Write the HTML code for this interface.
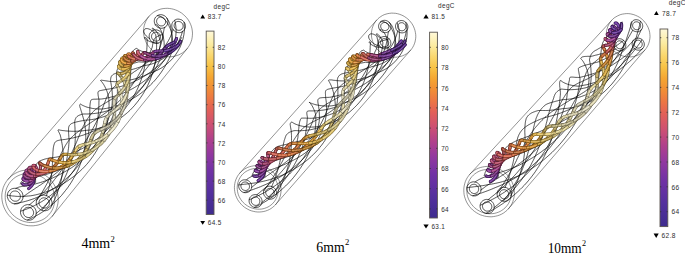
<!DOCTYPE html>
<html><head><meta charset="utf-8"><style>
html,body{margin:0;padding:0;background:#fff;}
body{width:685px;height:253px;overflow:hidden;position:relative;}
svg{position:absolute;left:0;top:0;}
svg path{fill:none;stroke-linecap:round;stroke-linejoin:round;}
svg path.f{fill:#000;stroke:none;}
.tk{font-family:"Liberation Sans",sans-serif;fill:#2e2e2e;letter-spacing:0.35px;}
.lab{font-family:"Liberation Serif",serif;font-size:15px;fill:#000;}
</style></head><body>
<svg width="685" height="253" viewBox="0 0 685 253">
<path d="M52.1 216.4l135.1-167.8M7.9 179.5l140.9-162.9M52.1 216.4l1.4-1.9 1.3-2.1 1.1-2.1 .9-2.2 .6-2.3 .5-2.4 .3-2.4 0-2.5-.2-2.4-.4-2.4-.6-2.4-.8-2.4-1-2.2-1.2-2.2-1.4-2.1-1.5-2-1.7-1.8-1.9-1.7-2-1.5-2.1-1.4-2.2-1.2-2.3-.9-2.4-.8-2.4-.6-2.4-.4-2.5-.1-2.4 0-2.5 .3-2.4 .4-2.3 .7-2.2 .9-2.2 1.1-2 1.2-1.9 1.5-1.8 1.6-1.6 1.8-1.5 1.9-1.2 2-1.1 2.1-.9 2.2-.6 2.4-.5 2.3-.3 2.4 0 2.5 .2 2.4 .4 2.4 .6 2.4 .8 2.4 1 2.2 1.2 2.2 1.3 2.1 1.6 2 1.7 1.8 1.9 1.7 2 1.5 2.1 1.4 2.2 1.2 2.3 .9 2.3 .8 2.5 .6 2.4 .4 2.5 .1 2.4 0 2.5-.3 2.3-.4 2.4-.7 2.2-.9 2.2-1.1 2-1.2 1.9-1.5 1.8-1.6zM49.4 214.1l1.3-1.6 1.1-1.8 1-1.9 .7-2 .6-2 .4-2.1 .3-2.1 0-2.1-.1-2.2-.4-2.1-.5-2.1-.7-2.1-.9-2-1.1-1.9-1.2-1.8-1.3-1.8-1.5-1.6-1.7-1.5-1.7-1.3-1.9-1.2-1.9-1-2.1-.9-2-.7-2.2-.5-2.1-.3-2.2-.2-2.2 .1-2.1 .2-2.1 .4-2 .6-2 .8-1.9 .9-1.8 1.1-1.7 1.3-1.5 1.4-1.5 1.6-1.2 1.6-1.1 1.8-1 1.9-.8 2-.6 2-.4 2.1-.2 2.1 0 2.1 .1 2.2 .4 2.1 .5 2.1 .7 2.1 .9 2 1 1.9 1.3 1.8 1.3 1.8 1.5 1.6 1.7 1.5 1.7 1.3 1.9 1.2 1.9 1.1 2 .8 2.1 .7 2.2 .5 2.1 .4 2.2 .1 2.1 0 2.2-.3 2.1-.4 2-.6 2-.8 1.9-.9 1.8-1.1 1.7-1.3 1.5-1.4zM187.2 48.6l1.2-1.7 1.1-1.7 1-1.9 .7-1.9 .6-2 .4-2.1 .2-2.1 .1-2.1-.2-2.1-.3-2.1-.5-2.1-.7-2-.9-2-1-1.9-1.2-1.8-1.4-1.7-1.5-1.6-1.6-1.4-1.7-1.4-1.8-1.1-2-1.1-2-.8-2-.7-2.1-.5-2.1-.3-2.2-.2-2.1 .1-2.1 .2-2.1 .4-2 .6-1.9 .8-1.9 .9-1.8 1.1-1.6 1.3-1.6 1.3-1.4 1.6-1.2 1.6-1.1 1.8-.9 1.8-.8 2-.6 2-.4 2-.2 2.1-.1 2.1 .2 2.1 .3 2.1 .6 2.1 .7 2 .8 2 1.1 1.9 1.2 1.8 1.3 1.7 1.5 1.6 1.6 1.5 1.7 1.3 1.9 1.2 1.9 1 2 .9 2 .6 2.1 .6 2.2 .3 2.1 .1 2.1 0 2.1-.3 2.1-.4 2-.6 2-.7 1.8-1 1.8-1 1.7-1.3 1.5-1.4z" stroke="#3a3a3a" stroke-width="0.55"/><path id="w1" d="M20.3 184l.2-.7 .3-.6 .3-.6 .4-.5 .5-.5 .5-.4 .7-.4 .6-.3 .8-.3 .9-.3 .9-.3 1-.2 1.1-.2 1.2-.2 1.3-.3 1.3-.3 1.5-.3 1.4-.3 1.6-.4 1.6-.4 1.7-.4 1.7-.4 1.9-.5 1.8-.5 1.9-.6 2-.7 2-.6 2.1-.8 2.1-.8 2.1-.8 2.3-.9 2.4-.9 2.4-1 2.4-1.2 2.4-1.2 2.4-1.3 2.4-1.4 2.4-1.6 2.4-1.6 2.3-1.7 2.3-1.8 2.3-1.9 2.2-1.9 2.2-2.1 2.1-2.1 1.9-2.1 2-2.2 1.8-2.3 1.8-2.3 1.7-2.4 1.7-2.4 1.5-2.4 1.5-2.4 1.4-2.5 1.3-2.5 1.3-2.5 1.1-2.6 1.1-2.5 1-2.5 .9-2.6 .7-2.7 .6-2.7 .5-2.6 .4-2.6 .3-2.6 .2-2.4 .1-2.3 0-2.3 0-2.2-.1-2-.1-2-.2-1.8-.2-1.7-.2-1.6-.1-1.4-.1-1.4 0-1.2 0-1.2 .1-1.1 0-1 .2-.9 .1-.8 .2-.8 .3-.7 .3-.6 .4-.5 .5-.5 .5-.5 .6-.4 .7-.4 .8-.3 .9-.4 1-.3 1-.3 1.2-.3 1.2-.3 1.2-.3 1.4-.3 1.5-.3 1.5-.4 1.6-.3 1.7-.4 1.7-.5 1.8-.5 2.4 .2 2.8 .1 3-.2 3.2-.4 3.2-.8 3.3-1 3.3-1.4 3.3-1.6 3.2-2 3-2.3 2.9-2.5 2.7-2.8 2.5-3 2.1-3.2 1.9-3.3M35.6 182.5l0-1.8 0-1.7 0-1.6 0-1.5-.1-1.5 0-1.4 0-1.2 0-1.2 0-1.1 .1-1.1 .1-.9 .1-.9 .2-.8 .2-.7 .2-.7 .4-.7 .5-.6 .5-.5 .5-.6 .6-.4 .7-.5 .8-.4 .8-.3 .9-.4 1-.3 1-.4 1.1-.3 1.2-.3 1.2-.3 1.4-.3 1.4-.2 1.6-.2 1.6-.2 1.7-.2 1.8-.3 1.9-.4 2-.4 2-.4 2.1-.6 2.2-.6 2.2-.6 2.2-.8 2.3-.9 2.4-.9 2.3-1 2.3-1.2 2.3-1.2 2.3-1.3 2.3-1.3 2.3-1.5 2.3-1.6 2.3-1.6 2.2-1.7 2.2-1.8 2.2-1.8 2.1-2 2.1-2 2-2 2-2.2 2-2.3 2-2.5 1.9-2.5 1.8-2.6 1.7-2.7 1.5-2.7 1.4-2.7 1.3-2.7 1.2-2.8 1-2.8 .9-2.7 .8-2.8 .7-2.7 .6-2.6 .4-2.6 .5-2.4 .4-2.4 .3-2.2 .2-2.2 .3-2.2 .1-2 .1-2 .1-1.9 0-1.8 .1-1.7 0-1.7 0-1.5 0-1.5-.1-1.4 0-1.3 .1-1.2 .1-1.1 .1-1 .2-1 .2-.9 .2-.8 .3-.8 .4-.7 .4-.6 .4-.6 .5-.5 .6-.5 .7-.5 .8-.4 .8-.3 .8 .5 1 .8 1.4 .7 1.6 .7 2 .6 2.2 .6 2.5 .3 2.7 .1 2.9 0 3.1-.4 3.2-.6 3.3-1 3.3-1.2 3.2-1.6 3.2-1.9M7.5 195.2l1.2 .2 1.2 .2 1.4 .2 1.4 .2 1.6 .1 1.7 .2 1.8 .1 1.9 0 2 0 2.1 0 2.2-.2 2.2-.2 2.4-.2 2.4-.4 2.5-.5 2.4-.6 2.5-.6 2.5-.8 2.6-.9 2.6-.9 2.6-1.1 2.6-1.1 2.7-1.3 2.6-1.3 2.6-1.5 2.6-1.5 2.6-1.6 2.6-1.8 2.5-1.8 2.6-1.9 2.6-2.1 2.6-2.3 2.5-2.3 2.4-2.4 2.4-2.6 2.2-2.6 2.1-2.7 2-2.8 1.9-2.8 1.8-2.9 1.6-3 1.6-3 1.4-3 1.2-3 1.2-3 1-3 .9-2.9 .8-2.9 .7-2.8 .6-2.9 .4-2.8 .4-2.7 .3-2.7 .2-2.7 .1-2.5 .1-2.5-.1-2.4-.1-2.3-.1-2.3-.4-2.2-.6-2.1-.6-2.1-.7-1.8-.8-1.7-.7-1.5-.7-1.3-.7-1.2-.7-1-.6-.9-.5-.6-.5-.6-.3-.4-.3-.2-.2-.1 .1-.2 .3-.1 .3-.1 .5 0 .6 .1 .7 .1 .8 .1 1 .2 1 .1 1.2 .2 1.3 .2 1.5 .2 1.5 .1 1.7 .1 1.8 .1 1.8 0 2-.1 2-.2 2.2-.2 2.2-.3 2.3-.3 2.3-.5 2.4-.5 2.5-.6 2.5-.8 2.6-.8 2.6-.9 2.6-1 2.6-1.2 2.6-1.2 3.9-1.4 4.1-1.8 3.9-2.2 3.7-2.6 3.5-3 3.3-3.3 2.9-3.6 2.5-3.9 2.2-4 1.7-4.2 1.3-4.2 .9-4.3 .5-4.2 0-4-.3-4M14.5 203.7l1.7-.3 1.8-.3 1.8-.4 1.9-.4 2-.5 2-.5 2.1-.6 2.1-.7 2.2-.7 2.2-.8 2.2-.9 2.3-1 2.3-1 2.3-1.1 2.4-1.2 2.2-1.3 2.3-1.4 2.2-1.4 2.3-1.5 2.2-1.6 2.2-1.6 2.2-1.8 2.2-1.8 2.1-1.8 2.1-1.9 2-2 2-2 1.9-2.1 1.9-2.2 1.9-2.2 1.8-2.4 1.8-2.4 1.7-2.5 1.6-2.5 1.6-2.6 1.4-2.5 1.3-2.6 1.2-2.7 1.2-2.6 1-2.6 1-2.6 .8-2.6 .8-2.6 .6-2.5 .6-2.5 .6-2.4 .4-2.3 .4-2.3 .4-2.2 .3-2.2 .2-2.1 .2-2.1 .2-2 .1-1.9 .1-1.8 .1-1.8 0-1.6 0-1.6 .1-1.5-.1-1.4-.3-1.4-.2-1.2-.2-1-.1-1-.1-.8-.1-.8 .1-.6 .1-.5 .2-.4 .3-.4 .4-.2 .5-.2 .7-.2 .7-.1 .9-.2 1-.2 1.1-.2 1.2-.2 1.3-.3 1.4-.2 1.5-.2 1.5-.3 1.6-.3 1.8-.3 1.8-.4 1.8-.5 2-.4 2-.6 2-.6 2.1-.7 2.1-.8 2.2-.8 2.2-.9 2.2-1 2.2-1.1 2.3-1.2 2.2-1.2 2.3-1.3 2.2-1.4 2.3-1.5 2.2-1.5 2.2-1.7 2.2-1.7 2.2-1.8 2.7-2.2 2.9-2.6 2.6-2.8 2.4-3.1 2.2-3.2 1.8-3.4 1.5-3.5 1.3-3.5 .9-3.5 .6-3.5 .3-3.3 0-3.3-.3-3-.4-2.9-.6-2.6M22.8 197l1.2-.9 1.2-.8 1.2-.9 1.3-.9 1.2-.9 1.4-.9 1.3-.9 1.4-.9 1.5-1 1.4-1 1.5-.9 1.5-1.1 1.6-1 1.5-1 1.6-1.1 1.6-1.2 1.5-1.1 1.6-1.2 1.7-1.3 1.6-1.2 1.6-1.3 1.6-1.3 1.6-1.3 1.7-1.4 1.6-1.4 1.6-1.5 1.6-1.4 1.6-1.5 1.6-1.6 1.6-1.5 1.7-1.6 1.6-1.7 1.6-1.7 1.5-1.7 1.6-1.8 1.5-1.7 1.4-1.9 1.5-1.8 1.4-1.8 1.3-1.9 1.3-1.9 1.3-1.9 1.2-1.9 1.2-1.9 1.2-1.9 1.1-1.9 1.1-1.9 1-1.8 1-1.9 1-1.9 1-1.8 .9-1.8 .9-1.8 .8-1.8 .8-1.8 .8-1.7 .8-1.7 .8-1.7 .7-1.7 .7-1.6 .6-1.7 .6-1.5 .5-1.6 .6-1.5 .6-1.4 .5-1.4 .6-1.3 .6-1.3 .6-1.2 .6-1.1 .6-1.2 .7-1 .7-1 .8-1 .8-1 .8-1 .9-1 1-.9 1-1 1-.9 1-.9 1.1-.9 1.2-.9 1.1-.9 1.2-.8 1.3-.9 1.3-.9 1.3-1 1.3-.9 1.4-.9 1.4-1 1.5-1 1.4-1 1.5-1.1 1.6-1 1.5-1.1 1.6-1.1 1.5-1.2 1.6-1.1 1.6-1.3 1.6-1.2 1.7-1.3 1.6-1.3 1.6-1.3 2.1-1.4 2-1.5 2.1-1.7 2-1.8 1.9-1.9 1.8-2 1.7-2 1.6-2.2 1.5-2.3 1.3-2.2 1.2-2.3 1.1-2.3 .9-2.3 .8-2.3 .7-2.2M15.8 188.5l.6-.4 .7-.3 .7-.3 .9-.3 .9-.3 1-.2 1.1-.2 1.1-.2 1.3-.2 1.3-.3 1.4-.2 1.5-.2 1.6-.3 1.7-.3 1.7-.4 1.7-.4 1.9-.5 1.8-.5 2-.6 2-.6 2-.7 2-.8 2.2-.8 2.1-.8 2.2-1 2.1-1 2.3-1 2.2-1.2 2.2-1.2 2.3-1.3 2.4-1.3 2.5-1.5 2.4-1.5 2.3-1.6 2.4-1.8 2.3-1.8 2.2-1.9 2.2-2 2.2-2.1 2.1-2.1 2-2.3 2-2.3 1.9-2.3 1.7-2.4 1.7-2.5 1.6-2.4 1.5-2.4 1.5-2.5 1.3-2.5 1.3-2.5 1.2-2.6 1.1-2.5 1-2.5 .9-2.5 .9-2.5 .8-2.5 .7-2.4 .6-2.4 .6-2.4 .4-2.5 .2-2.4 .1-2.4 .1-2.3 0-2.2-.1-2.1-.1-2-.2-1.9-.2-1.8-.2-1.6-.3-1.5-.2-1.4-.2-1.2-.2-1.2-.1-1 0-.9 .1-.9 .1-.8 .3-.8 .2-.6 .4-.6 .4-.5 .5-.5 .5-.4 .7-.4 .7-.3 .8-.3 .9-.3 1-.2 1.1-.3 1.2-.3 1.2-.2 1.3-.3 1.5-.3 1.5-.4 1.5-.3 1.7-.4 1.7-.4 1.8-.5 1.8-.5 1.9-.5 2-.7 2-.6 2.1-.8 2.1-.8 3.2-.5 3.2-.7 3.3-1 3.3-1.4 3.3-1.6 3.2-1.9 3.1-2.3 2.9-2.5 2.8-2.8 2.4-2.9 2.3-3.2 1.9-3.3 1.6-3.5 1.4-3.4 1-3.5M21.4 201.3l.8-1.3 .6-1.4 .3-1.5-.1-1.5-.3-1.5-.6-1.5-.9-1.3-1.1-1.1-1.3-.9-1.4-.6-1.6-.4-1.5 0-1.5 .2-1.5 .6-1.2 .8-1.1 1-.8 1.3-.6 1.4-.3 1.5 0 1.5 .4 1.5 .6 1.5 .9 1.3 1.1 1.1 1.3 .9 1.4 .6 1.5 .4 1.6 0 1.5-.2 1.4-.6 1.3-.8zM19.3 199.5l.5-.8 .4-.9 .2-1-.1-1-.2-1-.4-1-.6-.8-.7-.8-.8-.6-1-.4-1-.2-1 0-1 .1-.9 .4-.9 .5-.7 .7-.5 .8-.4 .9-.2 1 0 1 .2 1 .4 1 .6 .8 .8 .8 .8 .5 1 .5 1 .2 1 0 1-.1 .9-.4 .8-.5zM184 30.4l.7-1.1 .5-1.2 .3-1.3-.1-1.3-.2-1.4-.6-1.2-.7-1.1-1-1-1.1-.8-1.3-.5-1.3-.3-1.4-.1-1.3 .2-1.2 .5-1.1 .7-.9 .9-.8 1.1-.5 1.2-.2 1.3 0 1.3 .3 1.3 .5 1.3 .8 1.1 1 1 1.1 .8 1.2 .5 1.4 .3 1.3 .1 1.3-.2 1.3-.5 1.1-.7zM182.2 28.8l.4-.7 .4-.8 .1-.8 0-.9-.2-.9-.3-.8-.5-.7-.7-.7-.7-.5-.8-.3-.9-.2-.9-.1-.9 .2-.8 .3-.7 .5-.6 .5-.5 .8-.3 .8-.2 .8 .1 .9 .1 .8 .4 .9 .5 .7 .6 .6 .8 .6 .8 .3 .9 .2 .8 0 .9-.1 .8-.3 .7-.5zM27.6 219.9l2.7-1.2 2.8-1.3 2.8-1.5 2.7-1.5 2.8-1.7 2.6-1.8 2.7-1.9 2.6-2 2.5-2.1 2.5-2.2 2.5-2.3 2.3-2.4 2.3-2.4 2.1-2.6 2.1-2.6 2-2.6 1.8-2.6 1.8-2.7 1.6-2.8 1.6-2.7 1.5-2.8 1.4-2.9 1.3-2.8 1.1-2.8 1.1-2.9 1-2.8 .9-2.9 .8-2.8 .7-2.8 .6-2.8 .4-2.9 .3-2.9 .2-2.8 .1-2.7-.1-2.7-.1-2.5-.2-2.5-.2-2.3-.3-2.3-.4-2.1-.4-2-.5-1.9-.5-1.7-.5-1.7-.5-1.5-.3-1.4-.4-1.2-.4-1.2-.3-1.1-.3-.9-.3-.8-.2-.8-.1-.6-.1-.6 0-.4 .1-.4 .1-.3 .3-.2 .3-.2 .3 .1 .4 .3 .6 .4 .7 .4 .9 .4 1.1 .5 1.2 .5 1.4 .5 1.6 .4 1.8 .4 1.8 .4 2.1 .3 2.2 .2 2.3 .1 2.5 0 2.4-.2 2.5-.4 2.5-.5 2.5-.6 2.7-.7 2.6-.8 2.7-.9 2.8-1 2.7-1.2 2.8-1.3 2.7-1.4 2.7-1.5 2.7-1.7 2.7-1.7 2.6-1.9 2.5-2 2.5-2.1 2.4-2.1 2.3-2.3 2.3-2.3 2.2-2.4 2.1-2.5 2-2.6 1.9-2.6 1.8-2.7 1.7-2.7 1.6-2.8 1.5-2.8 1.4-2.8 1.3-2.8 1.1-4.1 .7-4.3 .3-4.2-.1-4.1-.5-3.8-.8-3.6-1.1-3.3-1.4-3-1.5-2.6-1.7-2.2-1.7-1.8-1.7-1.3-1.7-1-1.5-.5-1.4-.2M35.9 213.7l2.2-1.8 2.3-1.9 2.1-1.9 2.2-2.1 2-2.1 2-2.2 2-2.2 1.9-2.3 1.8-2.3 1.7-2.4 1.7-2.4 1.5-2.5 1.5-2.5 1.4-2.5 1.4-2.5 1.2-2.5 1.2-2.5 1.1-2.5 1-2.4 1-2.5 .9-2.5 .8-2.4 .7-2.4 .7-2.4 .6-2.3 .6-2.3 .5-2.3 .4-2.2 .4-2.2 .3-2.1 .1-2.2 .1-2.1 .1-2 0-2-.1-1.8 0-1.8-.1-1.6-.1-1.6 0-1.5-.1-1.3-.1-1.3 0-1.2-.1-1.1 0-1 .1-.9 .2-.9 .2-.8 .3-.7 .3-.6 .3-.6 .5-.6 .5-.5 .6-.4 .6-.4 .8-.4 .8-.3 .9-.3 .9-.3 1.1-.3 1.1-.1 1.2 0 1.4 0 1.5 0 1.6-.1 1.8-.1 1.8-.2 2-.2 2-.3 2.2-.3 2.2-.5 2.3-.5 2.4-.7 2.4-.7 2.5-.9 2.4-1.1 2.3-1.1 2.4-1.2 2.3-1.4 2.3-1.4 2.4-1.5 2.3-1.6 2.3-1.6 2.2-1.8 2.2-1.9 2.2-1.9 2.1-2 2.1-2.1 2-2.1 1.9-2.2 1.9-2.3 1.7-2.3 1.7-2.3 1.6-2.4 1.6-2.4 1.4-2.4 1.4-2.5 1.3-2.4 1.2-2.5 1.2-2.5 1-2.5 1-2.4 .9-2.5 .8-2.4 .8-2.4 .1-3-.1-3.2-.4-3-.5-2.8-.8-2.5-.8-2.2-1-2-.9-1.6-1-1.3-.9-1-.9-.7-.6-.4-.5-.2-.3 .1-.1 .3M29.2 204.9l1.7-1.3 1.7-1.4 1.6-1.4 1.7-1.4 1.7-1.5 1.6-1.5 1.6-1.6 1.7-1.6 1.6-1.6 1.6-1.6 1.5-1.7 1.5-1.7 1.6-1.7 1.4-1.8 1.5-1.8 1.4-1.8 1.4-1.8 1.3-1.8 1.4-1.8 1.3-1.8 1.2-1.8 1.2-1.9 1.2-1.8 1.2-1.9 1.1-1.8 1.2-1.9 1-1.8 1.1-1.9 1-1.8 1-1.9 .9-1.8 .9-1.9 .8-1.8 .8-1.9 .8-1.8 .8-1.7 .7-1.7 .7-1.7 .7-1.7 .7-1.6 .6-1.6 .7-1.6 .6-1.5 .6-1.4 .7-1.5 .6-1.3 .7-1.4 .7-1.3 .7-1.3 .7-1.2 .7-1.3 .7-1.1 .7-1.2 .8-1.1 .8-1.1 .8-1.1 .8-1 .9-1 .9-1 .9-.9 .9-.9 1-.8 1-.8 1.1-.8 1.1-.8 1.2-.8 1.3-.8 1.2-.8 1.4-.9 1.4-.8 1.4-.8 1.5-.9 1.5-.9 1.6-1 1.6-1 1.6-1.1 1.5-1.1 1.7-1.1 1.6-1.2 1.6-1.2 1.7-1.2 1.6-1.3 1.7-1.3 1.7-1.4 1.6-1.4 1.7-1.4 1.6-1.5 1.7-1.5 1.6-1.5 1.6-1.6 1.6-1.6 1.5-1.6 1.6-1.7 1.5-1.7 1.5-1.7 1.4-1.7 1.4-1.8 1.4-1.8 1.4-1.8 1.3-1.8 1.3-1.8 1.3-1.9 1.2-1.8 1.2-1.9 1.2-2.2 1-2.3 .9-2.3 .7-2.2 .7-2.2 .5-2.1 .4-2 .4-1.9 .3-1.8 .3-1.6 .2-1.5 .3-1.4 .2-1.3 .3-1.1 .4-1M20.9 211.1l2.2-.7 2.2-.8 2.3-.9 2.3-1 2.3-1 2.3-1.1 2.4-1.3 2.3-1.3 2.4-1.3 2.3-1.5 2.3-1.5 2.3-1.7 2.3-1.7 2.2-1.8 2.2-1.8 2.1-1.9 2.1-2 2-2 2-2.1 1.9-2.2 1.9-2.1 1.7-2.3 1.8-2.3 1.7-2.3 1.6-2.3 1.5-2.4 1.5-2.4 1.4-2.4 1.3-2.5 1.3-2.5 1.2-2.6 1-2.6 1-2.7 .9-2.6 .8-2.6 .7-2.5 .6-2.6 .6-2.5 .4-2.4 .4-2.4 .3-2.3 .2-2.2 .2-2.2 .1-2.1 .1-2 .1-1.9 .1-1.9 0-1.7 .1-1.7 0-1.6 0-1.5 0-1.4 0-1.4 .1-1.2 0-1.2 .1-1.1 .1-1 .1-1 .2-.9 .1-.7 .1-.6 .2-.4 .2-.4 .4-.3 .4-.2 .6-.2 .7-.1 .8-.1 1 0 1 0 1.2-.1 1.3 0 1.5 0 1.5-.1 1.6-.2 1.7-.3 1.8-.3 1.8-.4 1.9-.5 2-.5 2-.5 2.1-.7 2.2-.7 2.2-.8 2.2-.9 2.3-.9 2.3-1.1 2.3-1.1 2.3-1.2 2.3-1.3 2.3-1.4 2.2-1.4 2.3-1.6 2.2-1.6 2.2-1.7 2.2-1.8 2.1-1.9 2.1-1.9 2-2 2-2.1 2-2.1 1.8-2.2 1.8-2.2 1.8-2.3 2.1-3.3 1.8-3.4 1.6-3.5 1.1-3.5 .9-3.5 .6-3.5 .3-3.4 0-3.2-.3-3.1-.5-2.8-.6-2.6-.8-2.3-.9-2.1-1-1.7-.9-1.4M34.6 217.6l.8-1.2 .6-1.4 .3-1.5-.1-1.6-.3-1.5-.6-1.4-.9-1.3-1.1-1.1-1.3-.9-1.4-.7-1.6-.3-1.5-.1-1.5 .3-1.4 .5-1.3 .8-1.1 1.1-.8 1.2-.6 1.4-.3 1.5 0 1.5 .4 1.6 .6 1.4 .9 1.3 1.1 1.1 1.3 .9 1.4 .6 1.6 .4 1.5 0 1.5-.2 1.4-.5 1.3-.9zM32.5 215.8l.5-.8 .4-.9 .2-1 0-1-.3-1-.4-.9-.5-.9-.8-.7-.8-.6-1-.4-1-.3-1 0-1 .2-.9 .3-.9 .5-.7 .7-.5 .9-.4 .9-.2 1 0 1 .3 1 .4 .9 .5 .9 .8 .7 .8 .6 1 .4 1 .2 1 .1 1-.2 .9-.4 .9-.5zM166.5 26l.7-1.1 .5-1.2 .2-1.3 0-1.4-.3-1.3-.5-1.2-.8-1.2-.9-.9-1.2-.8-1.2-.5-1.3-.4-1.4 0-1.3 .2-1.2 .5-1.1 .7-1 .9-.7 1.1-.5 1.2-.2 1.3 0 1.3 .3 1.3 .5 1.3 .8 1.1 .9 1 1.2 .8 1.2 .5 1.3 .3 1.4 .1 1.3-.3 1.2-.4 1.1-.7zM164.6 24.4l.5-.7 .3-.8 .2-.8 0-.9-.2-.9-.4-.8-.5-.7-.6-.7-.7-.5-.9-.3-.8-.2-.9-.1-.9 .2-.8 .3-.7 .4-.6 .6-.5 .7-.3 .8-.2 .9 0 .9 .2 .8 .4 .8 .5 .8 .6 .6 .7 .5 .9 .4 .8 .2 .9 0 .9-.1 .8-.3 .7-.5zM51.5 205.6l1.6-3 1.4-2.9 1.3-3 1.2-2.9 1.1-3 1-3 .9-3 .8-2.9 .6-2.9 .5-2.9 .5-2.8 .3-2.8 .3-2.7 .1-2.7 .1-2.6 .1-2.4 0-2.4-.1-2.3-.1-2.2-.1-2.1-.2-2.1-.3-1.9-.2-1.9-.3-1.7-.3-1.7-.3-1.6-.3-1.4-.3-1.4-.3-1.3-.3-1.2-.5-1-.4-.9-.4-.8-.3-.6-.3-.6-.2-.4-.1-.3 0-.3 .2-.1 .2-.1 .3 0 .4 .1 .6 .1 .7 .2 .8 .1 .9 .2 1.1 .1 1.2 .1 1.2 .2 1.4 .1 1.5 .1 1.7 .1 1.7 .1 1.8 0 1.9 0 2-.1 2.1-.1 2.2-.2 2.3-.3 2.5-.3 2.7-.2 2.8-.4 2.9-.6 3-.6 2.9-.9 3.1-1 3-1.2 3.1-1.3 3-1.6 3-1.7 2.9-1.8 2.9-2 2.8-2.2 2.8-2.3 2.5-2.3 2.3-2.4 2.3-2.5 2.1-2.6 2.1-2.7 1.9-2.7 1.9-2.8 1.7-2.8 1.6-2.9 1.5-2.9 1.3-2.9 1.3-3 1.1-2.9 1-3 .9-2.9 .8-2.9 .6-2.8 .6-2.8 .5-2.7 .3-2.7 .3-2.6 .2-2.6 .1-2.5 .1-2.4 0-2.3-.1-2.3-.2-2.1-.2-2.1-.2-1.9-.2-1.9-1.6-2-1.8-1.6-1.7-1.3-1.7-.7-1.5-.4-1.3 0-1.1 .3-.7 .7-.4 .9-.1 1.2 .4 1.3 .8 1.5 1.2 1.4 1.6 1.5 2 1.3M46.3 196l.9-2.6 .8-2.5 .8-2.6 .6-2.4 .6-2.5 .5-2.4 .4-2.3 .4-2.3 .3-2.3 .3-2.2 .2-2.1 .1-2.1 .1-1.9 .1-2 .1-1.8 .1-1.7 .1-1.7 0-1.6 .1-1.5 .1-1.4 0-1.4 .1-1.3 .1-1.2 .1-1.2 .1-1.1 .2-1 .2-1 .2-.9 .3-.8 .2-.7 .3-.6 .3-.5 .4-.5 .4-.4 .6-.3 .6-.3 .7-.3 .8-.2 .9-.2 1-.2 1.1-.1 1.2-.2 1.3-.2 1.4-.1 1.5-.3 1.5-.3 1.6-.3 1.7-.3 1.8-.4 1.8-.5 1.9-.4 2-.6 2-.6 2.1-.6 2.1-.8 2.1-.8 2.2-.8 2.3-1 2.2-1 2.4-1 2.5-1.2 2.6-1.2 2.5-1.4 2.6-1.5 2.5-1.7 2.5-1.7 2.4-1.9 2.4-2 2.3-2.1 2.3-2.2 2.1-2.3 2.1-2.4 1.9-2.5 1.9-2.5 1.7-2.5 1.6-2.5 1.5-2.5 1.4-2.5 1.3-2.6 1.2-2.5 1.1-2.6 1-2.6 1-2.5 .8-2.5 .8-2.5 .7-2.5 .6-2.4 .5-2.4 .4-2.4 .4-2.2 .4-2.2 .3-2.2 .3-2 .2-2 .1-2 .2-1.8 .1-1.8 .1-1.7 .1-1.6 0-1.6 .1-1.5 .1-1.4 0-1.3 .1-1.2-.7-.8-.9-.6-.6-.3-.4 0-.3 .2 .1 .3 .3 .6 .6 .6 .9 .7 1.3 .7 1.5 .7 1.9 .7 2.2 .5 2.4 .4 2.6 .2M36.8 200.3l1.3-1.8 1.3-1.9 1.2-1.9 1.2-1.9 1.1-1.9 1.1-1.9 1.1-1.9 1-1.9 1-1.8 1-1.9 .9-1.9 .9-1.8 .9-1.8 .8-1.8 .8-1.8 .8-1.7 .8-1.7 .8-1.7 .8-1.6 .7-1.6 .7-1.6 .7-1.6 .8-1.5 .7-1.6 .7-1.4 .6-1.5 .7-1.4 .7-1.4 .7-1.3 .7-1.4 .7-1.2 .6-1.3 .7-1.2 .7-1.1 .7-1.1 .7-1.1 .8-1.1 .8-1 .8-1 .8-1 .9-.9 1-.9 .9-.9 1-.9 1.1-.9 1.1-.9 1.1-.9 1.2-.9 1.2-.9 1.2-.9 1.3-.9 1.3-1 1.3-.9 1.4-.9 1.4-1 1.4-1 1.5-1 1.5-1 1.5-1 1.6-1 1.6-1.1 1.7-1 1.7-1.1 1.8-1.2 1.7-1.2 1.8-1.3 1.7-1.3 1.8-1.4 1.7-1.4 1.8-1.5 1.7-1.6 1.7-1.5 1.7-1.7 1.7-1.7 1.5-1.7 1.6-1.7 1.5-1.7 1.5-1.8 1.4-1.8 1.4-1.8 1.4-1.8 1.3-1.9 1.3-1.8 1.3-1.9 1.2-1.9 1.2-1.9 1.2-1.8 1.1-1.9 1-1.9 1.1-1.9 1-1.8 1-1.9 .9-1.8 .9-1.8 .9-1.8 .8-1.7 .9-1.8 .8-1.7 .8-1.7 .7-1.6 .8-1.7 .7-1.6 .7-1.5 .7-1.6 .3-1.6 .2-1.4 .3-1.4 .2-1.2 .3-1 .4-1 .5-.8 .5-.7 .7-.7 .8-.6 .9-.5 1-.5 1.2-.5 1.3-.4 1.4-.6M42 209.9l2-2.2 1.8-2.3 1.9-2.3 1.7-2.4 1.7-2.5 1.5-2.4 1.6-2.5 1.4-2.5 1.3-2.6 1.3-2.5 1.1-2.6 1.1-2.6 1-2.5 .9-2.6 .9-2.5 .7-2.4 .7-2.4 .7-2.4 .6-2.3 .5-2.3 .5-2.3 .4-2.2 .3-2.2 .4-2.1 .2-2 .3-2 .2-2 .1-1.8 .2-1.8 .1-1.8-.1-1.7-.1-1.6-.1-1.5-.1-1.5-.1-1.3 0-1.2-.1-1.1 0-1.1 0-.9 .1-.9 .1-.8 .2-.7 .2-.6 .3-.5 .4-.5 .5-.5 .6-.5 .6-.4 .7-.3 .8-.3 .9-.4 1-.2 1-.3 1.1-.3 1.2-.2 1.3-.3 1.4-.3 1.5-.3 1.5-.3 1.7-.2 1.8-.1 2-.2 2-.3 2.1-.3 2.2-.4 2.3-.6 2.4-.6 2.4-.7 2.5-.9 2.5-.9 2.5-1.1 2.5-1.2 2.6-1.4 2.5-1.4 2.4-1.6 2.3-1.6 2.3-1.7 2.2-1.8 2.2-1.9 2.2-2 2.1-2.1 2-2.1 2-2.2 1.9-2.2 1.8-2.4 1.7-2.3 1.7-2.4 1.6-2.5 1.5-2.4 1.4-2.5 1.3-2.5 1.3-2.5 1.1-2.4 1.1-2.5 1-2.5 .9-2.5 .8-2.4 .8-2.4 .6-2.4 .7-2.4 .5-2.3 .5-2.3 .4-2.2 .4-2.2-.5-2.8-.8-2.5-.8-2.2-1-2-1-1.6-.9-1.3-1-1-.8-.7-.7-.4-.5-.2-.3 .1 0 .3 .2 .5 .5 .5 .8 .7M50.4 208.1l.8-1.2 .6-1.4 .2-1.5 0-1.6-.3-1.5-.6-1.4-.9-1.3-1.1-1.1-1.3-.9-1.5-.7-1.5-.3-1.5-.1-1.5 .3-1.5 .5-1.2 .8-1.1 1.1-.9 1.2-.5 1.4-.3 1.5 0 1.6 .4 1.5 .6 1.4 .9 1.3 1.1 1.1 1.3 .9 1.4 .7 1.5 .3 1.6 .1 1.5-.3 1.4-.5 1.3-.8zM48.2 206.3l.6-.8 .4-.9 .2-1-.1-1-.2-1-.4-.9-.6-.9-.7-.7-.9-.6-.9-.4-1-.2-1-.1-1 .2-.9 .3-.9 .6-.7 .7-.5 .8-.4 .9-.2 1 0 1 .2 1 .4 .9 .6 .9 .8 .7 .8 .6 1 .4 1 .2 1 .1 1-.2 .9-.3 .8-.6zM161.4 41.1l.7-1.1 .5-1.2 .3-1.3-.1-1.3-.3-1.3-.5-1.3-.8-1.1-.9-1-1.1-.7-1.3-.6-1.3-.3-1.4 0-1.3 .2-1.2 .4-1.1 .8-.9 .9-.8 1-.5 1.3-.2 1.2 0 1.4 .3 1.3 .5 1.2 .8 1.2 1 .9 1.1 .8 1.2 .6 1.4 .3 1.3 0 1.3-.2 1.3-.5 1.1-.7zM159.6 39.6l.4-.7 .4-.8 .1-.9 0-.8-.2-.9-.3-.8-.5-.8-.7-.6-.7-.5-.8-.4-.9-.2-.9 0-.9 .1-.8 .3-.7 .5-.6 .6-.5 .7-.3 .8-.2 .9 .1 .8 .1 .9 .4 .8 .5 .8 .6 .6 .8 .5 .8 .4 .9 .2 .8 0 .9-.1 .8-.4 .7-.4z" stroke="#000" stroke-width="0.55"/><path d="M33.3 182.7l-.2-1.6-.3-1.6-.6-1.4-.7-1.3-.8-1.2-.9-.9-.9-.7-.9-.6" stroke="#2e143e" stroke-width="3.2"/><path d="M33.3 182.7l-.2-1.6-.3-1.6-.6-1.4-.7-1.3-.8-1.2-.9-.9-.9-.7-.9-.6" stroke="#582576" stroke-width="2.4"/><path d="M33.3 182.7l-.2-1.6-.3-1.6-.6-1.4-.7-1.3-.8-1.2-.9-.9-.9-.7-.9-.6" stroke="#b68fcd" stroke-width="0.6"/><path d="M27.2 178l-.9-.5-.9-.2-.8 0-.6 .1-.5 .3-.3 .4-.1 .5 .1 .5" stroke="#2e143e" stroke-width="3.2"/><path d="M27.2 178l-.9-.5-.9-.2-.8 0-.6 .1-.5 .3-.3 .4-.1 .5 .1 .5" stroke="#6e2e93" stroke-width="2.4"/><path d="M27.2 178l-.9-.5-.9-.2-.8 0-.6 .1-.5 .3-.3 .4-.1 .5 .1 .5" stroke="#b68fcd" stroke-width="0.6"/><path d="M28.7 188.5l1.1-.8 1-1 .9-1.1 .8-1.3 .6-1.4 .4-1.5 .3-1.5 .1-1.6" stroke="#2e143e" stroke-width="3.2"/><path d="M28.7 188.5l1.1-.8 1-1 .9-1.1 .8-1.3 .6-1.4 .4-1.5 .3-1.5 .1-1.6" stroke="#692c8d" stroke-width="2.4"/><path d="M28.7 188.5l1.1-.8 1-1 .9-1.1 .8-1.3 .6-1.4 .4-1.5 .3-1.5 .1-1.6" stroke="#b68fcd" stroke-width="0.6"/><path d="M22.6 183.8l.3 .4 .5 .3 .7 .3 .8 .1 1 0 1-.1 1.1-.3 1.1-.5" stroke="#2e143e" stroke-width="3.2"/><path d="M22.6 183.8l.3 .4 .5 .3 .7 .3 .8 .1 1 0 1-.1 1.1-.3 1.1-.5" stroke="#5f2880" stroke-width="2.4"/><path d="M22.6 183.8l.3 .4 .5 .3 .7 .3 .8 .1 1 0 1-.1 1.1-.3 1.1-.5" stroke="#b68fcd" stroke-width="0.6"/><path d="M33.9 178.3l-.1-1.5-.3-1.4-.5-1.3-.6-1.2-.7-1-.8-.8-.8-.7-.9-.4" stroke="#37153d" stroke-width="3.2"/><path d="M33.9 178.3l-.1-1.5-.3-1.4-.5-1.3-.6-1.2-.7-1-.8-.8-.8-.7-.9-.4" stroke="#7c308a" stroke-width="2.4"/><path d="M33.9 178.3l-.1-1.5-.3-1.4-.5-1.3-.6-1.2-.7-1-.8-.8-.8-.7-.9-.4" stroke="#c291cb" stroke-width="0.6"/><path d="M28 173.4l-.9-.3-.9-.1-.7 .1-.6 .3-.4 .4-.3 .5 0 .6 .1 .7" stroke="#37153d" stroke-width="3.2"/><path d="M28 173.4l-.9-.3-.9-.1-.7 .1-.6 .3-.4 .4-.3 .5 0 .6 .1 .7" stroke="#682873" stroke-width="2.4"/><path d="M28 173.4l-.9-.3-.9-.1-.7 .1-.6 .3-.4 .4-.3 .5 0 .6 .1 .7" stroke="#c291cb" stroke-width="0.6"/><path d="M29.1 184l1.2-.6 1-.9 1-1 .9-1.1 .7-1.3 .5-1.3 .4-1.4 .2-1.4" stroke="#37153d" stroke-width="3.2"/><path d="M29.1 184l1.2-.6 1-.9 1-1 .9-1.1 .7-1.3 .5-1.3 .4-1.4 .2-1.4" stroke="#702b7d" stroke-width="2.4"/><path d="M29.1 184l1.2-.6 1-.9 1-1 .9-1.1 .7-1.3 .5-1.3 .4-1.4 .2-1.4" stroke="#c291cb" stroke-width="0.6"/><path d="M23.2 179.1l.3 .5 .6 .5 .7 .4 .8 .4 1 .1 1.1 .1 1.2-.2 1.2-.3" stroke="#37153d" stroke-width="3.2"/><path d="M23.2 179.1l.3 .5 .6 .5 .7 .4 .8 .4 1 .1 1.1 .1 1.2-.2 1.2-.3" stroke="#823290" stroke-width="2.4"/><path d="M23.2 179.1l.3 .5 .6 .5 .7 .4 .8 .4 1 .1 1.1 .1 1.2-.2 1.2-.3" stroke="#c291cb" stroke-width="0.6"/><path d="M35 175l0-1.3-.2-1.3-.3-1.3-.5-1-.6-1-.7-.7-.7-.6-.7-.3" stroke="#3f1737" stroke-width="3.2"/><path d="M35 175l0-1.3-.2-1.3-.3-1.3-.5-1-.6-1-.7-.7-.7-.6-.7-.3" stroke="#823072" stroke-width="2.4"/><path d="M35 175l0-1.3-.2-1.3-.3-1.3-.5-1-.6-1-.7-.7-.7-.6-.7-.3" stroke="#cf95c3" stroke-width="0.6"/><path d="M29.2 170l-.8-.2-.8 0-.6 .2-.5 .3-.4 .5-.1 .7 0 .7 .3 .7" stroke="#3f1737" stroke-width="3.2"/><path d="M29.2 170l-.8-.2-.8 0-.6 .2-.5 .3-.4 .5-.1 .7 0 .7 .3 .7" stroke="#90357e" stroke-width="2.4"/><path d="M29.2 170l-.8-.2-.8 0-.6 .2-.5 .3-.4 .5-.1 .7 0 .7 .3 .7" stroke="#cf95c3" stroke-width="0.6"/><path d="M30.1 180.6l1.2-.5 1.2-.7 1.1-.9 .9-1 .9-1.1 .6-1.2 .6-1.3 .3-1.2" stroke="#3f1737" stroke-width="3.2"/><path d="M30.1 180.6l1.2-.5 1.2-.7 1.1-.9 .9-1 .9-1.1 .6-1.2 .6-1.3 .3-1.2" stroke="#963783" stroke-width="2.4"/><path d="M30.1 180.6l1.2-.5 1.2-.7 1.1-.9 .9-1 .9-1.1 .6-1.2 .6-1.3 .3-1.2" stroke="#cf95c3" stroke-width="0.6"/><path d="M24.3 175.6l.4 .6 .6 .6 .8 .6 .9 .4 1.1 .3 1.2 .2 1.3 0 1.3-.2" stroke="#3f1737" stroke-width="3.2"/><path d="M24.3 175.6l.4 .6 .6 .6 .8 .6 .9 .4 1.1 .3 1.2 .2 1.3 0 1.3-.2" stroke="#782c69" stroke-width="2.4"/><path d="M24.3 175.6l.4 .6 .6 .6 .8 .6 .9 .4 1.1 .3 1.2 .2 1.3 0 1.3-.2" stroke="#cf95c3" stroke-width="0.6"/><path d="M36.9 172.7l.1-1.3 0-1.2-.2-1.2-.3-1-.5-.8-.5-.7-.5-.6-.5-.3" stroke="#471b31" stroke-width="3.2"/><path d="M36.9 172.7l.1-1.3 0-1.2-.2-1.2-.3-1-.5-.8-.5-.7-.5-.6-.5-.3" stroke="#a93f75" stroke-width="2.4"/><path d="M36.9 172.7l.1-1.3 0-1.2-.2-1.2-.3-1-.5-.8-.5-.7-.5-.6-.5-.3" stroke="#da99ba" stroke-width="0.6"/><path d="M31.9 178.1l1.3-.4 1.3-.6 1.2-.7 1.1-.9 1-1 .8-1.1 .7-1.2 .5-1.2" stroke="#471b31" stroke-width="3.2"/><path d="M31.9 178.1l1.3-.4 1.3-.6 1.2-.7 1.1-.9 1-1 .8-1.1 .7-1.2 .5-1.2" stroke="#87335e" stroke-width="2.4"/><path d="M31.9 178.1l1.3-.4 1.3-.6 1.2-.7 1.1-.9 1-1 .8-1.1 .7-1.2 .5-1.2" stroke="#da99ba" stroke-width="0.6"/><path d="M31.3 167.5l-.7-.1-.7 0-.5 .3-.4 .4-.2 .6-.1 .6 .2 .7 .3 .7" stroke="#471b31" stroke-width="3.2"/><path d="M31.3 167.5l-.7-.1-.7 0-.5 .3-.4 .4-.2 .6-.1 .6 .2 .7 .3 .7" stroke="#923765" stroke-width="2.4"/><path d="M31.3 167.5l-.7-.1-.7 0-.5 .3-.4 .4-.2 .6-.1 .6 .2 .7 .3 .7" stroke="#da99ba" stroke-width="0.6"/><path d="M26.3 172.9l.4 .7 .7 .8 .9 .6 1 .5 1.2 .5 1.3 .2 1.4 0 1.4-.1" stroke="#471b31" stroke-width="3.2"/><path d="M26.3 172.9l.4 .7 .7 .8 .9 .6 1 .5 1.2 .5 1.3 .2 1.4 0 1.4-.1" stroke="#a13d70" stroke-width="2.4"/><path d="M26.3 172.9l.4 .7 .7 .8 .9 .6 1 .5 1.2 .5 1.3 .2 1.4 0 1.4-.1" stroke="#da99ba" stroke-width="0.6"/><path d="M39.8 171l.4-1.1 .2-1.1 .1-1.1 0-.9 0-.9-.1-.7-.2-.7-.1-.5" stroke="#4e1e2c" stroke-width="3.2"/><path d="M39.8 171l.4-1.1 .2-1.1 .1-1.1 0-.9 0-.9-.1-.7-.2-.7-.1-.5" stroke="#943a53" stroke-width="2.4"/><path d="M39.8 171l.4-1.1 .2-1.1 .1-1.1 0-.9 0-.9-.1-.7-.2-.7-.1-.5" stroke="#e49fb2" stroke-width="0.6"/><path d="M34.6 176.1l1.3-.3 1.4-.4 1.2-.6 1.2-.6 1.2-.8 1-.8 1-.9 .8-.9" stroke="#4e1e2c" stroke-width="3.2"/><path d="M34.6 176.1l1.3-.3 1.4-.4 1.2-.6 1.2-.6 1.2-.8 1-.8 1-.9 .8-.9" stroke="#b14563" stroke-width="2.4"/><path d="M34.6 176.1l1.3-.3 1.4-.4 1.2-.6 1.2-.6 1.2-.8 1-.8 1-.9 .8-.9" stroke="#e49fb2" stroke-width="0.6"/><path d="M34.5 165.6l-.5-.2-.4 0-.3 .1-.2 .2-.1 .4 0 .4 .2 .4 .2 .5" stroke="#4e1e2c" stroke-width="3.2"/><path d="M34.5 165.6l-.5-.2-.4 0-.3 .1-.2 .2-.1 .4 0 .4 .2 .4 .2 .5" stroke="#b94867" stroke-width="2.4"/><path d="M34.5 165.6l-.5-.2-.4 0-.3 .1-.2 .2-.1 .4 0 .4 .2 .4 .2 .5" stroke="#e49fb2" stroke-width="0.6"/><path d="M29.2 170.7l.6 .7 .7 .6 .9 .6 .9 .5 1.1 .4 1.2 .3 1.2 .3 1.3 .1" stroke="#4e1e2c" stroke-width="3.2"/><path d="M29.2 170.7l.6 .7 .7 .6 .9 .6 .9 .5 1.1 .4 1.2 .3 1.2 .3 1.3 .1" stroke="#a03f59" stroke-width="2.4"/><path d="M29.2 170.7l.6 .7 .7 .6 .9 .6 .9 .5 1.1 .4 1.2 .3 1.2 .3 1.3 .1" stroke="#e49fb2" stroke-width="0.6"/><path d="M43.7 170.8l.8-1 .6-.9 .6-1 .5-.9 .5-.8 .3-.9 .4-.8 .3-.7" stroke="#532225" stroke-width="3.2"/><path d="M43.7 170.8l.8-1 .6-.9 .6-1 .5-.9 .5-.8 .3-.9 .4-.8 .3-.7" stroke="#bc4d54" stroke-width="2.4"/><path d="M43.7 170.8l.8-1 .6-.9 .6-1 .5-.9 .5-.8 .3-.9 .4-.8 .3-.7" stroke="#eba4a9" stroke-width="0.6"/><path d="M40.1 164l-.2-.4-.2-.3-.1-.2 0-.1 0-.1 0 .1 .2 0 .2 .2" stroke="#532225" stroke-width="3.2"/><path d="M40.1 164l-.2-.4-.2-.3-.1-.2 0-.1 0-.1 0 .1 .2 0 .2 .2" stroke="#9d4147" stroke-width="2.4"/><path d="M40.1 164l-.2-.4-.2-.3-.1-.2 0-.1 0-.1 0 .1 .2 0 .2 .2" stroke="#eba4a9" stroke-width="0.6"/><path d="M37.1 174.2l1.3-.1 1.4-.1 1.3-.2 1.3-.3 1.3-.4 1.3-.4 1.2-.6 1.2-.5" stroke="#532225" stroke-width="3.2"/><path d="M37.1 174.2l1.3-.1 1.4-.1 1.3-.2 1.3-.3 1.3-.4 1.3-.4 1.2-.6 1.2-.5" stroke="#aa464d" stroke-width="2.4"/><path d="M37.1 174.2l1.3-.1 1.4-.1 1.3-.2 1.3-.3 1.3-.4 1.3-.4 1.2-.6 1.2-.5" stroke="#eba4a9" stroke-width="0.6"/><path d="M33.4 167.4l.5 .5 .5 .6 .6 .5 .8 .5 .8 .4 1 .4 1 .3 1 .3" stroke="#532225" stroke-width="3.2"/><path d="M33.4 167.4l.5 .5 .5 .6 .6 .5 .8 .5 .8 .4 1 .4 1 .3 1 .3" stroke="#c45158" stroke-width="2.4"/><path d="M33.4 167.4l.5 .5 .5 .6 .6 .5 .8 .5 .8 .4 1 .4 1 .3 1 .3" stroke="#eba4a9" stroke-width="0.6"/><path d="M47.4 171.6l1.1-.7 1.1-.7 1.1-.7 1-.8 1-.8 1-.9 .8-.8 .8-.9" stroke="#582a1d" stroke-width="3.2"/><path d="M47.4 171.6l1.1-.7 1.1-.7 1.1-.7 1-.8 1-.8 1-.9 .8-.8 .8-.9" stroke="#b5563b" stroke-width="2.4"/><path d="M47.4 171.6l1.1-.7 1.1-.7 1.1-.7 1-.8 1-.8 1-.9 .8-.8 .8-.9" stroke="#f2af9c" stroke-width="0.6"/><path d="M47.7 163.8l.3-.7 .2-.6 .2-.6 .2-.6 .2-.4 .2-.5 .2-.3 .1-.3" stroke="#582a1d" stroke-width="3.2"/><path d="M47.7 163.8l.3-.7 .2-.6 .2-.6 .2-.6 .2-.4 .2-.5 .2-.3 .1-.3" stroke="#c85e41" stroke-width="2.4"/><path d="M47.7 163.8l.3-.7 .2-.6 .2-.6 .2-.6 .2-.4 .2-.5 .2-.3 .1-.3" stroke="#f2af9c" stroke-width="0.6"/><path d="M39.6 170.9l1.2 .3 1.2 .1 1.2 .2 1.3 0 1.4 0 1.4 0 1.4-.2 1.4-.2" stroke="#582a1d" stroke-width="3.2"/><path d="M39.6 170.9l1.2 .3 1.2 .1 1.2 .2 1.3 0 1.4 0 1.4 0 1.4-.2 1.4-.2" stroke="#d16344" stroke-width="2.4"/><path d="M39.6 170.9l1.2 .3 1.2 .1 1.2 .2 1.3 0 1.4 0 1.4 0 1.4-.2 1.4-.2" stroke="#f2af9c" stroke-width="0.6"/><path d="M40 163.2l.2 .2 .4 .2 .4 .3 .4 .3 .6 .3 .6 .4 .7 .3 .8 .4" stroke="#582a1d" stroke-width="3.2"/><path d="M40 163.2l.2 .2 .4 .2 .4 .3 .4 .3 .6 .3 .6 .4 .7 .3 .8 .4" stroke="#a74f36" stroke-width="2.4"/><path d="M40 163.2l.2 .2 .4 .2 .4 .3 .4 .3 .6 .3 .6 .4 .7 .3 .8 .4" stroke="#f2af9c" stroke-width="0.6"/><path d="M55.3 165.3l.8-.9 .7-.9 .7-1 .6-.8 .5-.9 .5-.8 .5-.7 .5-.8" stroke="#5b3415" stroke-width="3.2"/><path d="M55.3 165.3l.8-.9 .7-.9 .7-1 .6-.8 .5-.9 .5-.8 .5-.7 .5-.8" stroke="#bb6c2c" stroke-width="2.4"/><path d="M55.3 165.3l.8-.9 .7-.9 .7-1 .6-.8 .5-.9 .5-.8 .5-.7 .5-.8" stroke="#f7bf92" stroke-width="0.6"/><path d="M50.1 171.1l1.5-.3 1.4-.4 1.5-.5 1.4-.5 1.5-.6 1.5-.6 1.4-.8 1.4-.8" stroke="#5b3415" stroke-width="3.2"/><path d="M50.1 171.1l1.5-.3 1.4-.4 1.5-.5 1.4-.5 1.5-.6 1.5-.6 1.4-.8 1.4-.8" stroke="#d87c33" stroke-width="2.4"/><path d="M50.1 171.1l1.5-.3 1.4-.4 1.5-.5 1.4-.5 1.5-.6 1.5-.6 1.4-.8 1.4-.8" stroke="#f7bf92" stroke-width="0.6"/><path d="M49.3 159.8l.2-.3 .3-.1 .2-.1 .3-.1 .4 .1 .4 .1 .5 .2 .5 .3" stroke="#5b3415" stroke-width="3.2"/><path d="M49.3 159.8l.2-.3 .3-.1 .2-.1 .3-.1 .4 .1 .4 .1 .5 .2 .5 .3" stroke="#cf7730" stroke-width="2.4"/><path d="M49.3 159.8l.2-.3 .3-.1 .2-.1 .3-.1 .4 .1 .4 .1 .5 .2 .5 .3" stroke="#f7bf92" stroke-width="0.6"/><path d="M44.1 165.6l.9 .3 1 .4 1.1 .3 1.1 .3 1.3 .4 1.3 .3 1.5 .2 1.5 .2" stroke="#5b3415" stroke-width="3.2"/><path d="M44.1 165.6l.9 .3 1 .4 1.1 .3 1.1 .3 1.3 .4 1.3 .3 1.5 .2 1.5 .2" stroke="#ad6329" stroke-width="2.4"/><path d="M44.1 165.6l.9 .3 1 .4 1.1 .3 1.1 .3 1.3 .4 1.3 .3 1.5 .2 1.5 .2" stroke="#f7bf92" stroke-width="0.6"/><path d="M61.7 166.6l1.4-.8 1.2-.9 1.3-1 1.1-1 1.1-1.1 1-1.1 1-1.1 .8-1" stroke="#5d3d13" stroke-width="3.2"/><path d="M61.7 166.6l1.4-.8 1.2-.9 1.3-1 1.1-1 1.1-1.1 1-1.1 1-1.1 .8-1" stroke="#dc912e" stroke-width="2.4"/><path d="M61.7 166.6l1.4-.8 1.2-.9 1.3-1 1.1-1 1.1-1.1 1-1.1 1-1.1 .8-1" stroke="#f9cc8f" stroke-width="0.6"/><path d="M60.1 158.5l.4-.6 .4-.7 .3-.5 .4-.6 .3-.4 .4-.4 .4-.3 .4-.3" stroke="#5d3d13" stroke-width="3.2"/><path d="M60.1 158.5l.4-.6 .4-.7 .3-.5 .4-.6 .3-.4 .4-.4 .4-.3 .4-.3" stroke="#bf7e28" stroke-width="2.4"/><path d="M60.1 158.5l.4-.6 .4-.7 .3-.5 .4-.6 .3-.4 .4-.4 .4-.3 .4-.3" stroke="#f9cc8f" stroke-width="0.6"/><path d="M53.8 168l1.6 0 1.6 0 1.6-.1 1.7-.1 1.8-.3 1.7-.4 1.7-.5 1.8-.6" stroke="#5d3d13" stroke-width="3.2"/><path d="M53.8 168l1.6 0 1.6 0 1.6-.1 1.7-.1 1.8-.3 1.7-.4 1.7-.5 1.8-.6" stroke="#b07425" stroke-width="2.4"/><path d="M53.8 168l1.6 0 1.6 0 1.6-.1 1.7-.1 1.8-.3 1.7-.4 1.7-.5 1.8-.6" stroke="#f9cc8f" stroke-width="0.6"/><path d="M52.1 159.9l.7 .2 .7 .3 .8 .3 .9 .3 1 .4 1.1 .3 1.1 .3 1.3 .2" stroke="#5d3d13" stroke-width="3.2"/><path d="M52.1 159.9l.7 .2 .7 .3 .8 .3 .9 .3 1 .4 1.1 .3 1.1 .3 1.3 .2" stroke="#d28b2c" stroke-width="2.4"/><path d="M52.1 159.9l.7 .2 .7 .3 .8 .3 .9 .3 1 .4 1.1 .3 1.1 .3 1.3 .2" stroke="#f9cc8f" stroke-width="0.6"/><path d="M70.6 158.6l.8-1.1 .8-1.1 .6-1 .6-1.1 .6-.9 .5-1 .5-.8 .5-.9" stroke="#5e4819" stroke-width="3.2"/><path d="M70.6 158.6l.8-1.1 .8-1.1 .6-1 .6-1.1 .6-.9 .5-1 .5-.8 .5-.9" stroke="#dfaa3b" stroke-width="2.4"/><path d="M70.6 158.6l.8-1.1 .8-1.1 .6-1 .6-1.1 .6-.9 .5-1 .5-.8 .5-.9" stroke="#fbdb97" stroke-width="0.6"/><path d="M67.3 166l1.7-.7 1.7-.7 1.6-.9 1.6-1 1.5-1 1.5-1.1 1.4-1.2 1.3-1.2" stroke="#5e4819" stroke-width="3.2"/><path d="M67.3 166l1.7-.7 1.7-.7 1.6-.9 1.6-1 1.5-1 1.5-1.1 1.4-1.2 1.3-1.2" stroke="#b28830" stroke-width="2.4"/><path d="M67.3 166l1.7-.7 1.7-.7 1.6-.9 1.6-1 1.5-1 1.5-1.1 1.4-1.2 1.3-1.2" stroke="#fbdb97" stroke-width="0.6"/><path d="M63.1 154.7l.4-.1 .5-.2 .6 0 .6-.1 .7 0 .7 .1 .9 0 .9 .1" stroke="#5e4819" stroke-width="3.2"/><path d="M63.1 154.7l.4-.1 .5-.2 .6 0 .6-.1 .7 0 .7 .1 .9 0 .9 .1" stroke="#c19434" stroke-width="2.4"/><path d="M63.1 154.7l.4-.1 .5-.2 .6 0 .6-.1 .7 0 .7 .1 .9 0 .9 .1" stroke="#fbdb97" stroke-width="0.6"/><path d="M59.7 162.2l1.4 .2 1.4 .2 1.6 .1 1.5 0 1.7-.1 1.7-.1 1.7-.2 1.8-.4" stroke="#5e4819" stroke-width="3.2"/><path d="M59.7 162.2l1.4 .2 1.4 .2 1.6 .1 1.5 0 1.7-.1 1.7-.1 1.7-.2 1.8-.4" stroke="#d5a339" stroke-width="2.4"/><path d="M59.7 162.2l1.4 .2 1.4 .2 1.6 .1 1.5 0 1.7-.1 1.7-.1 1.7-.2 1.8-.4" stroke="#fbdb97" stroke-width="0.6"/><path d="M79.6 158.2l1.3-1.3 1.2-1.3 1.1-1.3 1-1.4 .9-1.3 .9-1.4 .8-1.3 .7-1.3" stroke="#5f522c" stroke-width="3.2"/><path d="M79.6 158.2l1.3-1.3 1.2-1.3 1.1-1.3 1-1.4 .9-1.3 .9-1.4 .8-1.3 .7-1.3" stroke="#b49c53" stroke-width="2.4"/><path d="M79.6 158.2l1.3-1.3 1.2-1.3 1.1-1.3 1-1.4 .9-1.3 .9-1.4 .8-1.3 .7-1.3" stroke="#fceab2" stroke-width="0.6"/><path d="M75.5 150.7l.4-.7 .5-.8 .4-.6 .5-.6 .4-.5 .5-.5 .5-.4 .6-.4" stroke="#5f522c" stroke-width="3.2"/><path d="M75.5 150.7l.4-.7 .5-.8 .4-.6 .5-.6 .4-.5 .5-.5 .5-.4 .6-.4" stroke="#e1c367" stroke-width="2.4"/><path d="M75.5 150.7l.4-.7 .5-.8 .4-.6 .5-.6 .4-.5 .5-.5 .5-.4 .6-.4" stroke="#fceab2" stroke-width="0.6"/><path d="M72.5 161.9l1.8-.4 1.8-.5 1.9-.7 1.8-.7 1.7-.8 1.8-1 1.7-1 1.7-1.1" stroke="#5f522c" stroke-width="3.2"/><path d="M72.5 161.9l1.8-.4 1.8-.5 1.9-.7 1.8-.7 1.7-.8 1.8-1 1.7-1 1.7-1.1" stroke="#d7bb63" stroke-width="2.4"/><path d="M72.5 161.9l1.8-.4 1.8-.5 1.9-.7 1.8-.7 1.7-.8 1.8-1 1.7-1 1.7-1.1" stroke="#fceab2" stroke-width="0.6"/><path d="M68.4 154.5l1 0 1 .1 1.2 .1 1.2 0 1.4 0 1.4-.1 1.4-.1 1.5-.2" stroke="#5f522c" stroke-width="3.2"/><path d="M68.4 154.5l1 0 1 .1 1.2 .1 1.2 0 1.4 0 1.4-.1 1.4-.1 1.5-.2" stroke="#c3a959" stroke-width="2.4"/><path d="M68.4 154.5l1 0 1 .1 1.2 .1 1.2 0 1.4 0 1.4-.1 1.4-.1 1.5-.2" stroke="#fceab2" stroke-width="0.6"/><path d="M87.5 147.6l.6-1.3 .6-1.3 .5-1.2 .5-1.2 .4-1.1 .4-1 .4-1 .4-1" stroke="#605839" stroke-width="3.2"/><path d="M87.5 147.6l.6-1.3 .6-1.3 .5-1.2 .5-1.2 .4-1.1 .4-1 .4-1 .4-1" stroke="#b5a76c" stroke-width="2.4"/><path d="M87.5 147.6l.6-1.3 .6-1.3 .5-1.2 .5-1.2 .4-1.1 .4-1 .4-1 .4-1" stroke="#fdf2c5" stroke-width="0.6"/><path d="M86.7 155.7l1.6-1.2 1.5-1.3 1.5-1.3 1.4-1.4 1.2-1.5 1.3-1.4 1.1-1.6 1-1.5" stroke="#605839" stroke-width="3.2"/><path d="M86.7 155.7l1.6-1.2 1.5-1.3 1.5-1.3 1.4-1.4 1.2-1.5 1.3-1.4 1.1-1.6 1-1.5" stroke="#d8c781" stroke-width="2.4"/><path d="M86.7 155.7l1.6-1.2 1.5-1.3 1.5-1.3 1.4-1.4 1.2-1.5 1.3-1.4 1.1-1.6 1-1.5" stroke="#fdf2c5" stroke-width="0.6"/><path d="M79.3 146.2l.6-.3 .7-.3 .7-.3 .7-.2 .9-.3 .9-.2 .9-.2 1.1-.2" stroke="#605839" stroke-width="3.2"/><path d="M79.3 146.2l.6-.3 .7-.3 .7-.3 .7-.2 .9-.3 .9-.2 .9-.2 1.1-.2" stroke="#e2d087" stroke-width="2.4"/><path d="M79.3 146.2l.6-.3 .7-.3 .7-.3 .7-.2 .9-.3 .9-.2 .9-.2 1.1-.2" stroke="#fdf2c5" stroke-width="0.6"/><path d="M78.5 154.3l1.6-.2 1.6-.3 1.7-.4 1.6-.5 1.7-.6 1.7-.6 1.7-.8 1.7-.8" stroke="#605839" stroke-width="3.2"/><path d="M78.5 154.3l1.6-.2 1.6-.3 1.7-.4 1.6-.5 1.7-.6 1.7-.6 1.7-.8 1.7-.8" stroke="#c4b475" stroke-width="2.4"/><path d="M78.5 154.3l1.6-.2 1.6-.3 1.7-.4 1.6-.5 1.7-.6 1.7-.6 1.7-.8 1.7-.8" stroke="#fdf2c5" stroke-width="0.6"/><path d="M97.3 144.5l1-1.6 .8-1.6 .8-1.5 .7-1.6 .7-1.6 .5-1.5 .5-1.5 .4-1.4" stroke="#605b43" stroke-width="3.2"/><path d="M97.3 144.5l1-1.6 .8-1.6 .8-1.5 .7-1.6 .7-1.6 .5-1.5 .5-1.5 .4-1.4" stroke="#d9ce97" stroke-width="2.4"/><path d="M97.3 144.5l1-1.6 .8-1.6 .8-1.5 .7-1.6 .7-1.6 .5-1.5 .5-1.5 .4-1.4" stroke="#fef6d3" stroke-width="0.6"/><path d="M91.3 138.5l.3-.8 .4-.8 .4-.8 .4-.7 .4-.6 .5-.6 .5-.6 .5-.5" stroke="#605b43" stroke-width="3.2"/><path d="M91.3 138.5l.3-.8 .4-.8 .4-.8 .4-.7 .4-.6 .5-.6 .5-.6 .5-.5" stroke="#b6ac7e" stroke-width="2.4"/><path d="M91.3 138.5l.3-.8 .4-.8 .4-.8 .4-.7 .4-.6 .5-.6 .5-.6 .5-.5" stroke="#fef6d3" stroke-width="0.6"/><path d="M91.8 150.1l1.7-.9 1.7-1 1.6-1.2 1.6-1.2 1.6-1.3 1.5-1.3 1.4-1.5 1.4-1.5" stroke="#605b43" stroke-width="3.2"/><path d="M91.8 150.1l1.7-.9 1.7-1 1.6-1.2 1.6-1.2 1.6-1.3 1.5-1.3 1.4-1.5 1.4-1.5" stroke="#c5bb89" stroke-width="2.4"/><path d="M91.8 150.1l1.7-.9 1.7-1 1.6-1.2 1.6-1.2 1.6-1.3 1.5-1.3 1.4-1.5 1.4-1.5" stroke="#fef6d3" stroke-width="0.6"/><path d="M85.8 144.2l1.1-.3 1.1-.2 1.3-.3 1.3-.4 1.3-.3 1.4-.5 1.5-.5 1.4-.6" stroke="#605b43" stroke-width="3.2"/><path d="M85.8 144.2l1.1-.3 1.1-.2 1.3-.3 1.3-.4 1.3-.3 1.4-.5 1.5-.5 1.4-.6" stroke="#e3d79e" stroke-width="2.4"/><path d="M85.8 144.2l1.1-.3 1.1-.2 1.3-.3 1.3-.4 1.3-.3 1.4-.5 1.5-.5 1.4-.6" stroke="#fef6d3" stroke-width="0.6"/><path d="M102.7 132.2l.4-1.4 .3-1.4 .3-1.3 .2-1.2 .3-1.2 .2-1.1 .2-1 .2-1" stroke="#605d4a" stroke-width="3.2"/><path d="M102.7 132.2l.4-1.4 .3-1.4 .3-1.3 .2-1.2 .3-1.2 .2-1.1 .2-1 .2-1" stroke="#dad2a8" stroke-width="2.4"/><path d="M102.7 132.2l.4-1.4 .3-1.4 .3-1.3 .2-1.2 .3-1.2 .2-1.1 .2-1 .2-1" stroke="#fef9de" stroke-width="0.6"/><path d="M104.3 140.2l1.2-1.5 1.2-1.7 1.2-1.6 1-1.7 .9-1.7 .9-1.8 .7-1.7 .7-1.8" stroke="#605d4a" stroke-width="3.2"/><path d="M104.3 140.2l1.2-1.5 1.2-1.7 1.2-1.6 1-1.7 .9-1.7 .9-1.8 .7-1.7 .7-1.8" stroke="#c6be99" stroke-width="2.4"/><path d="M104.3 140.2l1.2-1.5 1.2-1.7 1.2-1.6 1-1.7 .9-1.7 .9-1.8 .7-1.7 .7-1.8" stroke="#fef9de" stroke-width="0.6"/><path d="M94.7 133.1l.6-.5 .7-.4 .7-.5 .7-.4 .9-.4 .9-.5 .9-.4 1-.5" stroke="#605d4a" stroke-width="3.2"/><path d="M94.7 133.1l.6-.5 .7-.4 .7-.5 .7-.4 .9-.4 .9-.5 .9-.4 1-.5" stroke="#b7b08d" stroke-width="2.4"/><path d="M94.7 133.1l.6-.5 .7-.4 .7-.5 .7-.4 .9-.4 .9-.5 .9-.4 1-.5" stroke="#fef9de" stroke-width="0.6"/><path d="M96.2 141.1l1.5-.6 1.6-.7 1.5-.8 1.6-.9 1.5-1 1.6-1.1 1.5-1.1 1.5-1.3" stroke="#605d4a" stroke-width="3.2"/><path d="M96.2 141.1l1.5-.6 1.6-.7 1.5-.8 1.6-.9 1.5-1 1.6-1.1 1.5-1.1 1.5-1.3" stroke="#e4dbb0" stroke-width="2.4"/><path d="M96.2 141.1l1.5-.6 1.6-.7 1.5-.8 1.6-.9 1.5-1 1.6-1.1 1.5-1.1 1.5-1.3" stroke="#fef9de" stroke-width="0.6"/><path d="M112.1 126.7l.5-1.7 .5-1.7 .4-1.7 .4-1.7 .2-1.6 .2-1.6 .2-1.5 0-1.4" stroke="#615e52" stroke-width="3.2"/><path d="M112.1 126.7l.5-1.7 .5-1.7 .4-1.7 .4-1.7 .2-1.6 .2-1.6 .2-1.5 0-1.4" stroke="#c7c2a8" stroke-width="2.4"/><path d="M112.1 126.7l.5-1.7 .5-1.7 .4-1.7 .4-1.7 .2-1.6 .2-1.6 .2-1.5 0-1.4" stroke="#fffbe9" stroke-width="0.6"/><path d="M104.8 122.6l.2-.9 .2-.8 .2-.8 .3-.8 .3-.7 .4-.6 .4-.6 .4-.6" stroke="#615e52" stroke-width="3.2"/><path d="M104.8 122.6l.2-.9 .2-.8 .2-.8 .3-.8 .3-.7 .4-.6 .4-.6 .4-.6" stroke="#dbd6ba" stroke-width="2.4"/><path d="M104.8 122.6l.2-.9 .2-.8 .2-.8 .3-.8 .3-.7 .4-.6 .4-.6 .4-.6" stroke="#fffbe9" stroke-width="0.6"/><path d="M108.5 133.6l1.4-1.3 1.4-1.4 1.3-1.5 1.3-1.5 1.2-1.6 1.1-1.7 1-1.7 1-1.8" stroke="#615e52" stroke-width="3.2"/><path d="M108.5 133.6l1.4-1.3 1.4-1.4 1.3-1.5 1.3-1.5 1.2-1.6 1.1-1.7 1-1.7 1-1.8" stroke="#e5e0c2" stroke-width="2.4"/><path d="M108.5 133.6l1.4-1.3 1.4-1.4 1.3-1.5 1.3-1.5 1.2-1.6 1.1-1.7 1-1.7 1-1.8" stroke="#fffbe9" stroke-width="0.6"/><path d="M101.1 129.5l1.1-.5 1.1-.5 1.2-.6 1.2-.6 1.3-.7 1.2-.7 1.4-.8 1.3-1" stroke="#615e52" stroke-width="3.2"/><path d="M101.1 129.5l1.1-.5 1.1-.5 1.2-.6 1.2-.6 1.3-.7 1.2-.7 1.4-.8 1.3-1" stroke="#b8b39b" stroke-width="2.4"/><path d="M101.1 129.5l1.1-.5 1.1-.5 1.2-.6 1.2-.6 1.3-.7 1.2-.7 1.4-.8 1.3-1" stroke="#fffbe9" stroke-width="0.6"/><path d="M114.5 113.8l0-1.6 0-1.4 0-1.3-.1-1.3-.1-1.2-.1-1.1-.1-1-.1-.9" stroke="#615f53" stroke-width="3.2"/><path d="M114.5 113.8l0-1.6 0-1.4 0-1.3-.1-1.3-.1-1.2-.1-1.1-.1-1-.1-.9" stroke="#c7c2aa" stroke-width="2.4"/><path d="M114.5 113.8l0-1.6 0-1.4 0-1.3-.1-1.3-.1-1.2-.1-1.1-.1-1-.1-.9" stroke="#fffceb" stroke-width="0.6"/><path d="M118.2 121.1l.9-2 .8-2 .6-2 .6-2 .4-2 .3-1.9 .2-2 .1-1.9" stroke="#615f53" stroke-width="3.2"/><path d="M118.2 121.1l.9-2 .8-2 .6-2 .6-2 .4-2 .3-1.9 .2-2 .1-1.9" stroke="#e6e0c4" stroke-width="2.4"/><path d="M118.2 121.1l.9-2 .8-2 .6-2 .6-2 .4-2 .3-1.9 .2-2 .1-1.9" stroke="#fffceb" stroke-width="0.6"/><path d="M107.2 116.8l.6-.6 .6-.7 .6-.6 .7-.6 .8-.6 .8-.6 .9-.7 .9-.7" stroke="#615f53" stroke-width="3.2"/><path d="M107.2 116.8l.6-.6 .6-.7 .6-.6 .7-.6 .8-.6 .8-.6 .9-.7 .9-.7" stroke="#dbd6bb" stroke-width="2.4"/><path d="M107.2 116.8l.6-.6 .6-.7 .6-.6 .7-.6 .8-.6 .8-.6 .9-.7 .9-.7" stroke="#fffceb" stroke-width="0.6"/><path d="M110.9 124.1l1.4-1.1 1.4-1.1 1.4-1.3 1.3-1.3 1.3-1.5 1.2-1.5 1.2-1.6 1.1-1.6" stroke="#615f53" stroke-width="3.2"/><path d="M110.9 124.1l1.4-1.1 1.4-1.1 1.4-1.3 1.3-1.3 1.3-1.5 1.2-1.5 1.2-1.6 1.1-1.6" stroke="#b8b39d" stroke-width="2.4"/><path d="M110.9 124.1l1.4-1.1 1.4-1.1 1.4-1.3 1.3-1.3 1.3-1.5 1.2-1.5 1.2-1.6 1.1-1.6" stroke="#fffceb" stroke-width="0.6"/><path d="M122.1 105.3l0-1.8 0-1.8-.2-1.7-.2-1.6-.3-1.6-.4-1.5-.3-1.3-.5-1.3" stroke="#615f53" stroke-width="3.2"/><path d="M122.1 105.3l0-1.8 0-1.8-.2-1.7-.2-1.6-.3-1.6-.4-1.5-.3-1.3-.5-1.3" stroke="#e5e0c4" stroke-width="2.4"/><path d="M122.1 105.3l0-1.8 0-1.8-.2-1.7-.2-1.6-.3-1.6-.4-1.5-.3-1.3-.5-1.3" stroke="#fffcea" stroke-width="0.6"/><path d="M114 104l0-.9 0-.8 0-.8 .1-.6 .1-.7 .2-.6 .3-.6 .3-.5" stroke="#615f53" stroke-width="3.2"/><path d="M114 104l0-.9 0-.8 0-.8 .1-.6 .1-.7 .2-.6 .3-.6 .3-.5" stroke="#c7c2aa" stroke-width="2.4"/><path d="M114 104l0-.9 0-.8 0-.8 .1-.6 .1-.7 .2-.6 .3-.6 .3-.5" stroke="#fffcea" stroke-width="0.6"/><path d="M121.2 113.1l1-1.8 .9-1.8 .9-1.8 .7-1.9 .6-1.9 .5-2 .4-1.9 .3-2" stroke="#615f53" stroke-width="3.2"/><path d="M121.2 113.1l1-1.8 .9-1.8 .9-1.8 .7-1.9 .6-1.9 .5-2 .4-1.9 .3-2" stroke="#b8b39d" stroke-width="2.4"/><path d="M121.2 113.1l1-1.8 .9-1.8 .9-1.8 .7-1.9 .6-1.9 .5-2 .4-1.9 .3-2" stroke="#fffcea" stroke-width="0.6"/><path d="M113.1 111.7l1-.8 1-.8 1-.9 1-.9 1.1-1 1-1.1 1-1.2 1.1-1.2" stroke="#615f53" stroke-width="3.2"/><path d="M113.1 111.7l1-.8 1-.8 1-.9 1-.9 1.1-1 1-1.1 1-1.2 1.1-1.2" stroke="#dbd6bb" stroke-width="2.4"/><path d="M113.1 111.7l1-.8 1-.8 1-.9 1-.9 1.1-1 1-1.1 1-1.2 1.1-1.2" stroke="#fffcea" stroke-width="0.6"/><path d="M120.2 92.7l-.4-1.2-.4-1-.4-1-.4-.9-.4-.8-.4-.7-.3-.6-.2-.6" stroke="#615d4c" stroke-width="3.2"/><path d="M120.2 92.7l-.4-1.2-.4-1-.4-1-.4-.9-.4-.8-.4-.7-.3-.6-.2-.6" stroke="#e5ddb5" stroke-width="2.4"/><path d="M120.2 92.7l-.4-1.2-.4-1-.4-1-.4-.9-.4-.8-.4-.7-.3-.6-.2-.6" stroke="#fffae1" stroke-width="0.6"/><path d="M126.5 98l.2-1.9 0-1.9 0-1.9-.2-1.8-.2-1.7-.3-1.7-.4-1.6-.5-1.5" stroke="#615d4c" stroke-width="3.2"/><path d="M126.5 98l.2-1.9 0-1.9 0-1.9-.2-1.8-.2-1.7-.3-1.7-.4-1.6-.5-1.5" stroke="#b7b091" stroke-width="2.4"/><path d="M126.5 98l.2-1.9 0-1.9 0-1.9-.2-1.8-.2-1.7-.3-1.7-.4-1.6-.5-1.5" stroke="#fffae1" stroke-width="0.6"/><path d="M115 98.5l.4-.6 .4-.5 .5-.6 .6-.6 .6-.6 .7-.6 .7-.7 .7-.8" stroke="#615d4c" stroke-width="3.2"/><path d="M115 98.5l.4-.6 .4-.5 .5-.6 .6-.6 .6-.6 .7-.6 .7-.7 .7-.8" stroke="#c6bf9d" stroke-width="2.4"/><path d="M115 98.5l.4-.6 .4-.5 .5-.6 .6-.6 .6-.6 .7-.6 .7-.7 .7-.8" stroke="#fffae1" stroke-width="0.6"/><path d="M121.3 103.8l.9-1.3 1-1.4 .9-1.5 .8-1.5 .7-1.5 .7-1.7 .6-1.6 .5-1.7" stroke="#615d4c" stroke-width="3.2"/><path d="M121.3 103.8l.9-1.3 1-1.4 .9-1.5 .8-1.5 .7-1.5 .7-1.7 .6-1.6 .5-1.7" stroke="#dbd3ad" stroke-width="2.4"/><path d="M121.3 103.8l.9-1.3 1-1.4 .9-1.5 .8-1.5 .7-1.5 .7-1.7 .6-1.6 .5-1.7" stroke="#fffae1" stroke-width="0.6"/><path d="M125.1 84l-.6-1.5-.5-1.3-.7-1.2-.6-1.1-.7-1-.6-.9-.5-.8-.5-.7" stroke="#605b44" stroke-width="3.2"/><path d="M125.1 84l-.6-1.5-.5-1.3-.7-1.2-.6-1.1-.7-1-.6-.9-.5-.8-.5-.7" stroke="#b6ad81" stroke-width="2.4"/><path d="M125.1 84l-.6-1.5-.5-1.3-.7-1.2-.6-1.1-.7-1-.6-.9-.5-.8-.5-.7" stroke="#fef7d5" stroke-width="0.6"/><path d="M127.4 91.6l.4-1.7 .3-1.8 .2-1.7 .1-1.7 0-1.8 0-1.6-.1-1.5-.2-1.6" stroke="#605b44" stroke-width="3.2"/><path d="M127.4 91.6l.4-1.7 .3-1.8 .2-1.7 .1-1.7 0-1.8 0-1.6-.1-1.5-.2-1.6" stroke="#dace9a" stroke-width="2.4"/><path d="M127.4 91.6l.4-1.7 .3-1.8 .2-1.7 .1-1.7 0-1.8 0-1.6-.1-1.5-.2-1.6" stroke="#fef7d5" stroke-width="0.6"/><path d="M117.3 85.9l-.2-.5-.1-.4-.1-.4 0-.4 .1-.3 .2-.3 .3-.3 .4-.3" stroke="#605b44" stroke-width="3.2"/><path d="M117.3 85.9l-.2-.5-.1-.4-.1-.4 0-.4 .1-.3 .2-.3 .3-.3 .4-.3" stroke="#e4d8a1" stroke-width="2.4"/><path d="M117.3 85.9l-.2-.5-.1-.4-.1-.4 0-.4 .1-.3 .2-.3 .3-.3 .4-.3" stroke="#fef7d5" stroke-width="0.6"/><path d="M119.6 93.5l.8-.8 .7-.8 .8-.9 .8-1 .7-1 .8-1.1 .7-1.1 .7-1.1" stroke="#605b44" stroke-width="3.2"/><path d="M119.6 93.5l.8-.8 .7-.8 .8-.9 .8-1 .7-1 .8-1.1 .7-1.1 .7-1.1" stroke="#c5bb8c" stroke-width="2.4"/><path d="M119.6 93.5l.8-.8 .7-.8 .8-.9 .8-1 .7-1 .8-1.1 .7-1.1 .7-1.1" stroke="#fef7d5" stroke-width="0.6"/><path d="M128.1 78.2l-.3-1.5-.3-1.4-.4-1.3-.5-1.3-.5-1.2-.6-1.1-.6-1.1-.7-.9" stroke="#605839" stroke-width="3.2"/><path d="M128.1 78.2l-.3-1.5-.3-1.4-.4-1.3-.5-1.3-.5-1.2-.6-1.1-.6-1.1-.7-.9" stroke="#d8c782" stroke-width="2.4"/><path d="M128.1 78.2l-.3-1.5-.3-1.4-.4-1.3-.5-1.3-.5-1.2-.6-1.1-.6-1.1-.7-.9" stroke="#fdf2c6" stroke-width="0.6"/><path d="M120.4 75.5l-.5-.5-.5-.5-.4-.5-.3-.3-.3-.3-.3-.1-.1-.1-.1-.1" stroke="#605839" stroke-width="3.2"/><path d="M120.4 75.5l-.5-.5-.5-.5-.4-.5-.3-.3-.3-.3-.3-.1-.1-.1-.1-.1" stroke="#b5a76d" stroke-width="2.4"/><path d="M120.4 75.5l-.5-.5-.5-.5-.4-.5-.3-.3-.3-.3-.3-.1-.1-.1-.1-.1" stroke="#fdf2c6" stroke-width="0.6"/><path d="M125.6 85.7l.7-1.3 .6-1.2 .5-1.3 .5-1.4 .5-1.3 .3-1.5 .3-1.5 .2-1.5" stroke="#605839" stroke-width="3.2"/><path d="M125.6 85.7l.7-1.3 .6-1.2 .5-1.3 .5-1.4 .5-1.3 .3-1.5 .3-1.5 .2-1.5" stroke="#c4b576" stroke-width="2.4"/><path d="M125.6 85.7l.7-1.3 .6-1.2 .5-1.3 .5-1.4 .5-1.3 .3-1.5 .3-1.5 .2-1.5" stroke="#fdf2c6" stroke-width="0.6"/><path d="M117.9 83l.4-.3 .5-.4 .6-.4 .6-.4 .6-.4 .7-.5 .8-.5 .8-.6" stroke="#605839" stroke-width="3.2"/><path d="M117.9 83l.4-.3 .5-.4 .6-.4 .6-.4 .6-.4 .7-.5 .8-.5 .8-.6" stroke="#e2d088" stroke-width="2.4"/><path d="M117.9 83l.4-.3 .5-.4 .6-.4 .6-.4 .6-.4 .7-.5 .8-.5 .8-.6" stroke="#fdf2c6" stroke-width="0.6"/><path d="M124.2 68.4l-.8-.8-.7-.7-.8-.5-.7-.4-.7-.2-.7-.1-.5 .1-.4 .2" stroke="#5f532d" stroke-width="3.2"/><path d="M124.2 68.4l-.8-.8-.7-.7-.8-.5-.7-.4-.7-.2-.7-.1-.5 .1-.4 .2" stroke="#d7bc67" stroke-width="2.4"/><path d="M124.2 68.4l-.8-.8-.7-.7-.8-.5-.7-.4-.7-.2-.7-.1-.5 .1-.4 .2" stroke="#fcebb4" stroke-width="0.6"/><path d="M129.2 74.7l.1-1.5 0-1.5-.2-1.5-.3-1.5-.4-1.4-.5-1.4-.7-1.2-.8-1.1" stroke="#5f532d" stroke-width="3.2"/><path d="M129.2 74.7l.1-1.5 0-1.5-.2-1.5-.3-1.5-.4-1.4-.5-1.4-.7-1.2-.8-1.1" stroke="#c3ab5d" stroke-width="2.4"/><path d="M129.2 74.7l.1-1.5 0-1.5-.2-1.5-.3-1.5-.4-1.4-.5-1.4-.7-1.2-.8-1.1" stroke="#fcebb4" stroke-width="0.6"/><path d="M117.9 73.1l0 .1 .1 .1 .3 .1 .4 .1 .5 .1 .7 0 .8 0 .9-.1" stroke="#5f532d" stroke-width="3.2"/><path d="M117.9 73.1l0 .1 .1 .1 .3 .1 .4 .1 .5 .1 .7 0 .8 0 .9-.1" stroke="#b49e56" stroke-width="2.4"/><path d="M117.9 73.1l0 .1 .1 .1 .3 .1 .4 .1 .5 .1 .7 0 .8 0 .9-.1" stroke="#fcebb4" stroke-width="0.6"/><path d="M122.9 79.5l.9-.7 .8-.8 .9-.9 .9-1 .8-1.1 .7-1.2 .7-1.3 .5-1.4" stroke="#5f532d" stroke-width="3.2"/><path d="M122.9 79.5l.9-.7 .8-.8 .9-.9 .9-1 .8-1.1 .7-1.2 .7-1.3 .5-1.4" stroke="#e1c56b" stroke-width="2.4"/><path d="M122.9 79.5l.9-.7 .8-.8 .9-.9 .9-1 .8-1.1 .7-1.2 .7-1.3 .5-1.4" stroke="#fcebb4" stroke-width="0.6"/><path d="M126.4 63.6l-.8-.9-1-.8-.9-.5-.9-.4-.9-.1-.8 .1-.6 .3-.5 .4" stroke="#5f4e23" stroke-width="3.2"/><path d="M126.4 63.6l-.8-.9-1-.8-.9-.5-.9-.4-.9-.1-.8 .1-.6 .3-.5 .4" stroke="#c2a148" stroke-width="2.4"/><path d="M126.4 63.6l-.8-.9-1-.8-.9-.5-.9-.4-.9-.1-.8 .1-.6 .3-.5 .4" stroke="#fce4a6" stroke-width="0.6"/><path d="M129.1 71.1l.4-1.5 .2-1.6 .1-1.5-.1-1.6-.4-1.4-.5-1.4-.6-1.3-.9-1.1" stroke="#5f4e23" stroke-width="3.2"/><path d="M129.1 71.1l.4-1.5 .2-1.6 .1-1.5-.1-1.6-.4-1.4-.5-1.4-.6-1.3-.9-1.1" stroke="#e0ba53" stroke-width="2.4"/><path d="M129.1 71.1l.4-1.5 .2-1.6 .1-1.5-.1-1.6-.4-1.4-.5-1.4-.6-1.3-.9-1.1" stroke="#fce4a6" stroke-width="0.6"/><path d="M118.9 66l-.2 .3-.1 .5 .1 .4 .4 .5 .5 .5 .7 .4 .9 .3 1.1 .1" stroke="#5f4e23" stroke-width="3.2"/><path d="M118.9 66l-.2 .3-.1 .5 .1 .4 .4 .5 .5 .5 .7 .4 .9 .3 1.1 .1" stroke="#d6b14f" stroke-width="2.4"/><path d="M118.9 66l-.2 .3-.1 .5 .1 .4 .4 .5 .5 .5 .7 .4 .9 .3 1.1 .1" stroke="#fce4a6" stroke-width="0.6"/><path d="M121.6 73.5l1-.2 1.1-.4 1.1-.6 1.1-.7 1.1-.9 1-1 .9-1.3 .7-1.3" stroke="#5f4e23" stroke-width="3.2"/><path d="M121.6 73.5l1-.2 1.1-.4 1.1-.6 1.1-.7 1.1-.9 1-1 .9-1.3 .7-1.3" stroke="#b39442" stroke-width="2.4"/><path d="M121.6 73.5l1-.2 1.1-.4 1.1-.6 1.1-.7 1.1-.9 1-1 .9-1.3 .7-1.3" stroke="#fce4a6" stroke-width="0.6"/><path d="M129.6 67.1l.5-1.5 .4-1.6 0-1.5-.1-1.5-.4-1.4-.5-1.3-.7-1-.8-.8" stroke="#5e491a" stroke-width="3.2"/><path d="M129.6 67.1l.5-1.5 .4-1.6 0-1.5-.1-1.5-.4-1.4-.5-1.3-.7-1-.8-.8" stroke="#b28b31" stroke-width="2.4"/><path d="M129.6 67.1l.5-1.5 .4-1.6 0-1.5-.1-1.5-.4-1.4-.5-1.3-.7-1-.8-.8" stroke="#fbdd98" stroke-width="0.6"/><path d="M127.3 59.7l-.9-.8-1-.6-1-.4-.9-.1-.8 .1-.6 .4-.4 .5-.2 .7" stroke="#5e491a" stroke-width="3.2"/><path d="M127.3 59.7l-.9-.8-1-.6-1-.4-.9-.1-.8 .1-.6 .4-.4 .5-.2 .7" stroke="#dfad3e" stroke-width="2.4"/><path d="M127.3 59.7l-.9-.8-1-.6-1-.4-.9-.1-.8 .1-.6 .4-.4 .5-.2 .7" stroke="#fbdd98" stroke-width="0.6"/><path d="M122.3 69l1.2 0 1.3-.2 1.3-.4 1.3-.7 1.2-.9 1.1-1.1 .9-1.3 .7-1.3" stroke="#5e491a" stroke-width="3.2"/><path d="M122.3 69l1.2 0 1.3-.2 1.3-.4 1.3-.7 1.2-.9 1.1-1.1 .9-1.3 .7-1.3" stroke="#d5a63b" stroke-width="2.4"/><path d="M122.3 69l1.2 0 1.3-.2 1.3-.4 1.3-.7 1.2-.9 1.1-1.1 .9-1.3 .7-1.3" stroke="#fbdd98" stroke-width="0.6"/><path d="M120 61.7l-.2 .6 0 .7 .2 .8 .6 .7 .7 .6 1 .5 1.2 .3 1.2 .2" stroke="#5e491a" stroke-width="3.2"/><path d="M120 61.7l-.2 .6 0 .7 .2 .8 .6 .7 .7 .6 1 .5 1.2 .3 1.2 .2" stroke="#c19635" stroke-width="2.4"/><path d="M120 61.7l-.2 .6 0 .7 .2 .8 .6 .7 .7 .6 1 .5 1.2 .3 1.2 .2" stroke="#fbdd98" stroke-width="0.6"/><path d="M131.3 63.1l.4-1.5 .3-1.4 0-1.3-.2-1.3-.4-1.1-.4-.9-.6-.7-.6-.5" stroke="#5d3f13" stroke-width="3.2"/><path d="M131.3 63.1l.4-1.5 .3-1.4 0-1.3-.2-1.3-.4-1.1-.4-.9-.6-.7-.6-.5" stroke="#d38e2b" stroke-width="2.4"/><path d="M131.3 63.1l.4-1.5 .3-1.4 0-1.3-.2-1.3-.4-1.1-.4-.9-.6-.7-.6-.5" stroke="#f9cd8e" stroke-width="0.6"/><path d="M128 56.5l-.8-.6-.8-.4-.8 0-.6 .1-.5 .4-.2 .5-.1 .6 .1 .7" stroke="#5d3f13" stroke-width="3.2"/><path d="M128 56.5l-.8-.6-.8-.4-.8 0-.6 .1-.5 .4-.2 .5-.1 .6 .1 .7" stroke="#b07724" stroke-width="2.4"/><path d="M128 56.5l-.8-.6-.8-.4-.8 0-.6 .1-.5 .4-.2 .5-.1 .6 .1 .7" stroke="#f9cd8e" stroke-width="0.6"/><path d="M124.7 66.1l1.4-.1 1.4-.3 1.3-.6 1.2-.8 1.1-.9 1-1.1 .7-1.1 .6-1.2" stroke="#5d3f13" stroke-width="3.2"/><path d="M124.7 66.1l1.4-.1 1.4-.3 1.3-.6 1.2-.8 1.1-.9 1-1.1 .7-1.1 .6-1.2" stroke="#bf8027" stroke-width="2.4"/><path d="M124.7 66.1l1.4-.1 1.4-.3 1.3-.6 1.2-.8 1.1-.9 1-1.1 .7-1.1 .6-1.2" stroke="#f9cd8e" stroke-width="0.6"/><path d="M121.5 59.5l0 .7 .3 .8 .6 .7 .8 .6 1 .5 1.2 .4 1.2 .2 1.3 0" stroke="#5d3f13" stroke-width="3.2"/><path d="M121.5 59.5l0 .7 .3 .8 .6 .7 .8 .6 1 .5 1.2 .4 1.2 .2 1.3 0" stroke="#dc942d" stroke-width="2.4"/><path d="M121.5 59.5l0 .7 .3 .8 .6 .7 .8 .6 1 .5 1.2 .4 1.2 .2 1.3 0" stroke="#f9cd8e" stroke-width="0.6"/><path d="M133.4 60l.4-1.2 .3-1.2 0-1.1 0-1-.2-.8-.3-.7-.2-.6-.3-.3" stroke="#5b3515" stroke-width="3.2"/><path d="M133.4 60l.4-1.2 .3-1.2 0-1.1 0-1-.2-.8-.3-.7-.2-.6-.3-.3" stroke="#bb6c2c" stroke-width="2.4"/><path d="M133.4 60l.4-1.2 .3-1.2 0-1.1 0-1-.2-.8-.3-.7-.2-.6-.3-.3" stroke="#f7bf92" stroke-width="0.6"/><path d="M127.9 63.4l1.4-.2 1.3-.4 1.2-.6 1.2-.7 1.1-.8 .9-.9 .8-1 .6-1" stroke="#5b3515" stroke-width="3.2"/><path d="M127.9 63.4l1.4-.2 1.3-.4 1.2-.6 1.2-.7 1.1-.8 .9-.9 .8-1 .6-1" stroke="#d87c33" stroke-width="2.4"/><path d="M127.9 63.4l1.4-.2 1.3-.4 1.2-.6 1.2-.7 1.1-.8 .9-.9 .8-1 .6-1" stroke="#f7bf92" stroke-width="0.6"/><path d="M129.8 54.4l-.5-.3-.5-.1-.5 0-.3 .3-.1 .3 0 .5 .2 .5 .4 .6" stroke="#5b3515" stroke-width="3.2"/><path d="M129.8 54.4l-.5-.3-.5-.1-.5 0-.3 .3-.1 .3 0 .5 .2 .5 .4 .6" stroke="#cf7730" stroke-width="2.4"/><path d="M129.8 54.4l-.5-.3-.5-.1-.5 0-.3 .3-.1 .3 0 .5 .2 .5 .4 .6" stroke="#f7bf92" stroke-width="0.6"/><path d="M124.3 57.8l.4 .7 .6 .6 .7 .6 1 .5 1 .4 1.2 .3 1.3 .1 1.3-.1" stroke="#5b3515" stroke-width="3.2"/><path d="M124.3 57.8l.4 .7 .6 .6 .7 .6 1 .5 1 .4 1.2 .3 1.3 .1 1.3-.1" stroke="#ad6428" stroke-width="2.4"/><path d="M124.3 57.8l.4 .7 .6 .6 .7 .6 1 .5 1 .4 1.2 .3 1.3 .1 1.3-.1" stroke="#f7bf92" stroke-width="0.6"/><path d="M136.4 57.8l.5-1 .3-1 .3-.9 .2-.8 .1-.8 0-.7 0-.5 0-.4" stroke="#582a1c" stroke-width="3.2"/><path d="M136.4 57.8l.5-1 .3-1 .3-.9 .2-.8 .1-.8 0-.7 0-.5 0-.4" stroke="#d26443" stroke-width="2.4"/><path d="M136.4 57.8l.5-1 .3-1 .3-.9 .2-.8 .1-.8 0-.7 0-.5 0-.4" stroke="#f3b09c" stroke-width="0.6"/><path d="M131.8 60.9l1.3-.2 1.3-.4 1.2-.5 1.2-.5 1.1-.7 1.1-.8 .9-.8 .9-.9" stroke="#582a1c" stroke-width="3.2"/><path d="M131.8 60.9l1.3-.2 1.3-.4 1.2-.5 1.2-.5 1.1-.7 1.1-.8 .9-.8 .9-.9" stroke="#a85035" stroke-width="2.4"/><path d="M131.8 60.9l1.3-.2 1.3-.4 1.2-.5 1.2-.5 1.1-.7 1.1-.8 .9-.8 .9-.9" stroke="#f3b09c" stroke-width="0.6"/><path d="M133.1 53.1l-.3-.3-.2 0-.1 .1-.1 .1 .1 .3 .2 .3 .3 .4 .5 .5" stroke="#582a1c" stroke-width="3.2"/><path d="M133.1 53.1l-.3-.3-.2 0-.1 .1-.1 .1 .1 .3 .2 .3 .3 .4 .5 .5" stroke="#b6573a" stroke-width="2.4"/><path d="M133.1 53.1l-.3-.3-.2 0-.1 .1-.1 .1 .1 .3 .2 .3 .3 .4 .5 .5" stroke="#f3b09c" stroke-width="0.6"/><path d="M128.5 56.2l.5 .6 .8 .5 .8 .5 1 .4 1.1 .4 1.2 .2 1.2 .1 1.4 0" stroke="#582a1c" stroke-width="3.2"/><path d="M128.5 56.2l.5 .6 .8 .5 .8 .5 1 .4 1.1 .4 1.2 .2 1.2 .1 1.4 0" stroke="#c86040" stroke-width="2.4"/><path d="M128.5 56.2l.5 .6 .8 .5 .8 .5 1 .4 1.1 .4 1.2 .2 1.2 .1 1.4 0" stroke="#f3b09c" stroke-width="0.6"/><path d="M136.5 58.9l1.3-.1 1.6 .1 1.6 0 1.6-.3 1.5-.3 1.5-.6 1.4-.6 1.2-.7" stroke="#502029" stroke-width="3.2"/><path d="M136.5 58.9l1.3-.1 1.6 .1 1.6 0 1.6-.3 1.5-.3 1.5-.6 1.4-.6 1.2-.7" stroke="#b5495c" stroke-width="2.4"/><path d="M136.5 58.9l1.3-.1 1.6 .1 1.6 0 1.6-.3 1.5-.3 1.5-.6 1.4-.6 1.2-.7" stroke="#e7a1ae" stroke-width="0.6"/><path d="M140.8 56.1l.7-.9 .6-.7 .6-.5 .5-.5 .4-.4 .4-.3 .3-.2 .4 0" stroke="#502029" stroke-width="3.2"/><path d="M140.8 56.1l.7-.9 .6-.7 .6-.5 .5-.5 .4-.4 .4-.3 .3-.2 .4 0" stroke="#983d4d" stroke-width="2.4"/><path d="M140.8 56.1l.7-.9 .6-.7 .6-.5 .5-.5 .4-.4 .4-.3 .3-.2 .4 0" stroke="#e7a1ae" stroke-width="0.6"/><path d="M133.5 54.5l.6 .5 .9 1 1.1 1 1.4 .9 1.6 .8 1.7 .6 1.9 .4 1.9 .2" stroke="#502029" stroke-width="3.2"/><path d="M133.5 54.5l.6 .5 .9 1 1.1 1 1.4 .9 1.6 .8 1.7 .6 1.9 .4 1.9 .2" stroke="#a44254" stroke-width="2.4"/><path d="M133.5 54.5l.6 .5 .9 1 1.1 1 1.4 .9 1.6 .8 1.7 .6 1.9 .4 1.9 .2" stroke="#e7a1ae" stroke-width="0.6"/><path d="M137.8 51.7l0-.3 0 .2 .1 .5 .2 .7 .4 .7 .7 .9 .8 .8 1.1 .9" stroke="#502029" stroke-width="3.2"/><path d="M137.8 51.7l0-.3 0 .2 .1 .5 .2 .7 .4 .7 .7 .9 .8 .8 1.1 .9" stroke="#be4c61" stroke-width="2.4"/><path d="M137.8 51.7l0-.3 0 .2 .1 .5 .2 .7 .4 .7 .7 .9 .8 .8 1.1 .9" stroke="#e7a1ae" stroke-width="0.6"/><path d="M148.2 56.4l1.1-.8 1.1-.7 .9-.8 .8-.6 .7-.7 .7-.5 .8-.4 .7-.3" stroke="#411836" stroke-width="3.2"/><path d="M148.2 56.4l1.1-.8 1.1-.7 .9-.8 .8-.6 .7-.7 .7-.5 .8-.4 .7-.3" stroke="#94367b" stroke-width="2.4"/><path d="M148.2 56.4l1.1-.8 1.1-.7 .9-.8 .8-.6 .7-.7 .7-.5 .8-.4 .7-.3" stroke="#d195c1" stroke-width="0.6"/><path d="M144.6 59.9l2 0 2-.3 2-.4 1.9-.7 1.8-.8 1.7-.9 1.6-1 1.4-1.1" stroke="#411836" stroke-width="3.2"/><path d="M144.6 59.9l2 0 2-.3 2-.4 1.9-.7 1.8-.8 1.7-.9 1.6-1 1.4-1.1" stroke="#86316f" stroke-width="2.4"/><path d="M144.6 59.9l2 0 2-.3 2-.4 1.9-.7 1.8-.8 1.7-.9 1.6-1 1.4-1.1" stroke="#d195c1" stroke-width="0.6"/><path d="M144.7 52.6l.5 .1 .5 .3 .7 .3 .8 .4 1 .5 1.2 .5 1.3 .4 1.6 .4" stroke="#411836" stroke-width="3.2"/><path d="M144.7 52.6l.5 .1 .5 .3 .7 .3 .8 .4 1 .5 1.2 .5 1.3 .4 1.6 .4" stroke="#7c2d67" stroke-width="2.4"/><path d="M144.7 52.6l.5 .1 .5 .3 .7 .3 .8 .4 1 .5 1.2 .5 1.3 .4 1.6 .4" stroke="#d195c1" stroke-width="0.6"/><path d="M141.1 56.1l1.4 .9 1.5 .7 1.7 .6 1.9 .5 2.1 .3 2.1 .1 2.2-.2 2.3-.4" stroke="#411836" stroke-width="3.2"/><path d="M141.1 56.1l1.4 .9 1.5 .7 1.7 .6 1.9 .5 2.1 .3 2.1 .1 2.2-.2 2.3-.4" stroke="#9b3980" stroke-width="2.4"/><path d="M141.1 56.1l1.4 .9 1.5 .7 1.7 .6 1.9 .5 2.1 .3 2.1 .1 2.2-.2 2.3-.4" stroke="#d195c1" stroke-width="0.6"/><path d="M159 54.7l1.2-1.2 1.2-1.2 1-1.1 .9-1.1 .9-1 .8-.9 .8-.9 .8-.8" stroke="#30143e" stroke-width="3.2"/><path d="M159 54.7l1.2-1.2 1.2-1.2 1-1.1 .9-1.1 .9-1 .8-.9 .8-.9 .8-.8" stroke="#63297f" stroke-width="2.4"/><path d="M159 54.7l1.2-1.2 1.2-1.2 1-1.1 .9-1.1 .9-1 .8-.9 .8-.9 .8-.8" stroke="#b890cc" stroke-width="0.6"/><path d="M156.3 58.6l2.2-.6 2.1-.8 2.1-1 1.9-1.2 1.8-1.4 1.7-1.4 1.5-1.6 1.3-1.6" stroke="#30143e" stroke-width="3.2"/><path d="M156.3 58.6l2.2-.6 2.1-.8 2.1-1 1.9-1.2 1.8-1.4 1.7-1.4 1.5-1.6 1.3-1.6" stroke="#722f93" stroke-width="2.4"/><path d="M156.3 58.6l2.2-.6 2.1-.8 2.1-1 1.9-1.2 1.8-1.4 1.7-1.4 1.5-1.6 1.3-1.6" stroke="#b890cc" stroke-width="0.6"/><path d="M155 51.6l.8-.3 .9-.1 1-.1 1.1 0 1.2-.1 1.4 0 1.6-.1 1.6-.2" stroke="#30143e" stroke-width="3.2"/><path d="M155 51.6l.8-.3 .9-.1 1-.1 1.1 0 1.2-.1 1.4 0 1.6-.1 1.6-.2" stroke="#6d2d8c" stroke-width="2.4"/><path d="M155 51.6l.8-.3 .9-.1 1-.1 1.1 0 1.2-.1 1.4 0 1.6-.1 1.6-.2" stroke="#b890cc" stroke-width="0.6"/><path d="M152.3 55.5l1.7 .4 1.9 .1 2 .1 2.2-.2 2.2-.3 2.2-.6 2.2-.8 2.2-1" stroke="#30143e" stroke-width="3.2"/><path d="M152.3 55.5l1.7 .4 1.9 .1 2 .1 2.2-.2 2.2-.3 2.2-.6 2.2-.8 2.2-1" stroke="#5b2675" stroke-width="2.4"/><path d="M152.3 55.5l1.7 .4 1.9 .1 2 .1 2.2-.2 2.2-.3 2.2-.6 2.2-.8 2.2-1" stroke="#b890cc" stroke-width="0.6"/><path d="M170.9 49l1.1-1.6 1.1-1.6 .8-1.6 .8-1.5 .7-1.5 .6-1.4 .5-1.2" stroke="#27133e" stroke-width="3.2"/><path d="M170.9 49l1.1-1.6 1.1-1.6 .8-1.6 .8-1.5 .7-1.5 .6-1.4 .5-1.2" stroke="#5d2c92" stroke-width="2.4"/><path d="M170.9 49l1.1-1.6 1.1-1.6 .8-1.6 .8-1.5 .7-1.5 .6-1.4 .5-1.2" stroke="#ab8ecc" stroke-width="0.6"/><path d="M168.9 53.2l2.1-1.2 2-1.5 1.9-1.6 1.7-1.7 1.5-1.9 1.3-1.9 1.2-2" stroke="#27133e" stroke-width="3.2"/><path d="M168.9 53.2l2.1-1.2 2-1.5 1.9-1.6 1.7-1.7 1.5-1.9 1.3-1.9 1.2-2" stroke="#4a2375" stroke-width="2.4"/><path d="M168.9 53.2l2.1-1.2 2-1.5 1.9-1.6 1.7-1.7 1.5-1.9 1.3-1.9 1.2-2" stroke="#ab8ecc" stroke-width="0.6"/><path d="M166.6 46.5l.9-.7 .9-.6 .9-.6 1.1-.6 1.1-.5 1.3-.6 1.3-.7" stroke="#27133e" stroke-width="3.2"/><path d="M166.6 46.5l.9-.7 .9-.6 .9-.6 1.1-.6 1.1-.5 1.3-.6 1.3-.7" stroke="#50267f" stroke-width="2.4"/><path d="M166.6 46.5l.9-.7 .9-.6 .9-.6 1.1-.6 1.1-.5 1.3-.6 1.3-.7" stroke="#ab8ecc" stroke-width="0.6"/><path d="M164.6 50.7l1.8-.3 1.9-.5 1.9-.6 2-.7 2-1 2-1.2 2-1.3" stroke="#27133e" stroke-width="3.2"/><path d="M164.6 50.7l1.8-.3 1.9-.5 1.9-.6 2-.7 2-1 2-1.2 2-1.3" stroke="#582a8c" stroke-width="2.4"/><path d="M164.6 50.7l1.8-.3 1.9-.5 1.9-.6 2-.7 2-1 2-1.2 2-1.3" stroke="#ab8ecc" stroke-width="0.6"/><use href="#w1" opacity="0.30"/><path d="M275.6 204.6l135-154.4M239.9 173l136.7-152.8M275.6 204.6l1.2-1.5 1.1-1.7 1-1.7 .7-1.9 .7-1.8 .4-2 .3-2 .1-2-.1-2-.3-2-.4-2-.6-2-.8-1.9-1-1.8-1.1-1.8-1.2-1.6-1.4-1.6-1.5-1.4-1.6-1.4-1.7-1.1-1.8-1.1-1.9-.8-1.9-.7-2-.6-2-.3-2.1-.2-2 0-2 .1-2 .4-1.9 .5-1.9 .6-1.8 .9-1.7 1-1.6 1.1-1.5 1.3-1.4 1.4-1.3 1.6-1.1 1.6-.9 1.8-.8 1.8-.6 1.9-.4 1.9-.3 2-.1 2 .1 2 .3 2.1 .4 2 .6 1.9 .8 1.9 .9 1.9 1.1 1.7 1.3 1.7 1.3 1.5 1.5 1.5 1.6 1.3 1.8 1.2 1.8 1 1.8 .9 2 .7 2 .5 2 .4 2 .2 2.1 0 2-.2 2-.3 1.9-.5 1.9-.7 1.8-.8 1.7-1 1.6-1.2 1.5-1.3zM273.4 202.7l1.1-1.3 1-1.5 .8-1.5 .7-1.6 .6-1.7 .3-1.7 .3-1.8 .1-1.7-.1-1.8-.3-1.8-.3-1.7-.6-1.8-.7-1.6-.8-1.7-.9-1.5-1.1-1.5-1.2-1.3-1.4-1.3-1.4-1.2-1.5-1-1.6-.9-1.6-.8-1.7-.6-1.8-.5-1.8-.3-1.8-.2-1.7 0-1.8 .2-1.8 .3-1.7 .4-1.6 .6-1.6 .8-1.5 .8-1.4 1-1.4 1.2-1.2 1.2-1.1 1.4-.9 1.4-.9 1.6-.6 1.6-.6 1.6-.4 1.7-.2 1.8-.1 1.8 .1 1.7 .2 1.8 .4 1.8 .5 1.7 .7 1.7 .9 1.6 .9 1.5 1.1 1.5 1.2 1.4 1.3 1.2 1.5 1.2 1.5 1 1.6 .9 1.6 .8 1.7 .6 1.8 .5 1.7 .3 1.8 .2 1.8 0 1.8-.1 1.7-.3 1.7-.5 1.7-.6 1.6-.7 1.5-.9 1.4-1 1.3-1.1zM410.6 50.2l1.2-1.5 1-1.5 .9-1.7 .7-1.7 .6-1.8 .4-1.9 .3-1.9 .1-1.9-.1-1.9-.3-1.9-.4-1.9-.6-1.9-.7-1.8-.9-1.8-1-1.6-1.2-1.6-1.3-1.5-1.4-1.4-1.6-1.2-1.6-1.1-1.7-1-1.8-.8-1.9-.7-1.8-.5-2-.4-1.9-.1-1.9-.1-1.9 .2-1.9 .3-1.9 .5-1.8 .6-1.7 .8-1.6 1-1.6 1.1-1.4 1.2-1.3 1.4-1.2 1.4-1 1.6-.9 1.6-.7 1.8-.6 1.8-.4 1.8-.3 1.9-.1 1.9 .1 2 .2 1.9 .5 1.9 .5 1.8 .8 1.9 .9 1.7 1 1.7 1.2 1.6 1.3 1.4 1.4 1.4 1.6 1.3 1.6 1.1 1.7 .9 1.8 .9 1.8 .6 1.9 .6 1.9 .3 2 .2 1.9 0 1.9-.1 1.9-.4 1.9-.4 1.8-.7 1.7-.8 1.6-.9 1.5-1.1 1.5-1.3z" stroke="#3a3a3a" stroke-width="0.55"/><path id="w2" d="M252 175.7l.3-.9 .4-.9 .4-.9 .5-.8 .5-.8 .5-.7 .5-.7 .6-.7 .6-.6 .7-.6 .7-.6 .8-.5 .8-.5 .9-.5 .9-.5 1-.4 1-.5 1-.4 1.2-.4 1.2-.4 1.2-.4 1.3-.4 1.3-.4 1.4-.5 1.5-.4 1.5-.5 1.6-.5 1.6-.5 1.6-.6 1.7-.5 1.9-.5 1.9-.6 1.9-.6 2-.7 2-.7 2.1-.8 2-.9 2.2-.9 2.1-1 2.1-1.1 2.2-1.1 2.1-1.3 2.2-1.3 2.2-1.3 2.2-1.5 2.4-1.6 2.4-1.7 2.3-1.9 2.3-2 2.2-2 2.1-2.2 2-2.3 1.9-2.4 1.8-2.4 1.7-2.5 1.5-2.6 1.4-2.6 1.3-2.6 1.2-2.6 1-2.6 .9-2.6 .8-2.5 .7-2.4 .6-2.5 .5-2.3 .4-2.4 .3-2.2 .3-2.2 .1-2.1 .1-2 0-1.9 0-1.9 0-1.7-.1-1.6 0-1.5 .1-1.4 .1-1.3 0-1.2 .1-1.2 .1-1 .2-1 .1-.9 .2-.8 .3-.8 .3-.6 .3-.7 .4-.5 .5-.5 .6-.4 .6-.4 .6-.3 .8-.3 .9-.3 .9-.2 1-.2 1.1-.3 1.2-.2 1.3-.2 1.4-.2 1.4-.2 1.5-.3 1.7-.3 1.7-.3 1.7-.4 2.3 .3 2.8 .1 2.9-.1 3.1-.4 3.1-.7 3.3-1 3.2-1.3 3.2-1.7 3.1-1.9 2.9-2.3 2.7-2.5 2.6-2.8 2.2-3 2-3.1 1.7-3.3M264.8 176.8l.3-1.7 .4-1.7 .3-1.6 .3-1.6 .3-1.5 .3-1.5 .3-1.4 .3-1.4 .2-1.3 .3-1.3 .3-1.2 .3-1.2 .3-1.1 .3-1.1 .4-1 .3-.9 .4-.9 .4-.9 .4-.8 .5-.8 .5-.7 .5-.6 .6-.7 .6-.6 .7-.6 .7-.5 .8-.5 .8-.5 .9-.5 .9-.4 1-.3 1-.3 1.1-.3 1.2-.2 1.3-.3 1.3-.3 1.4-.3 1.5-.3 1.6-.4 1.6-.3 1.7-.5 1.7-.4 1.8-.5 1.8-.5 2.1-.6 2.3-.4 2.3-.6 2.4-.6 2.4-.8 2.4-.9 2.5-1.1 2.5-1.1 2.5-1.3 2.5-1.5 2.4-1.5 2.5-1.7 2.3-1.8 2.3-2 2.2-2 2.1-2.1 2-2.2 1.9-2.2 1.8-2.3 1.7-2.4 1.6-2.4 1.5-2.5 1.4-2.5 1.2-2.5 1.2-2.5 1-2.5 1-2.6 .8-2.5 .7-2.4 .6-2.5 .6-2.2 .5-2.2 .5-2.2 .4-2.1 .3-2 .3-2 .2-1.9 .2-1.9 .2-1.7 .1-1.7 .1-1.6 .1-1.6 .1-1.4 0-1.4 .1-1.3 .1-1.2 .1-1.1 0-1 .2-1 .1-.8 .2-.8 .3-.7 .3-.6 .4-.6 .4-.5 .5-.5 .5-.4 .7-.3 .7-.3 .8-.3 .9 .6 1.1 .8 1.4 .8 1.7 .7 2 .7 2.3 .5 2.5 .3 2.8 .1 2.9-.2 3.1-.4 3.2-.8 3.2-1 3.3-1.4 3.1-1.8 3.1-2M238.9 184.9l1-.1 1.1-.1 1.2-.2 1.2-.1 1.3-.2 1.3-.1 1.5-.2 1.4-.1 1.6-.2 1.6-.3 1.7-.2 1.8-.3 1.8-.3 1.9-.4 1.9-.4 2-.4 2-.5 2.1-.5 2.2-.6 2.1-.7 2.3-.7 2.2-.8 2.3-.8 2.3-.9 2.3-1 2.3-1.1 2.3-1.1 2.3-1.3 2.4-1.2 2.3-1.4 2.5-1.5 2.5-1.6 2.4-1.6 2.4-1.8 2.4-1.8 2.3-2 2.3-2 2.1-2.1 2.2-2.2 2-2.2 2-2.4 1.9-2.3 1.8-2.5 1.7-2.5 1.7-2.7 1.6-3 1.5-3 1.3-3.1 1.1-3.1 .9-3.1 .8-3.1 .5-3.1 .4-2.9 .3-3 .1-2.8 0-2.7-.2-2.6-.3-2.5-.4-2.3-.4-2.2-.4-2-.5-1.8-.5-1.7-.5-1.6-.6-1.4-.5-1.3-.5-1.1-.5-.9-.4-.8-.4-.7-.3-.5-.2-.5-.2-.2 0-.2 .2-.2 .3-.1 .4-.1 .5 0 .7 0 .7 0 .8 .1 1 .2 1 .1 1.2 .1 1.3 .2 1.4 .1 1.5 .1 1.6 .1 1.7 0 1.8 .1 2-.1 2-.1 2.1-.1 2.2-.2 2.3-.4 2.4-.4 2.4-.5 2.5-.6 2.5-.7 2.5-.8 2.6-1 2.6-1 2.6-1.2 2.6-1.3 3.8-1.5 3.8-2 3.7-2.4 3.5-2.8 3.1-3.2 2.9-3.4 2.4-3.7 2.1-3.9 1.6-4.1 1.2-4.1 .8-4 .3-4-.1-3.9-.4-3.7-.8-3.4M244.1 192.5l1.5-.5 1.5-.5 1.5-.5 1.6-.5 1.6-.6 1.6-.5 1.8-.7 1.7-.6 1.8-.7 1.8-.7 1.8-.8 1.9-.8 1.9-.8 1.9-.9 2-.9 2-1 2-1.1 2-1 2-1.2 2-1.2 2.1-1.2 2-1.3 2-1.4 2-1.4 2-1.5 2-1.5 2-1.6 1.9-1.6 1.9-1.7 1.9-1.8 2-1.8 1.9-1.9 1.8-2 1.8-2 1.8-2.1 1.7-2.1 1.6-2.2 1.5-2.2 1.5-2.2 1.4-2.3 1.4-2.2 1.2-2.3 1.2-2.3 1.2-2.3 .9-2.4 .9-2.6 .8-2.6 .6-2.6 .5-2.5 .4-2.4 .3-2.4 .2-2.3 .1-2.2 .1-2.1-.1-2-.1-1.9-.1-1.8-.2-1.6-.2-1.5-.2-1.4-.1-1.3-.1-1.1 0-1.1-.1-.9 0-.8 .1-.7 .1-.7 .2-.5 .3-.4 .4-.4 .4-.3 .6-.2 .6-.2 .8-.2 .9-.2 1-.2 1-.2 1.2-.3 1.2-.2 1.3-.2 1.4-.3 1.5-.2 1.6-.3 1.6-.3 1.7-.4 1.8-.4 1.9-.4 1.9-.6 1.9-.5 2-.6 2.1-.7 2.2-.8 2.1-.8 2.2-.9 2.2-1 2.2-1.1 2.3-1.2 2.2-1.3 2.2-1.3 2.2-1.5 2.2-1.5 2.2-1.6 2.1-1.7 2.1-1.7 2.6-2.2 2.6-2.7 2.5-2.9 2.1-3 1.9-3.2 1.5-3.4 1.2-3.3 .9-3.4 .6-3.3 .2-3.2 0-3.1-.3-2.9-.5-2.6-.6-2.5-.8-2.1M251.5 187.5l1.1-.9 1.1-.9 1.1-.9 1.2-.9 1.2-.9 1.2-.9 1.2-.9 1.3-1 1.3-.9 1.3-.9 1.3-1 1.3-.9 1.4-1 1.4-1 1.4-1 1.4-1 1.5-1 1.4-1 1.5-1.1 1.5-1.1 1.5-1.1 1.5-1.1 1.5-1.1 1.5-1.2 1.6-1.2 1.5-1.2 1.5-1.2 1.6-1.3 1.5-1.3 1.6-1.3 1.6-1.4 1.5-1.3 1.6-1.5 1.6-1.4 1.5-1.5 1.6-1.5 1.5-1.5 1.5-1.6 1.4-1.6 1.5-1.6 1.4-1.6 1.4-1.7 1.4-1.7 1.3-1.7 1.3-1.7 1.3-1.9 1.3-1.9 1.2-1.8 1.1-1.9 1.1-1.9 1-1.9 .9-1.9 .9-1.9 .9-1.8 .8-1.8 .7-1.8 .7-1.7 .7-1.7 .6-1.6 .6-1.6 .6-1.5 .7-1.5 .5-1.4 .6-1.4 .6-1.3 .6-1.3 .6-1.3 .6-1.1 .6-1.2 .6-1.1 .7-1 .7-1 .7-.9 .8-1 .8-.9 .8-.9 .9-.9 1-.8 .9-.9 1-.8 1.1-.9 1-.8 1.2-.8 1.1-.8 1.2-.8 1.2-.8 1.3-.9 1.3-.8 1.3-.9 1.4-.8 1.4-.9 1.4-.9 1.5-.9 1.5-.9 1.5-1 1.6-1 1.6-1 1.5-1.1 1.6-1.1 1.6-1.1 1.7-1.2 1.6-1.2 1.6-1.2 1.7-1.3 2-1.4 2-1.5 2-1.7 1.9-1.8 1.8-1.9 1.7-2 1.6-2.1 1.5-2.2 1.3-2.2 1.1-2.2 1-2.2 .9-2.2 .8-2.2 .6-2.1 .5-2M246.3 180l.6-.6 .7-.6 .8-.5 .8-.5 .9-.5 .9-.5 .9-.5 1-.4 1.1-.4 1.1-.5 1.2-.4 1.2-.4 1.3-.5 1.3-.4 1.4-.5 1.4-.4 1.5-.5 1.6-.5 1.6-.5 1.6-.5 1.7-.6 1.7-.6 1.8-.6 1.8-.7 1.8-.7 1.9-.8 1.9-.8 1.9-.8 2-.9 2-1 2.1-.9 2.2-1.1 2.1-1.1 2.2-1.2 2.1-1.2 2.2-1.3 2.1-1.4 2.2-1.5 2.1-1.6 2.1-1.6 2-1.7 2-1.7 2-1.8 2-1.9 2-2.1 2-2.3 2-2.3 1.8-2.4 1.7-2.5 1.6-2.5 1.5-2.6 1.3-2.6 1.2-2.7 1.1-2.6 .9-2.6 .8-2.6 .7-2.6 .6-2.5 .4-2.5 .4-2.4 .3-2.2 .2-2.2 .2-2.1 .1-2 0-1.9 0-1.9 0-1.7-.1-1.6-.1-1.5-.1-1.4-.1-1.2-.1-1.2-.1-1.1 0-.9 .1-.9 .2-.8 .2-.7 .3-.7 .4-.6 .4-.6 .4-.5 .6-.4 .6-.4 .7-.4 .7-.3 .9-.3 .9-.2 1-.3 1.1-.2 1.2-.2 1.2-.2 1.4-.2 1.4-.3 1.6-.2 1.6-.3 1.6-.3 1.8-.4 1.8-.4 1.9-.4 2-.6 2-.6 2-.6 2.1-.7 2.2-.8 3.2-.8 3.2-.9 3.3-1.2 3.2-1.5 3.1-1.9 3-2.1 2.8-2.4 2.6-2.7 2.4-2.9 2.1-3.1 1.8-3.3 1.5-3.3 1.1-3.3 .9-3.4 .5-3.3M250.2 190.7l.7-1.1 .5-1.1 .3-1.2 0-1.3-.2-1.3-.5-1.2-.7-1.1-.9-.9-1.1-.8-1.1-.5-1.3-.4-1.3 0-1.2 .1-1.2 .4-1.1 .7-.9 .8-.7 1-.5 1.2-.3 1.2 0 1.3 .2 1.2 .5 1.2 .7 1.1 .9 1 1.1 .8 1.1 .5 1.3 .3 1.3 .1 1.2-.2 1.2-.4 1.1-.6zM248.5 189.1l.5-.6 .3-.8 .2-.8 0-.8-.2-.8-.3-.8-.5-.8-.5-.6-.7-.5-.8-.4-.8-.2-.9 0-.8 .1-.8 .3-.7 .4-.6 .5-.5 .7-.3 .7-.2 .9 0 .8 .2 .8 .3 .8 .4 .7 .6 .7 .7 .5 .8 .3 .8 .2 .9 .1 .8-.1 .8-.3 .7-.4zM406.5 30.9l.7-.9 .4-1.1 .3-1.2 0-1.2-.2-1.2-.5-1.1-.6-1.1-.9-.9-1-.7-1.1-.6-1.2-.3-1.2-.1-1.2 .2-1.1 .4-1.1 .6-.8 .8-.7 1-.5 1.1-.3 1.1 0 1.2 .3 1.2 .4 1.2 .7 1 .8 .9 1 .8 1.1 .5 1.2 .3 1.3 .1 1.2-.2 1.1-.4 1-.6zM404.8 29.5l.5-.7 .3-.7 .2-.7 0-.8-.2-.8-.3-.8-.4-.7-.6-.6-.6-.4-.8-.4-.7-.2-.8 0-.8 .1-.8 .2-.6 .4-.6 .6-.5 .6-.3 .7-.1 .8-.1 .8 .2 .8 .3 .7 .4 .7 .6 .6 .7 .5 .7 .3 .8 .2 .8 .1 .8-.1 .7-.3 .7-.4zM254.5 207.3l2.3-1.1 2.3-1.2 2.3-1.2 2.3-1.3 2.3-1.3 2.3-1.5 2.2-1.5 2.3-1.5 2.2-1.7 2.2-1.7 2.2-1.7 2.1-1.9 2.1-1.9 2.1-1.9 2-2 2-2.1 1.9-2.1 1.9-2.2 1.8-2.3 1.7-2.2 1.7-2.3 1.6-2.4 1.6-2.4 1.5-2.4 1.4-2.4 1.3-2.5 1.2-2.4 1.2-2.5 1.1-2.5 1-2.5 1-2.6 .8-2.6 .7-2.7 .6-2.5 .6-2.6 .4-2.5 .4-2.4 .3-2.4 .2-2.3 .1-2.3 .1-2.2 0-2.1 0-2.1-.1-1.9-.3-1.9-.6-1.9-.7-1.8-.7-1.5-.6-1.4-.7-1.2-.7-1-.6-.9-.5-.6-.5-.5-.3-.4-.3-.2-.1-.1 0 .1 .1 .1 .3 .2 .5 .2 .6 .3 .8 .3 .9 .4 1.1 .3 1.2 .4 1.4 .4 1.6 .3 1.6 .3 1.9 .3 1.9 .2 2.1 .1 2.2 .1 2.3-.1 2.3-.2 2.3-.4 2.4-.5 2.4-.6 2.5-.7 2.5-.8 2.6-.8 2.6-1 2.5-1.2 2.6-1.2 2.6-1.3 2.6-1.5 2.5-1.5 2.5-1.7 2.5-1.8 2.4-1.8 2.4-2 2.3-2.1 2.3-2.2 2.2-2.3 2-2.4 2-2.4 1.9-2.5 1.8-2.6 1.7-2.6 1.6-2.7 1.4-2.7 1.3-2.7 1.3-2.7 1.1-2.8 .7-3.9 .4-4-.1-3.9-.5-3.7-.8-3.4-1.1-3.1-1.3-2.8-1.5-2.4-1.6-2-1.7-1.5-1.7-1.1-1.5-.7-1.5-.2-1.2 .1-.9 .5M261.7 202.6l2-1.5 1.9-1.6 1.9-1.6 1.9-1.7 1.9-1.7 1.8-1.8 1.8-1.8 1.8-1.8 1.7-1.9 1.7-1.9 1.7-2 1.6-2 1.6-2 1.5-2 1.4-2.1 1.5-2.1 1.3-2.2 1.4-2.1 1.2-2.2 1.2-2.1 1.2-2.2 1.1-2.2 1-2.1 1-2.2 .9-2.2 .9-2.1 .8-2.1 .8-2.1 .7-2.1 .7-2.1 .5-2.1 .5-2.1 .4-2.1 .4-2 .3-1.9 .3-1.9 .3-1.8 .2-1.8 .2-1.7 .1-1.6 .2-1.6 .1-1.5 .1-1.4 .2-1.3 0-1.2-.2-1.1-.2-1-.1-.9-.1-.8 0-.6 .1-.5 .1-.4 .3-.4 .3-.2 .5-.2 .6 0 .7-.1 .8 0 1 0 1.1 0 1.2 0 1.3-.1 1.5 0 1.5-.1 1.7-.2 1.7-.2 1.9-.2 1.9-.3 2.1-.4 2-.4 2.2-.6 2.2-.6 2.3-.7 2.3-.8 2.3-1 2.2-1.1 2.2-1.1 2.2-1.2 2.3-1.4 2.2-1.3 2.1-1.5 2.2-1.6 2.2-1.6 2.1-1.7 2-1.8 2-1.9 2-1.9 1.9-2 1.8-2.1 1.8-2.1 1.7-2.2 1.7-2.2 1.5-2.3 1.5-2.3 1.4-2.4 1.3-2.3 1.3-2.4 1.1-2.4 1-2.3 1-2.4 .9-2.4 .8-2.3 .7-2.3 .6-2.3 0-2.7-.3-2.9-.5-2.7-.7-2.4-.8-2.1-.9-1.8-1-1.5-.9-1.2-.9-.9-.8-.5-.6-.3-.4 0-.2 .3 .1 .4 .4 .6M256.6 195l1.6-1.3 1.5-1.2 1.5-1.3 1.6-1.3 1.5-1.3 1.5-1.3 1.5-1.4 1.5-1.3 1.5-1.5 1.5-1.4 1.5-1.4 1.5-1.5 1.5-1.5 1.4-1.5 1.4-1.5 1.5-1.6 1.4-1.6 1.4-1.6 1.3-1.6 1.4-1.6 1.3-1.6 1.3-1.7 1.3-1.6 1.2-1.7 1.2-1.6 1.2-1.7 1.2-1.7 1.2-1.7 1.1-1.7 1.1-1.7 1.1-1.7 1-1.8 1-1.7 1-1.7 .9-1.7 .9-1.7 .9-1.7 .9-1.6 .8-1.7 .8-1.6 .8-1.6 .8-1.6 .7-1.5 .7-1.5 .7-1.5 .6-1.5 .5-1.4 .5-1.4 .6-1.3 .5-1.3 .6-1.2 .5-1.1 .6-1.1 .6-1.1 .6-.9 .7-1 .7-.9 .8-.8 .8-.8 .9-.8 .9-.8 1-.8 1-.7 1-.8 1.2-.7 1.1-.7 1.3-.8 1.2-.7 1.4-.8 1.3-.7 1.4-.8 1.5-.9 1.5-.8 1.5-.9 1.5-.9 1.6-1 1.5-1 1.6-1.1 1.6-1.1 1.6-1.1 1.6-1.2 1.6-1.1 1.6-1.3 1.7-1.2 1.6-1.4 1.6-1.3 1.6-1.4 1.6-1.4 1.6-1.4 1.6-1.5 1.5-1.6 1.6-1.5 1.5-1.6 1.5-1.6 1.4-1.7 1.4-1.7 1.4-1.7 1.4-1.7 1.3-1.7 1.3-1.8 1.2-1.7 1.2-1.8 1.2-1.8 1.1-1.7 1.1-2.2 .8-2.2 .8-2.2 .6-2.1 .5-2 .4-1.9 .3-1.7 .2-1.7 .3-1.5 .2-1.4 .2-1.2 .2-1.1 .3-.9 .3-.9 .5-.7M249.4 199.6l1.9-.7 1.9-.9 1.9-.8 1.9-.9 2-1 1.9-1 2-1 2-1.1 2-1.2 2-1.2 2-1.3 2-1.3 2-1.3 2-1.5 2-1.4 2-1.6 1.9-1.5 2-1.7 1.9-1.7 1.9-1.7 1.8-1.8 1.9-1.8 1.7-1.9 1.8-1.9 1.7-1.9 1.6-2 1.6-2 1.6-2 1.5-2.1 1.5-2.2 1.4-2.2 1.4-2.3 1.3-2.3 1.2-2.3 1.2-2.3 1-2.3 1-2.3 .9-2.3 .9-2.2 .8-2.3 .7-2.2 .6-2.2 .6-2.2 .5-2.1 .4-2.2 .2-2.3 0-2.2 0-2-.1-2-.1-1.8-.2-1.7-.2-1.6-.2-1.4-.2-1.3-.2-1.2-.2-1-.1-1-.1-.8 0-.6 .1-.6 .2-.6 .2-.4 .4-.4 .4-.3 .6-.2 .6-.2 .8-.1 .9-.1 .9-.1 1.1 0 1.2-.1 1.3-.1 1.5 0 1.5-.1 1.6-.2 1.6-.4 1.7-.3 1.8-.4 1.9-.5 1.9-.5 1.9-.6 2.1-.6 2-.7 2.1-.8 2.2-.8 2.1-.9 2.2-1 2.2-1.1 2.2-1.2 2.3-1.3 2.2-1.3 2.2-1.4 2.2-1.5 2.2-1.6 2.1-1.7 2.1-1.8 2.1-1.8 2-1.9 2-2 1.8-2 1.9-2.1 1.7-2.2 1.7-2.2 1.6-2.2 1.8-3.4 1.5-3.3 1.2-3.4 .8-3.4 .5-3.3 .2-3.2 0-3-.4-2.9-.5-2.6-.7-2.4-.8-2-.9-1.8-1-1.4-.9-1.2-.9-.8M260.6 205.5l.7-1 .5-1.1 .2-1.3 .1-1.2-.3-1.3-.5-1.2-.6-1.1-.9-.9-1.1-.8-1.2-.6-1.2-.3-1.3-.1-1.3 .2-1.2 .4-1 .6-.9 .9-.8 1-.5 1.1-.2 1.3 0 1.2 .2 1.3 .5 1.2 .7 1.1 .9 1 1 .7 1.2 .6 1.2 .3 1.3 .1 1.3-.2 1.2-.4 1-.6zM258.8 204l.5-.6 .3-.8 .2-.8 0-.8-.1-.9-.3-.8-.5-.7-.6-.6-.7-.5-.8-.4-.8-.2-.8 0-.8 .1-.8 .2-.7 .5-.6 .5-.5 .7-.3 .7-.2 .8 0 .9 .1 .8 .3 .8 .5 .7 .6 .6 .7 .5 .8 .4 .8 .2 .8 .1 .9-.1 .7-.3 .7-.4zM389.6 30.7l.6-.9 .5-1.1 .3-1.2 0-1.2-.2-1.2-.5-1.1-.7-1.1-.8-.9-1-.7-1.1-.6-1.2-.3-1.2-.1-1.2 .2-1.2 .4-1 .6-.9 .8-.6 1-.5 1.1-.3 1.1 0 1.2 .2 1.2 .5 1.2 .7 1 .8 .9 1 .8 1.1 .5 1.2 .3 1.2 .1 1.2-.2 1.2-.4 1-.6zM387.9 29.3l.5-.7 .3-.7 .2-.7 0-.8-.2-.8-.3-.8-.4-.7-.6-.6-.6-.4-.8-.4-.7-.2-.9 0-.7 .1-.8 .2-.6 .4-.6 .6-.5 .6-.3 .7-.2 .8 0 .8 .2 .8 .3 .7 .4 .7 .6 .6 .6 .5 .8 .3 .8 .2 .8 .1 .7-.1 .8-.3 .7-.4zM276.1 194.6l1.4-2.4 1.4-2.4 1.2-2.5 1.2-2.4 1.1-2.5 1.1-2.4 .9-2.4 .9-2.5 .9-2.4 .7-2.4 .7-2.4 .7-2.3 .6-2.3 .5-2.3 .4-2.3 .4-2.2 .3-2.2 .3-2.2 .2-2 .2-2.1 .1-1.9 .1-1.9 .1-1.9 0-1.8 0-1.7 0-1.6 0-1.6-.1-1.4 0-1.5-.1-1.3-.2-1.3-.2-1.1-.2-1.1-.2-.9-.1-.9-.1-.8-.1-.6 0-.6 .1-.5 .1-.5 .2-.3 .3-.3 .3-.2 .5-.2 .4 0 .5 .4 .6 .4 .8 .5 1 .5 1.2 .5 1.4 .5 1.5 .5 1.7 .5 1.8 .4 2.1 .3 2.1 .3 2.3 .1 2.5 .1 2.5-.1 2.7-.3 2.6-.4 2.7-.6 2.7-.7 2.8-.9 2.8-1 2.8-1.1 2.8-1.3 2.8-1.5 2.8-1.6 2.7-1.7 2.7-1.9 2.6-2 2.5-2.2 2.4-2.3 2.3-2.3 2.1-2.3 2-2.4 1.9-2.5 1.8-2.5 1.7-2.6 1.6-2.6 1.5-2.7 1.3-2.7 1.3-2.7 1.1-2.7 1.1-2.7 .9-2.7 .8-2.7 .7-2.7 .6-2.7 .5-2.6 .4-2.6 .2-2.5 .2-2.5 .1-2.3 .1-2.3-.1-2.2-.1-2.1-.2-2-.2-1.9-.3-1.8-.3-1.7-.3-1.6-.3-1.4-1.5-1.3-1.6-.9-1.5-.4-1.4-.1-1 .4-.8 .7-.4 .9-.1 1.2 .4 1.4 .8 1.4 1.2 1.5 1.7 1.5 2 1.4 2.5 1.2 2.9 1.1M271.5 186.8l1-2.1 .9-2.2 .8-2.1 .8-2.1 .7-2 .7-2.1 .7-2 .6-2 .5-2 .6-1.9 .5-1.9 .4-1.8 .4-1.8 .4-1.8 .4-1.7 .3-1.7 .3-1.6 .3-1.6 .3-1.6 .3-1.4 .2-1.5 .3-1.3 .3-1.3 .2-1.3 .3-1.2 .3-1.1 .2-1.1 .4-1.1 .3-.9 .3-1 .3-.8 .3-.7 .3-.7 .4-.6 .5-.6 .5-.5 .6-.5 .6-.5 .7-.4 .8-.3 .8-.4 .9-.3 1-.3 1.1-.3 1.1-.1 1.2 0 1.4 .1 1.5 0 1.7 0 1.7-.1 1.9-.1 2-.2 2.1-.3 2.2-.3 2.2-.5 2.3-.6 2.4-.7 2.4-.8 2.5-.9 2.5-1.1 2.3-1.2 2.4-1.3 2.4-1.4 2.4-1.5 2.3-1.7 2.3-1.7 2.2-1.9 2.1-1.9 2.1-2.1 2.1-2.1 1.9-2.2 1.8-2.3 1.8-2.3 1.6-2.4 1.6-2.4 1.4-2.3 1.3-2.3 1.3-2.4 1.1-2.3 1.1-2.4 1-2.3 .9-2.4 .8-2.3 .8-2.3 .6-2.3 .6-2.2 .6-2.2 .4-2.1 .4-2.1 .3-2.1 .3-2 .2-1.9 .2-1.8 .1-1.8 .1-1.7 .1-1.6 .1-1.5 0-1.4 .1-1.4 0-1.2 .1-1.2 .1-1.1 .1-1 .1-.9-.5-.3-.6-.1-.3 .1 0 .4 .2 .5 .6 .7 .8 .7 1.2 .8 1.5 .8 1.8 .7 2.1 .6 2.4 .4 2.6 .2 2.9 0 3-.2M263.9 190.7l1.2-1.6 1.2-1.7 1.2-1.7 1.1-1.6 1.2-1.7 1.1-1.7 1.1-1.7 1-1.6 1.1-1.7 1-1.7 1-1.6 1-1.7 .9-1.6 .9-1.6 1-1.6 .8-1.6 .9-1.6 .9-1.6 .8-1.6 .8-1.5 .8-1.5 .8-1.5 .8-1.5 .8-1.4 .7-1.5 .8-1.4 .7-1.4 .8-1.3 .7-1.3 .8-1.4 .6-1.2 .7-1.3 .7-1.2 .7-1.2 .7-1.1 .8-1.1 .7-1.1 .8-1.1 .8-1 .8-1 .8-1 .8-1 .9-.9 .9-.9 .9-.8 1-.8 .9-.7 1.1-.7 1.1-.7 1.1-.7 1.2-.7 1.3-.7 1.3-.7 1.4-.7 1.4-.8 1.5-.7 1.6-.8 1.5-.9 1.6-.9 1.7-.9 1.6-1 1.7-1.1 1.6-1.1 1.7-1.1 1.7-1.2 1.7-1.3 1.7-1.3 1.7-1.3 1.7-1.4 1.7-1.4 1.6-1.5 1.7-1.6 1.6-1.6 1.5-1.6 1.5-1.6 1.5-1.6 1.4-1.7 1.4-1.7 1.4-1.7 1.3-1.7 1.3-1.7 1.3-1.8 1.2-1.8 1.2-1.7 1.1-1.8 1.1-1.8 1.1-1.7 1-1.8 1-1.7 1-1.8 .9-1.7 .9-1.7 .8-1.7 .8-1.7 .8-1.7 .8-1.6 .8-1.6 .7-1.6 .7-1.5 .7-1.5 .6-1.4 .7-1.5 .7-1.3 .6-1.4 .3-1.3 .2-1.1 .2-1 .4-.9 .4-.8 .5-.6 .6-.5 .7-.5 .9-.4 1-.4 1.2-.3 1.3-.4 1.5-.4 1.6-.4 1.7-.6M268.5 198.5l1.7-1.9 1.6-2 1.6-1.9 1.6-2.1 1.5-2 1.4-2.1 1.4-2.1 1.4-2.1 1.3-2.1 1.3-2.2 1.2-2.1 1.1-2.1 1.1-2.2 1.1-2.1 1-2.2 .9-2.1 .9-2.2 .8-2.1 .8-2.1 .7-2.1 .7-2.1 .6-2 .6-2 .6-2 .5-1.9 .4-1.9 .5-1.9 .4-1.8 .3-1.8 .4-1.7 .1-1.7 .2-1.7 .2-1.5 .1-1.6 .1-1.4 .2-1.3 .1-1.3 .1-1.2 .2-1.2 .1-1 .2-1 .2-1 .3-.8 .2-.8 .3-.7 .1-.4 .3-.4 .3-.2 .4-.2 .6-.1 .7 0 .8 0 .9 0 1.1 0 1.2 .1 1.3 0 1.5 .1 1.6 0 1.7-.1 1.8-.1 1.8-.3 2-.3 2.1-.4 2.1-.4 2.2-.6 2.2-.6 2.3-.8 2.3-.8 2.4-1 2.3-1.1 2.4-1.2 2.4-1.2 2.4-1.4 2.3-1.6 2.2-1.5 2.2-1.7 2.1-1.7 2-1.8 2-1.9 2-1.9 1.9-2.1 1.8-2 1.8-2.1 1.7-2.2 1.6-2.2 1.6-2.3 1.4-2.3 1.4-2.3 1.3-2.3 1.2-2.4 1.2-2.4 1-2.4 1-2.3 .8-2.4 .8-2.3 .7-2.3 .7-2.3 .5-2.2 .5-2.2 .4-2.2 .4-2 .3-2.1 .2-1.9 .2-1.9-.7-2.2-.9-2-.9-1.5-1-1.3-.9-1-.8-.6-.7-.3-.4-.1-.3 .2 0 .4 .3 .5 .6 .7 .9 .8 1.2 .8 1.6 .7M275 197.1l.7-1 .5-1.2 .3-1.2 0-1.3-.2-1.2-.5-1.2-.7-1.1-.9-1-1.1-.8-1.1-.5-1.3-.3-1.3-.1-1.2 .2-1.2 .4-1.1 .6-.9 .8-.7 1.1-.5 1.1-.3 1.2 0 1.3 .2 1.3 .5 1.2 .7 1.1 .9 .9 1.1 .8 1.1 .5 1.3 .4 1.3 .1 1.2-.2 1.2-.4 1.1-.7zM273.3 195.6l.5-.7 .3-.7 .2-.9 0-.8-.2-.8-.3-.8-.5-.7-.5-.7-.7-.5-.8-.3-.8-.2-.9-.1-.8 .1-.8 .3-.7 .4-.6 .6-.5 .6-.3 .8-.2 .8 0 .8 .2 .8 .3 .8 .5 .8 .5 .6 .7 .5 .8 .4 .8 .2 .9 0 .8-.1 .8-.3 .7-.4zM389.3 46.9l.7-1 .5-1 .3-1.2 0-1.2-.2-1.2-.5-1.2-.7-1-.8-.9-1-.8-1.1-.5-1.2-.3-1.3-.1-1.1 .2-1.2 .4-1 .6-.9 .8-.7 1-.4 1-.3 1.2 0 1.2 .2 1.2 .5 1.2 .6 1 .9 .9 1 .7 1.1 .6 1.2 .3 1.2 .1 1.2-.2 1.2-.4 1-.6zM387.7 45.5l.5-.7 .3-.7 .1-.8 .1-.7-.2-.8-.3-.8-.4-.7-.6-.6-.6-.5-.8-.3-.8-.2-.8-.1-.8 .1-.7 .3-.7 .4-.5 .5-.5 .7-.3 .7-.2 .7 0 .8 .2 .8 .3 .8 .4 .7 .6 .6 .6 .4 .8 .4 .7 .2 .8 0 .8-.1 .8-.2 .6-.4z" stroke="#000" stroke-width="0.55"/><path d="M262.8 176.6l.2-1.5 0-1.4-.2-1.4-.3-1.4-.4-1.2-.5-1.1-.6-1-.6-.7" stroke="#2b133f" stroke-width="3.2"/><path d="M262.8 176.6l.2-1.5 0-1.4-.2-1.4-.3-1.4-.4-1.2-.5-1.1-.6-1-.6-.7" stroke="#512477" stroke-width="2.4"/><path d="M262.8 176.6l.2-1.5 0-1.4-.2-1.4-.3-1.4-.4-1.2-.5-1.1-.6-1-.6-.7" stroke="#b18ecd" stroke-width="0.6"/><path d="M258.6 171.9l-.7-.7-.6-.5-.6-.3-.5-.2-.4-.1-.3 .1-.1 .1 0 .2" stroke="#2b133f" stroke-width="3.2"/><path d="M258.6 171.9l-.7-.7-.6-.5-.6-.3-.5-.2-.4-.1-.3 .1-.1 .1 0 .2" stroke="#662d94" stroke-width="2.4"/><path d="M258.6 171.9l-.7-.7-.6-.5-.6-.3-.5-.2-.4-.1-.3 .1-.1 .1 0 .2" stroke="#b18ecd" stroke-width="0.6"/><path d="M258.1 180.6l1.1-.6 1-.9 .9-.9 .9-1.1 .8-1.2 .6-1.3 .5-1.3 .4-1.4" stroke="#2b133f" stroke-width="3.2"/><path d="M258.1 180.6l1.1-.6 1-.9 .9-.9 .9-1.1 .8-1.2 .6-1.3 .5-1.3 .4-1.4" stroke="#612b8e" stroke-width="2.4"/><path d="M258.1 180.6l1.1-.6 1-.9 .9-.9 .9-1.1 .8-1.2 .6-1.3 .5-1.3 .4-1.4" stroke="#b18ecd" stroke-width="0.6"/><path d="M253.9 175.9l.2 .1 .4 .2 .5 .1 .7 .1 .8-.1 .9-.1 .9-.2 1-.4" stroke="#2b133f" stroke-width="3.2"/><path d="M253.9 175.9l.2 .1 .4 .2 .5 .1 .7 .1 .8-.1 .9-.1 .9-.2 1-.4" stroke="#582781" stroke-width="2.4"/><path d="M253.9 175.9l.2 .1 .4 .2 .5 .1 .7 .1 .8-.1 .9-.1 .9-.2 1-.4" stroke="#b18ecd" stroke-width="0.6"/><path d="M264.3 171.9l.2-1.4 0-1.4 0-1.4-.3-1.2-.3-1.2-.5-1.1-.5-.9-.6-.7" stroke="#33143d" stroke-width="3.2"/><path d="M264.3 171.9l.2-1.4 0-1.4 0-1.4-.3-1.2-.3-1.2-.5-1.1-.5-.9-.6-.7" stroke="#742e8b" stroke-width="2.4"/><path d="M264.3 171.9l.2-1.4 0-1.4 0-1.4-.3-1.2-.3-1.2-.5-1.1-.5-.9-.6-.7" stroke="#bd90cc" stroke-width="0.6"/><path d="M260.4 166.9l-.7-.7-.6-.4-.6-.3-.5-.2-.4 0-.3 .1-.2 .2 0 .3" stroke="#33143d" stroke-width="3.2"/><path d="M260.4 166.9l-.7-.7-.6-.4-.6-.3-.5-.2-.4 0-.3 .1-.2 .2 0 .3" stroke="#612774" stroke-width="2.4"/><path d="M260.4 166.9l-.7-.7-.6-.4-.6-.3-.5-.2-.4 0-.3 .1-.2 .2 0 .3" stroke="#bd90cc" stroke-width="0.6"/><path d="M259.3 175.6l1.1-.6 1-.6 1-.9 .9-.9 .8-1.1 .7-1.1 .6-1.3 .5-1.3" stroke="#33143d" stroke-width="3.2"/><path d="M259.3 175.6l1.1-.6 1-.6 1-.9 .9-.9 .8-1.1 .7-1.1 .6-1.3 .5-1.3" stroke="#692a7e" stroke-width="2.4"/><path d="M259.3 175.6l1.1-.6 1-.6 1-.9 .9-.9 .8-1.1 .7-1.1 .6-1.3 .5-1.3" stroke="#bd90cc" stroke-width="0.6"/><path d="M255.4 170.5l.2 .3 .3 .2 .5 .3 .6 .1 .8 .1 .9 .1 .9-.2 1.1-.2" stroke="#33143d" stroke-width="3.2"/><path d="M255.4 170.5l.2 .3 .3 .2 .5 .3 .6 .1 .8 .1 .9 .1 .9-.2 1.1-.2" stroke="#793092" stroke-width="2.4"/><path d="M255.4 170.5l.2 .3 .3 .2 .5 .3 .6 .1 .8 .1 .9 .1 .9-.2 1.1-.2" stroke="#bd90cc" stroke-width="0.6"/><path d="M265.9 167.8l.3-1.3 .1-1.3 0-1.3-.1-1.2-.3-1.1-.4-1-.4-.9-.6-.7" stroke="#3b163a" stroke-width="3.2"/><path d="M265.9 167.8l.3-1.3 .1-1.3 0-1.3-.1-1.2-.3-1.1-.4-1-.4-.9-.6-.7" stroke="#792e78" stroke-width="2.4"/><path d="M265.9 167.8l.3-1.3 .1-1.3 0-1.3-.1-1.2-.3-1.1-.4-1-.4-.9-.6-.7" stroke="#c893c7" stroke-width="0.6"/><path d="M262.3 162.6l-.6-.6-.6-.4-.6-.3-.5-.1-.4 0-.3 .2-.2 .2 0 .4" stroke="#3b163a" stroke-width="3.2"/><path d="M262.3 162.6l-.6-.6-.6-.4-.6-.3-.5-.1-.4 0-.3 .2-.2 .2 0 .4" stroke="#853284" stroke-width="2.4"/><path d="M262.3 162.6l-.6-.6-.6-.4-.6-.3-.5-.1-.4 0-.3 .2-.2 .2 0 .4" stroke="#c893c7" stroke-width="0.6"/><path d="M260.7 171.2l1-.4 1.1-.5 1-.7 1-.8 .9-1 .8-1 .7-1.1 .5-1.2" stroke="#3b163a" stroke-width="3.2"/><path d="M260.7 171.2l1-.4 1.1-.5 1-.7 1-.8 .9-1 .8-1 .7-1.1 .5-1.2" stroke="#8c358a" stroke-width="2.4"/><path d="M260.7 171.2l1-.4 1.1-.5 1-.7 1-.8 .9-1 .8-1 .7-1.1 .5-1.2" stroke="#c893c7" stroke-width="0.6"/><path d="M257.1 165.9l.1 .4 .4 .3 .4 .3 .6 .3 .8 .2 .9 .2 1 0 1-.1" stroke="#3b163a" stroke-width="3.2"/><path d="M257.1 165.9l.1 .4 .4 .3 .4 .3 .6 .3 .8 .2 .9 .2 1 0 1-.1" stroke="#702a6f" stroke-width="2.4"/><path d="M257.1 165.9l.1 .4 .4 .3 .4 .3 .6 .3 .8 .2 .9 .2 1 0 1-.1" stroke="#c893c7" stroke-width="0.6"/><path d="M267.7 164.5l.4-1.2 .3-1.2 .1-1.1 .1-1.1 0-1-.1-.8-.2-.8-.1-.7" stroke="#421836" stroke-width="3.2"/><path d="M267.7 164.5l.4-1.2 .3-1.2 .1-1.1 .1-1.1 0-1-.1-.8-.2-.8-.1-.7" stroke="#9d397f" stroke-width="2.4"/><path d="M267.7 164.5l.4-1.2 .3-1.2 .1-1.1 .1-1.1 0-1-.1-.8-.2-.8-.1-.7" stroke="#d396c0" stroke-width="0.6"/><path d="M264.5 159l-.5-.6-.5-.4-.4-.2-.4-.2-.3-.1-.2 0-.1 .1 0 .1" stroke="#421836" stroke-width="3.2"/><path d="M264.5 159l-.5-.6-.5-.4-.4-.2-.4-.2-.3-.1-.2 0-.1 .1 0 .1" stroke="#88326e" stroke-width="2.4"/><path d="M264.5 159l-.5-.6-.5-.4-.4-.2-.4-.2-.3-.1-.2 0-.1 .1 0 .1" stroke="#d396c0" stroke-width="0.6"/><path d="M262.3 167.5l1.1-.3 1.1-.4 1-.5 1-.6 .9-.7 .8-.7 .7-.8 .7-.8" stroke="#421836" stroke-width="3.2"/><path d="M262.3 167.5l1.1-.3 1.1-.4 1-.5 1-.6 .9-.7 .8-.7 .7-.8 .7-.8" stroke="#7d2e66" stroke-width="2.4"/><path d="M262.3 167.5l1.1-.3 1.1-.4 1-.5 1-.6 .9-.7 .8-.7 .7-.8 .7-.8" stroke="#d396c0" stroke-width="0.6"/><path d="M259.1 162l.2 .4 .3 .4 .4 .3 .6 .3 .6 .2 .7 .2 .8 .1 .8 0" stroke="#421836" stroke-width="3.2"/><path d="M259.1 162l.2 .4 .3 .4 .4 .3 .6 .3 .6 .2 .7 .2 .8 .1 .8 0" stroke="#963779" stroke-width="2.4"/><path d="M259.1 162l.2 .4 .3 .4 .4 .3 .6 .3 .6 .2 .7 .2 .8 .1 .8 0" stroke="#d396c0" stroke-width="0.6"/><path d="M268.2 156.6l-.2-.7-.1-.5-.1-.5-.1-.4 0-.3-.1-.3 .1-.3 0-.3" stroke="#491c30" stroke-width="3.2"/><path d="M268.2 156.6l-.2-.7-.1-.5-.1-.5-.1-.4 0-.3-.1-.3 .1-.3 0-.3" stroke="#ad4271" stroke-width="2.4"/><path d="M268.2 156.6l-.2-.7-.1-.5-.1-.5-.1-.4 0-.3-.1-.3 .1-.3 0-.3" stroke="#dd9bb8" stroke-width="0.6"/><path d="M269.6 162.7l.6-.8 .5-.8 .5-.8 .5-.8 .4-.7 .4-.7 .3-.7 .4-.7" stroke="#491c30" stroke-width="3.2"/><path d="M269.6 162.7l.6-.8 .5-.8 .5-.8 .5-.8 .4-.7 .4-.7 .3-.7 .4-.7" stroke="#8a355b" stroke-width="2.4"/><path d="M269.6 162.7l.6-.8 .5-.8 .5-.8 .5-.8 .4-.7 .4-.7 .3-.7 .4-.7" stroke="#dd9bb8" stroke-width="0.6"/><path d="M262.1 157.7l.1 .2 .1 .1 .3 .2 .3 .1 .3 .1 .4 .1 .4 .1 .5 .1" stroke="#491c30" stroke-width="3.2"/><path d="M262.1 157.7l.1 .2 .1 .1 .3 .2 .3 .1 .3 .1 .4 .1 .4 .1 .5 .1" stroke="#963962" stroke-width="2.4"/><path d="M262.1 157.7l.1 .2 .1 .1 .3 .2 .3 .1 .3 .1 .4 .1 .4 .1 .5 .1" stroke="#dd9bb8" stroke-width="0.6"/><path d="M263.5 163.9l.8-.1 .9-.1 .8-.2 .8-.2 .8-.3 .8-.2 .8-.3 .8-.4" stroke="#491c30" stroke-width="3.2"/><path d="M263.5 163.9l.8-.1 .9-.1 .8-.2 .8-.2 .8-.3 .8-.2 .8-.3 .8-.4" stroke="#a53f6c" stroke-width="2.4"/><path d="M263.5 163.9l.8-.1 .9-.1 .8-.2 .8-.2 .8-.3 .8-.2 .8-.3 .8-.4" stroke="#dd9bb8" stroke-width="0.6"/><path d="M273.2 156.7l.3-.6 .3-.7 .3-.6 .3-.6 .3-.6 .2-.6 .2-.5 .2-.6" stroke="#4f1f2a" stroke-width="3.2"/><path d="M273.2 156.7l.3-.6 .3-.7 .3-.6 .3-.6 .3-.6 .2-.6 .2-.5 .2-.6" stroke="#963b50" stroke-width="2.4"/><path d="M273.2 156.7l.3-.6 .3-.7 .3-.6 .3-.6 .3-.6 .2-.6 .2-.5 .2-.6" stroke="#e5a0b0" stroke-width="0.6"/><path d="M270 162.1l.8-.4 .8-.3 .8-.5 .8-.4 .8-.5 .7-.5 .8-.5 .8-.5" stroke="#4f1f2a" stroke-width="3.2"/><path d="M270 162.1l.8-.4 .8-.3 .8-.5 .8-.4 .8-.5 .7-.5 .8-.5 .8-.5" stroke="#b34760" stroke-width="2.4"/><path d="M270 162.1l.8-.4 .8-.3 .8-.5 .8-.4 .8-.5 .7-.5 .8-.5 .8-.5" stroke="#e5a0b0" stroke-width="0.6"/><path d="M267.7 153.3l.1-.2 0-.1 .1-.2 .2-.1 .1 0 .2-.1 .2 0 .3 .1" stroke="#4f1f2a" stroke-width="3.2"/><path d="M267.7 153.3l.1-.2 0-.1 .1-.2 .2-.1 .1 0 .2-.1 .2 0 .3 .1" stroke="#bb4a64" stroke-width="2.4"/><path d="M267.7 153.3l.1-.2 0-.1 .1-.2 .2-.1 .1 0 .2-.1 .2 0 .3 .1" stroke="#e5a0b0" stroke-width="0.6"/><path d="M264.5 158.7l.5 .1 .6 .1 .6 .1 .6 0 .7 .1 .7 0 .8 .1 .8 0" stroke="#4f1f2a" stroke-width="3.2"/><path d="M264.5 158.7l.5 .1 .6 .1 .6 .1 .6 0 .7 .1 .7 0 .8 .1 .8 0" stroke="#a24057" stroke-width="2.4"/><path d="M264.5 158.7l.5 .1 .6 .1 .6 .1 .6 0 .7 .1 .7 0 .8 .1 .8 0" stroke="#e5a0b0" stroke-width="0.6"/><path d="M276.3 158.5l.8-.6 .7-.6 .7-.6 .7-.6 .7-.7 .7-.6 .6-.7 .7-.7" stroke="#542324" stroke-width="3.2"/><path d="M276.3 158.5l.8-.6 .7-.6 .7-.6 .7-.6 .7-.7 .7-.6 .6-.7 .7-.7" stroke="#bd4e53" stroke-width="2.4"/><path d="M276.3 158.5l.8-.6 .7-.6 .7-.6 .7-.6 .7-.7 .7-.6 .6-.7 .7-.7" stroke="#eca5a8" stroke-width="0.6"/><path d="M275.3 151.9l.2-.5 .2-.5 .2-.4 .2-.4 .2-.4 .1-.4 .2-.3 .2-.2" stroke="#542324" stroke-width="3.2"/><path d="M275.3 151.9l.2-.5 .2-.5 .2-.4 .2-.4 .2-.4 .1-.4 .2-.3 .2-.2" stroke="#9e4245" stroke-width="2.4"/><path d="M275.3 151.9l.2-.5 .2-.5 .2-.4 .2-.4 .2-.4 .1-.4 .2-.3 .2-.2" stroke="#eca5a8" stroke-width="0.6"/><path d="M269.8 159.2l.9 0 .8 0 1-.1 .9-.1 1-.1 .9-.2 1-.1 1.1-.3" stroke="#542324" stroke-width="3.2"/><path d="M269.8 159.2l.9 0 .8 0 1-.1 .9-.1 1-.1 .9-.2 1-.1 1.1-.3" stroke="#ab474b" stroke-width="2.4"/><path d="M269.8 159.2l.9 0 .8 0 1-.1 .9-.1 1-.1 .9-.2 1-.1 1.1-.3" stroke="#eca5a8" stroke-width="0.6"/><path d="M268.9 152.7l.2 0 .4 .1 .3 .1 .4 .1 .5 .2 .5 .1 .5 .2 .6 .1" stroke="#542324" stroke-width="3.2"/><path d="M268.9 152.7l.2 0 .4 .1 .3 .1 .4 .1 .5 .2 .5 .1 .5 .2 .6 .1" stroke="#c65256" stroke-width="2.4"/><path d="M268.9 152.7l.2 0 .4 .1 .3 .1 .4 .1 .5 .2 .5 .1 .5 .2 .6 .1" stroke="#eca5a8" stroke-width="0.6"/><path d="M281.9 153.4l.5-.6 .6-.7 .6-.7 .5-.6 .5-.7 .5-.6 .4-.6 .4-.5" stroke="#572620" stroke-width="3.2"/><path d="M281.9 153.4l.5-.6 .6-.7 .6-.7 .5-.6 .5-.7 .5-.6 .4-.6 .4-.5" stroke="#c45748" stroke-width="2.4"/><path d="M281.9 153.4l.5-.6 .6-.7 .6-.7 .5-.6 .5-.7 .5-.6 .4-.6 .4-.5" stroke="#f0aaa1" stroke-width="0.6"/><path d="M277.4 158.3l1-.2 1.1-.3 1-.4 1.1-.3 1.1-.4 1.1-.4 1.1-.5 1-.5" stroke="#572620" stroke-width="3.2"/><path d="M277.4 158.3l1-.2 1.1-.3 1-.4 1.1-.3 1.1-.4 1.1-.4 1.1-.5 1-.5" stroke="#b24f41" stroke-width="2.4"/><path d="M277.4 158.3l1-.2 1.1-.3 1-.4 1.1-.3 1.1-.4 1.1-.4 1.1-.5 1-.5" stroke="#f0aaa1" stroke-width="0.6"/><path d="M276.8 148.8l.2-.3 .2-.2 .3-.2 .2-.1 .3 0 .3 0 .4 0 .3 .1" stroke="#572620" stroke-width="3.2"/><path d="M276.8 148.8l.2-.3 .2-.2 .3-.2 .2-.1 .3 0 .3 0 .4 0 .3 .1" stroke="#a4493c" stroke-width="2.4"/><path d="M276.8 148.8l.2-.3 .2-.2 .3-.2 .2-.1 .3 0 .3 0 .4 0 .3 .1" stroke="#f0aaa1" stroke-width="0.6"/><path d="M272.3 153.6l.7 .2 .7 .2 .7 .1 .8 .2 .9 .2 .9 .2 1 .2 1 .2" stroke="#572620" stroke-width="3.2"/><path d="M272.3 153.6l.7 .2 .7 .2 .7 .1 .8 .2 .9 .2 .9 .2 1 .2 1 .2" stroke="#cd5b4b" stroke-width="2.4"/><path d="M272.3 153.6l.7 .2 .7 .2 .7 .1 .8 .2 .9 .2 .9 .2 1 .2 1 .2" stroke="#f0aaa1" stroke-width="0.6"/><path d="M285.9 155.3l1.1-.5 1.1-.6 1-.6 1-.6 1-.7 1-.7 .9-.7 .9-.8" stroke="#592b1b" stroke-width="3.2"/><path d="M285.9 155.3l1.1-.5 1.1-.6 1-.6 1-.6 1-.7 1-.7 .9-.7 .9-.8" stroke="#b75938" stroke-width="2.4"/><path d="M285.9 155.3l1.1-.5 1.1-.6 1-.6 1-.6 1-.7 1-.7 .9-.7 .9-.8" stroke="#f4b29a" stroke-width="0.6"/><path d="M285.9 148.4l.5-.6 .4-.5 .4-.5 .3-.5 .4-.5 .4-.4 .3-.4 .4-.3" stroke="#592b1b" stroke-width="3.2"/><path d="M285.9 148.4l.5-.6 .4-.5 .4-.5 .3-.5 .4-.5 .4-.4 .3-.4 .4-.3" stroke="#c9623d" stroke-width="2.4"/><path d="M285.9 148.4l.5-.6 .4-.5 .4-.5 .3-.5 .4-.5 .4-.4 .3-.4 .4-.3" stroke="#f4b29a" stroke-width="0.6"/><path d="M279 155.1l1.1 .1 1.1 .1 1.2 0 1.2 0 1.3 0 1.2-.1 1.3-.2 1.4-.2" stroke="#592b1b" stroke-width="3.2"/><path d="M279 155.1l1.1 .1 1.1 .1 1.2 0 1.2 0 1.3 0 1.2-.1 1.3-.2 1.4-.2" stroke="#d36740" stroke-width="2.4"/><path d="M279 155.1l1.1 .1 1.1 .1 1.2 0 1.2 0 1.3 0 1.2-.1 1.3-.2 1.4-.2" stroke="#f4b29a" stroke-width="0.6"/><path d="M279 148.1l.5 .1 .4 .1 .6 .2 .5 .1 .7 .2 .6 .2 .8 .2 .8 .2" stroke="#592b1b" stroke-width="3.2"/><path d="M279 148.1l.5 .1 .4 .1 .6 .2 .5 .1 .7 .2 .6 .2 .8 .2 .8 .2" stroke="#a95233" stroke-width="2.4"/><path d="M279 148.1l.5 .1 .4 .1 .6 .2 .5 .1 .7 .2 .6 .2 .8 .2 .8 .2" stroke="#f4b29a" stroke-width="0.6"/><path d="M293.9 150.1l.8-.8 .8-.7 .8-.8 .7-.8 .8-.8 .6-.8 .7-.7 .6-.8" stroke="#5a3118" stroke-width="3.2"/><path d="M293.9 150.1l.8-.8 .8-.7 .8-.8 .7-.8 .8-.8 .6-.8 .7-.7 .6-.8" stroke="#ba6431" stroke-width="2.4"/><path d="M293.9 150.1l.8-.8 .8-.7 .8-.8 .7-.8 .8-.8 .6-.8 .7-.7 .6-.8" stroke="#f6b995" stroke-width="0.6"/><path d="M288.8 154.8l1.3-.2 1.4-.4 1.3-.4 1.4-.4 1.3-.5 1.4-.6 1.3-.6 1.3-.6" stroke="#5a3118" stroke-width="3.2"/><path d="M288.8 154.8l1.3-.2 1.4-.4 1.3-.4 1.4-.4 1.3-.5 1.4-.6 1.3-.6 1.3-.6" stroke="#d67338" stroke-width="2.4"/><path d="M288.8 154.8l1.3-.2 1.4-.4 1.3-.4 1.4-.4 1.3-.5 1.4-.6 1.3-.6 1.3-.6" stroke="#f6b995" stroke-width="0.6"/><path d="M289 144.7l.4-.3 .4-.2 .4-.3 .4-.1 .5-.2 .5-.1 .5-.1 .6-.1" stroke="#5a3118" stroke-width="3.2"/><path d="M289 144.7l.4-.3 .4-.2 .4-.3 .4-.1 .5-.2 .5-.1 .5-.1 .6-.1" stroke="#cd6e36" stroke-width="2.4"/><path d="M289 144.7l.4-.3 .4-.2 .4-.3 .4-.1 .5-.2 .5-.1 .5-.1 .6-.1" stroke="#f6b995" stroke-width="0.6"/><path d="M283.9 149.4l.9 .2 .9 .2 1 .2 1 .2 1.2 .1 1.1 .1 1.2 .1 1.3 0" stroke="#5a3118" stroke-width="3.2"/><path d="M283.9 149.4l.9 .2 .9 .2 1 .2 1 .2 1.2 .1 1.1 .1 1.2 .1 1.3 0" stroke="#ab5c2d" stroke-width="2.4"/><path d="M283.9 149.4l.9 .2 .9 .2 1 .2 1 .2 1.2 .1 1.1 .1 1.2 .1 1.3 0" stroke="#f6b995" stroke-width="0.6"/><path d="M299.7 143.9l.6-.7 .6-.7 .5-.7 .5-.7 .6-.6 .5-.6 .5-.6 .5-.5" stroke="#5c3714" stroke-width="3.2"/><path d="M299.7 143.9l.6-.7 .6-.7 .5-.7 .5-.7 .6-.6 .5-.6 .5-.6 .5-.5" stroke="#bc702a" stroke-width="2.4"/><path d="M299.7 143.9l.6-.7 .6-.7 .5-.7 .5-.7 .6-.6 .5-.6 .5-.6 .5-.5" stroke="#f7c290" stroke-width="0.6"/><path d="M299.5 151.1l1.3-.8 1.2-.7 1.2-.8 1.2-.9 1.2-.9 1.1-.9 1.1-.9 1-1" stroke="#5c3714" stroke-width="3.2"/><path d="M299.5 151.1l1.3-.8 1.2-.7 1.2-.8 1.2-.9 1.2-.9 1.1-.9 1.1-.9 1-1" stroke="#d98230" stroke-width="2.4"/><path d="M299.5 151.1l1.3-.8 1.2-.7 1.2-.8 1.2-.9 1.2-.9 1.1-.9 1.1-.9 1-1" stroke="#f7c290" stroke-width="0.6"/><path d="M292.7 143.3l.6 0 .7 0 .7 0 .7 0 .8 0 .9 .1 .9 0 1 0" stroke="#5c3714" stroke-width="3.2"/><path d="M292.7 143.3l.6 0 .7 0 .7 0 .7 0 .8 0 .9 .1 .9 0 1 0" stroke="#d07c2e" stroke-width="2.4"/><path d="M292.7 143.3l.6 0 .7 0 .7 0 .7 0 .8 0 .9 .1 .9 0 1 0" stroke="#f7c290" stroke-width="0.6"/><path d="M292.5 150.5l1.3 0 1.3-.1 1.4-.1 1.4-.2 1.5-.2 1.4-.3 1.5-.4 1.5-.4" stroke="#5c3714" stroke-width="3.2"/><path d="M292.5 150.5l1.3 0 1.3-.1 1.4-.1 1.4-.2 1.5-.2 1.4-.3 1.5-.4 1.5-.4" stroke="#ae6827" stroke-width="2.4"/><path d="M292.5 150.5l1.3 0 1.3-.1 1.4-.1 1.4-.2 1.5-.2 1.4-.3 1.5-.4 1.5-.4" stroke="#f7c290" stroke-width="0.6"/><path d="M308.8 144.2l1-1 .9-1 1.1-1 .9-1.1 1-1 .8-1.1 .8-1 .8-1.1" stroke="#5d4014" stroke-width="3.2"/><path d="M308.8 144.2l1-1 .9-1 1.1-1 .9-1.1 1-1 .8-1.1 .8-1 .8-1.1" stroke="#dd982e" stroke-width="2.4"/><path d="M308.8 144.2l1-1 .9-1 1.1-1 .9-1.1 1-1 .8-1.1 .8-1 .8-1.1" stroke="#facf8f" stroke-width="0.6"/><path d="M304 138.8l.5-.5 .6-.5 .6-.4 .6-.3 .7-.3 .7-.3 .8-.3 .8-.2" stroke="#5d4014" stroke-width="3.2"/><path d="M304 138.8l.5-.5 .6-.5 .6-.4 .6-.3 .7-.3 .7-.3 .8-.3 .8-.2" stroke="#bf8328" stroke-width="2.4"/><path d="M304 138.8l.5-.5 .6-.5 .6-.4 .6-.3 .7-.3 .7-.3 .8-.3 .8-.2" stroke="#facf8f" stroke-width="0.6"/><path d="M303.8 148.8l1.5-.5 1.5-.5 1.7-.6 1.7-.6 1.7-.8 1.6-.9 1.6-.9 1.6-1" stroke="#5d4014" stroke-width="3.2"/><path d="M303.8 148.8l1.5-.5 1.5-.5 1.7-.6 1.7-.6 1.7-.8 1.6-.9 1.6-.9 1.6-1" stroke="#b17925" stroke-width="2.4"/><path d="M303.8 148.8l1.5-.5 1.5-.5 1.7-.6 1.7-.6 1.7-.8 1.6-.9 1.6-.9 1.6-1" stroke="#facf8f" stroke-width="0.6"/><path d="M299 143.4l1 0 1.2 0 1.3 .1 1.3 0 1.4 0 1.5-.1 1.6-.2 1.5-.2" stroke="#5d4014" stroke-width="3.2"/><path d="M299 143.4l1 0 1.2 0 1.3 .1 1.3 0 1.4 0 1.5-.1 1.6-.2 1.5-.2" stroke="#d3912c" stroke-width="2.4"/><path d="M299 143.4l1 0 1.2 0 1.3 .1 1.3 0 1.4 0 1.5-.1 1.6-.2 1.5-.2" stroke="#facf8f" stroke-width="0.6"/><path d="M316.1 135.9l.7-1 .7-1 .7-1 .6-1 .6-.9 .6-.9 .5-.8 .6-.8" stroke="#5e4b1c" stroke-width="3.2"/><path d="M316.1 135.9l.7-1 .7-1 .7-1 .6-1 .6-.9 .6-.9 .5-.8 .6-.8" stroke="#dfb143" stroke-width="2.4"/><path d="M316.1 135.9l.7-1 .7-1 .7-1 .6-1 .6-.9 .6-.9 .5-.8 .6-.8" stroke="#fbdf9b" stroke-width="0.6"/><path d="M316.7 143l1.5-1.1 1.4-1.2 1.4-1.2 1.4-1.3 1.2-1.3 1.2-1.4 1.1-1.4 1-1.4" stroke="#5e4b1c" stroke-width="3.2"/><path d="M316.7 143l1.5-1.1 1.4-1.2 1.4-1.2 1.4-1.3 1.2-1.3 1.2-1.4 1.1-1.4 1-1.4" stroke="#b38e35" stroke-width="2.4"/><path d="M316.7 143l1.5-1.1 1.4-1.2 1.4-1.2 1.4-1.3 1.2-1.3 1.2-1.4 1.1-1.4 1-1.4" stroke="#fbdf9b" stroke-width="0.6"/><path d="M309.3 136l.8-.3 .9-.2 .9-.2 1-.2 1.1-.3 1.1-.2 1.1-.3 1.2-.3" stroke="#5e4b1c" stroke-width="3.2"/><path d="M309.3 136l.8-.3 .9-.2 .9-.2 1-.2 1.1-.3 1.1-.2 1.1-.3 1.2-.3" stroke="#c29a3a" stroke-width="2.4"/><path d="M309.3 136l.8-.3 .9-.2 .9-.2 1-.2 1.1-.3 1.1-.2 1.1-.3 1.2-.3" stroke="#fbdf9b" stroke-width="0.6"/><path d="M309.8 143l1.7-.3 1.6-.3 1.7-.5 1.7-.5 1.7-.7 1.7-.7 1.7-.8 1.7-.9" stroke="#5e4b1c" stroke-width="3.2"/><path d="M309.8 143l1.7-.3 1.6-.3 1.7-.5 1.7-.5 1.7-.7 1.7-.7 1.7-.8 1.7-.9" stroke="#d5a940" stroke-width="2.4"/><path d="M309.8 143l1.7-.3 1.6-.3 1.7-.5 1.7-.5 1.7-.7 1.7-.7 1.7-.8 1.7-.9" stroke="#fbdf9b" stroke-width="0.6"/><path d="M326.9 132.7l1-1.4 .9-1.5 .8-1.4 .7-1.5 .6-1.4 .6-1.5 .6-1.3 .4-1.4" stroke="#5f532c" stroke-width="3.2"/><path d="M326.9 132.7l1-1.4 .9-1.5 .8-1.4 .7-1.5 .6-1.4 .6-1.5 .6-1.3 .4-1.4" stroke="#b49d54" stroke-width="2.4"/><path d="M326.9 132.7l1-1.4 .9-1.5 .8-1.4 .7-1.5 .6-1.4 .6-1.5 .6-1.3 .4-1.4" stroke="#fcebb3" stroke-width="0.6"/><path d="M321.1 128.5l.6-.8 .5-.7 .6-.7 .6-.7 .6-.6 .7-.6 .7-.6 .7-.6" stroke="#5f532c" stroke-width="3.2"/><path d="M321.1 128.5l.6-.8 .5-.7 .6-.7 .6-.7 .6-.6 .7-.6 .7-.6 .7-.6" stroke="#e1c469" stroke-width="2.4"/><path d="M321.1 128.5l.6-.8 .5-.7 .6-.7 .6-.7 .6-.6 .7-.6 .7-.6 .7-.6" stroke="#fcebb3" stroke-width="0.6"/><path d="M323.3 138.3l1.6-1.1 1.7-1 1.5-1.2 1.6-1.3 1.4-1.3 1.4-1.5 1.3-1.4 1.3-1.6" stroke="#5f532c" stroke-width="3.2"/><path d="M323.3 138.3l1.6-1.1 1.7-1 1.5-1.2 1.6-1.3 1.4-1.3 1.4-1.5 1.3-1.4 1.3-1.6" stroke="#d7bb64" stroke-width="2.4"/><path d="M323.3 138.3l1.6-1.1 1.7-1 1.5-1.2 1.6-1.3 1.4-1.3 1.4-1.5 1.3-1.4 1.3-1.6" stroke="#fcebb3" stroke-width="0.6"/><path d="M317.4 134l1.3-.3 1.3-.4 1.4-.4 1.4-.5 1.4-.5 1.5-.6 1.4-.7 1.5-.8" stroke="#5f532c" stroke-width="3.2"/><path d="M317.4 134l1.3-.3 1.3-.4 1.4-.4 1.4-.5 1.4-.5 1.5-.6 1.4-.7 1.5-.8" stroke="#c3aa5b" stroke-width="2.4"/><path d="M317.4 134l1.3-.3 1.3-.4 1.4-.4 1.4-.5 1.4-.5 1.5-.6 1.4-.7 1.5-.8" stroke="#fcebb3" stroke-width="0.6"/><path d="M332.5 121.3l.4-1.3 .4-1.3 .4-1.2 .3-1.2 .3-1.1 .2-1.1 .3-1 .3-1" stroke="#60583b" stroke-width="3.2"/><path d="M332.5 121.3l.4-1.3 .4-1.3 .4-1.2 .3-1.2 .3-1.1 .2-1.1 .3-1 .3-1" stroke="#b5a86f" stroke-width="2.4"/><path d="M332.5 121.3l.4-1.3 .4-1.3 .4-1.2 .3-1.2 .3-1.1 .2-1.1 .3-1 .3-1" stroke="#fdf3c8" stroke-width="0.6"/><path d="M335.1 127.9l1.2-1.6 1-1.6 1-1.7 .9-1.7 .8-1.7 .7-1.8 .6-1.7 .6-1.7" stroke="#60583b" stroke-width="3.2"/><path d="M335.1 127.9l1.2-1.6 1-1.6 1-1.7 .9-1.7 .8-1.7 .7-1.8 .6-1.7 .6-1.7" stroke="#d8c885" stroke-width="2.4"/><path d="M335.1 127.9l1.2-1.6 1-1.6 1-1.7 .9-1.7 .8-1.7 .7-1.8 .6-1.7 .6-1.7" stroke="#fdf3c8" stroke-width="0.6"/><path d="M326.1 123.2l.7-.6 .8-.5 .9-.6 .9-.5 .9-.6 1-.6 1-.6 1-.7" stroke="#60583b" stroke-width="3.2"/><path d="M326.1 123.2l.7-.6 .8-.5 .9-.6 .9-.5 .9-.6 1-.6 1-.6 1-.7" stroke="#e3d28b" stroke-width="2.4"/><path d="M326.1 123.2l.7-.6 .8-.5 .9-.6 .9-.5 .9-.6 1-.6 1-.6 1-.7" stroke="#fdf3c8" stroke-width="0.6"/><path d="M328.6 129.8l1.5-.8 1.5-.9 1.5-1.1 1.5-1 1.4-1.2 1.5-1.3 1.3-1.3 1.3-1.4" stroke="#60583b" stroke-width="3.2"/><path d="M328.6 129.8l1.5-.8 1.5-.9 1.5-1.1 1.5-1 1.4-1.2 1.5-1.3 1.3-1.3 1.3-1.4" stroke="#c4b678" stroke-width="2.4"/><path d="M328.6 129.8l1.5-.8 1.5-.9 1.5-1.1 1.5-1 1.4-1.2 1.5-1.3 1.3-1.3 1.3-1.4" stroke="#fdf3c8" stroke-width="0.6"/><path d="M341.9 114.4l.4-1.7 .3-1.6 .3-1.6 .2-1.5 .2-1.5 .1-1.5 0-1.4 0-1.3" stroke="#605c47" stroke-width="3.2"/><path d="M341.9 114.4l.4-1.7 .3-1.6 .3-1.6 .2-1.5 .2-1.5 .1-1.5 0-1.4 0-1.3" stroke="#dad0a0" stroke-width="2.4"/><path d="M341.9 114.4l.4-1.7 .3-1.6 .3-1.6 .2-1.5 .2-1.5 .1-1.5 0-1.4 0-1.3" stroke="#fef8d9" stroke-width="0.6"/><path d="M335.1 112.1l.2-.9 .3-.8 .3-.8 .3-.8 .4-.7 .4-.7 .4-.6 .5-.7" stroke="#605c47" stroke-width="3.2"/><path d="M335.1 112.1l.2-.9 .3-.8 .3-.8 .3-.8 .4-.7 .4-.7 .4-.6 .5-.7" stroke="#b6ae86" stroke-width="2.4"/><path d="M335.1 112.1l.2-.9 .3-.8 .3-.8 .3-.8 .4-.7 .4-.7 .4-.6 .5-.7" stroke="#fef8d9" stroke-width="0.6"/><path d="M340.1 120.8l1.2-1.4 1.2-1.5 1.1-1.6 1-1.6 .9-1.6 .9-1.7 .7-1.7 .7-1.8" stroke="#605c47" stroke-width="3.2"/><path d="M340.1 120.8l1.2-1.4 1.2-1.5 1.1-1.6 1-1.6 .9-1.6 .9-1.7 .7-1.7 .7-1.8" stroke="#c6bc91" stroke-width="2.4"/><path d="M340.1 120.8l1.2-1.4 1.2-1.5 1.1-1.6 1-1.6 .9-1.6 .9-1.7 .7-1.7 .7-1.8" stroke="#fef8d9" stroke-width="0.6"/><path d="M333.3 118.5l1.1-.6 1.1-.7 1.1-.8 1.1-.8 1.1-.9 1.2-.9 1.1-1 1.2-1.1" stroke="#605c47" stroke-width="3.2"/><path d="M333.3 118.5l1.1-.6 1.1-.7 1.1-.8 1.1-.8 1.1-.9 1.2-.9 1.1-1 1.2-1.1" stroke="#e4d9a7" stroke-width="2.4"/><path d="M333.3 118.5l1.1-.6 1.1-.7 1.1-.8 1.1-.8 1.1-.9 1.2-.9 1.1-1 1.2-1.1" stroke="#fef8d9" stroke-width="0.6"/><path d="M343.4 102.3l0-1.3-.1-1.2 0-1.1-.1-1.1-.1-1-.1-.9-.1-.8 0-.8" stroke="#615e4f" stroke-width="3.2"/><path d="M343.4 102.3l0-1.3-.1-1.2 0-1.1-.1-1.1-.1-1-.1-.9-.1-.8 0-.8" stroke="#dbd4b3" stroke-width="2.4"/><path d="M343.4 102.3l0-1.3-.1-1.2 0-1.1-.1-1.1-.1-1-.1-.9-.1-.8 0-.8" stroke="#fffae5" stroke-width="0.6"/><path d="M347.8 107.9l.6-1.8 .5-1.7 .4-1.8 .3-1.7 .2-1.8 .1-1.6 .1-1.7 0-1.6" stroke="#615e4f" stroke-width="3.2"/><path d="M347.8 107.9l.6-1.8 .5-1.7 .4-1.8 .3-1.7 .2-1.8 .1-1.6 .1-1.7 0-1.6" stroke="#c6c0a2" stroke-width="2.4"/><path d="M347.8 107.9l.6-1.8 .5-1.7 .4-1.8 .3-1.7 .2-1.8 .1-1.6 .1-1.7 0-1.6" stroke="#fffae5" stroke-width="0.6"/><path d="M337.9 106.1l.5-.6 .6-.6 .6-.7 .6-.6 .7-.7 .7-.6 .7-.7 .8-.8" stroke="#615e4f" stroke-width="3.2"/><path d="M337.9 106.1l.5-.6 .6-.6 .6-.7 .6-.6 .7-.7 .7-.6 .7-.7 .8-.8" stroke="#b7b296" stroke-width="2.4"/><path d="M337.9 106.1l.5-.6 .6-.6 .6-.7 .6-.6 .7-.7 .7-.6 .7-.7 .8-.8" stroke="#fffae5" stroke-width="0.6"/><path d="M342.3 111.7l1.1-1.1 1.1-1.2 1.1-1.2 1-1.4 1-1.3 .9-1.5 .9-1.5 .8-1.5" stroke="#615e4f" stroke-width="3.2"/><path d="M342.3 111.7l1.1-1.1 1.1-1.2 1.1-1.2 1-1.4 1-1.3 .9-1.5 .9-1.5 .8-1.5" stroke="#e5debb" stroke-width="2.4"/><path d="M342.3 111.7l1.1-1.1 1.1-1.2 1.1-1.2 1-1.4 1-1.3 .9-1.5 .9-1.5 .8-1.5" stroke="#fffae5" stroke-width="0.6"/><path d="M350 94.2l-.1-1.6-.2-1.5-.2-1.4-.3-1.3-.3-1.3-.4-1.2-.4-1.1-.3-1" stroke="#615e4f" stroke-width="3.2"/><path d="M350 94.2l-.1-1.6-.2-1.5-.2-1.4-.3-1.3-.3-1.3-.4-1.2-.4-1.1-.3-1" stroke="#c6c0a2" stroke-width="2.4"/><path d="M350 94.2l-.1-1.6-.2-1.5-.2-1.4-.3-1.3-.3-1.3-.4-1.2-.4-1.1-.3-1" stroke="#fffae5" stroke-width="0.6"/><path d="M342.9 94.1l-.1-.8 0-.7 .1-.6 .1-.6 .1-.6 .2-.5 .2-.5 .3-.5" stroke="#615e4f" stroke-width="3.2"/><path d="M342.9 94.1l-.1-.8 0-.7 .1-.6 .1-.6 .1-.6 .2-.5 .2-.5 .3-.5" stroke="#dbd4b2" stroke-width="2.4"/><path d="M342.9 94.1l-.1-.8 0-.7 .1-.6 .1-.6 .1-.6 .2-.5 .2-.5 .3-.5" stroke="#fffae5" stroke-width="0.6"/><path d="M350.2 101l.7-1.6 .7-1.6 .6-1.7 .4-1.6 .4-1.7 .3-1.7 .3-1.7 .1-1.6" stroke="#615e4f" stroke-width="3.2"/><path d="M350.2 101l.7-1.6 .7-1.6 .6-1.7 .4-1.6 .4-1.7 .3-1.7 .3-1.7 .1-1.6" stroke="#e5deba" stroke-width="2.4"/><path d="M350.2 101l.7-1.6 .7-1.6 .6-1.7 .4-1.6 .4-1.7 .3-1.7 .3-1.7 .1-1.6" stroke="#fffae5" stroke-width="0.6"/><path d="M343.1 100.8l.8-.7 .9-.8 .8-.9 .8-.9 .9-1 .8-1 .8-1.1 .8-1.1" stroke="#615e4f" stroke-width="3.2"/><path d="M343.1 100.8l.8-.7 .9-.8 .8-.9 .8-.9 .9-1 .8-1 .8-1.1 .8-1.1" stroke="#b7b195" stroke-width="2.4"/><path d="M343.1 100.8l.8-.7 .9-.8 .8-.9 .8-.9 .9-1 .8-1 .8-1.1 .8-1.1" stroke="#fffae5" stroke-width="0.6"/><path d="M347.8 83.8l-.4-1-.4-.8-.4-.8-.4-.7-.3-.6-.2-.6-.2-.4-.1-.4" stroke="#605c47" stroke-width="3.2"/><path d="M347.8 83.8l-.4-1-.4-.8-.4-.8-.4-.7-.3-.6-.2-.6-.2-.4-.1-.4" stroke="#c6bd92" stroke-width="2.4"/><path d="M347.8 83.8l-.4-1-.4-.8-.4-.8-.4-.7-.3-.6-.2-.6-.2-.4-.1-.4" stroke="#fef8da" stroke-width="0.6"/><path d="M353.7 87.8l0-1.7 0-1.6-.2-1.5-.2-1.5-.3-1.5-.3-1.3-.3-1.2-.4-1.2" stroke="#605c47" stroke-width="3.2"/><path d="M353.7 87.8l0-1.7 0-1.6-.2-1.5-.2-1.5-.3-1.5-.3-1.3-.3-1.2-.4-1.2" stroke="#e4daa9" stroke-width="2.4"/><path d="M353.7 87.8l0-1.7 0-1.6-.2-1.5-.2-1.5-.3-1.5-.3-1.3-.3-1.2-.4-1.2" stroke="#fef8da" stroke-width="0.6"/><path d="M343.8 89.3l.4-.5 .4-.5 .4-.5 .5-.5 .5-.5 .6-.6 .6-.6 .7-.6" stroke="#605c47" stroke-width="3.2"/><path d="M343.8 89.3l.4-.5 .4-.5 .4-.5 .5-.5 .5-.5 .6-.6 .6-.6 .7-.6" stroke="#dad0a1" stroke-width="2.4"/><path d="M343.8 89.3l.4-.5 .4-.5 .4-.5 .5-.5 .5-.5 .6-.6 .6-.6 .7-.6" stroke="#fef8da" stroke-width="0.6"/><path d="M349.7 93.3l.8-1.2 .7-1.2 .7-1.3 .6-1.3 .6-1.4 .5-1.3 .5-1.4 .4-1.4" stroke="#605c47" stroke-width="3.2"/><path d="M349.7 93.3l.8-1.2 .7-1.2 .7-1.3 .6-1.3 .6-1.4 .5-1.3 .5-1.4 .4-1.4" stroke="#b6ae87" stroke-width="2.4"/><path d="M349.7 93.3l.8-1.2 .7-1.2 .7-1.3 .6-1.3 .6-1.4 .5-1.3 .5-1.4 .4-1.4" stroke="#fef8da" stroke-width="0.6"/><path d="M352 76.3l-.4-1.1-.4-1.1-.4-.9-.5-.9-.5-.7-.4-.7-.5-.7-.4-.5" stroke="#60593d" stroke-width="3.2"/><path d="M352 76.3l-.4-1.1-.4-1.1-.4-.9-.5-.9-.5-.7-.4-.7-.5-.7-.4-.5" stroke="#e3d490" stroke-width="2.4"/><path d="M352 76.3l-.4-1.1-.4-1.1-.4-.9-.5-.9-.5-.7-.4-.7-.5-.7-.4-.5" stroke="#fdf4cb" stroke-width="0.6"/><path d="M354.5 82.8l.4-1.4 .3-1.4 .2-1.4 .1-1.4 0-1.4 0-1.3-.1-1.4-.1-1.2" stroke="#60593d" stroke-width="3.2"/><path d="M354.5 82.8l.4-1.4 .3-1.4 .2-1.4 .1-1.4 0-1.4 0-1.3-.1-1.4-.1-1.2" stroke="#b5a973" stroke-width="2.4"/><path d="M354.5 82.8l.4-1.4 .3-1.4 .2-1.4 .1-1.4 0-1.4 0-1.3-.1-1.4-.1-1.2" stroke="#fdf4cb" stroke-width="0.6"/><path d="M345.4 78.5l-.1-.4 0-.3 .1-.3 .1-.3 .1-.2 .3-.2 .3-.3 .3-.2" stroke="#60593d" stroke-width="3.2"/><path d="M345.4 78.5l-.1-.4 0-.3 .1-.3 .1-.3 .1-.2 .3-.2 .3-.3 .3-.2" stroke="#c5b87d" stroke-width="2.4"/><path d="M345.4 78.5l-.1-.4 0-.3 .1-.3 .1-.3 .1-.2 .3-.2 .3-.3 .3-.2" stroke="#fdf4cb" stroke-width="0.6"/><path d="M347.9 85l.7-.6 .7-.7 .7-.8 .7-.8 .7-.8 .6-.9 .7-1 .6-.9" stroke="#60593d" stroke-width="3.2"/><path d="M347.9 85l.7-.6 .7-.7 .7-.8 .7-.8 .7-.8 .6-.9 .7-1 .6-.9" stroke="#d9ca8a" stroke-width="2.4"/><path d="M347.9 85l.7-.6 .7-.7 .7-.8 .7-.8 .7-.8 .6-.9 .7-1 .6-.9" stroke="#fdf4cb" stroke-width="0.6"/><path d="M355.3 71.9l-.2-1.3-.3-1.2-.3-1.1-.4-1.1-.5-1-.5-.9-.6-.8-.6-.7" stroke="#5f542f" stroke-width="3.2"/><path d="M355.3 71.9l-.2-1.3-.3-1.2-.3-1.1-.4-1.1-.5-1-.5-.9-.6-.8-.6-.7" stroke="#b49f59" stroke-width="2.4"/><path d="M355.3 71.9l-.2-1.3-.3-1.2-.3-1.1-.4-1.1-.5-1-.5-.9-.6-.8-.6-.7" stroke="#fdecb7" stroke-width="0.6"/><path d="M348.5 69.7l-.4-.4-.4-.4-.3-.3-.3-.2-.2-.2-.2 0-.1 0" stroke="#5f542f" stroke-width="3.2"/><path d="M348.5 69.7l-.4-.4-.4-.4-.3-.3-.3-.2-.2-.2-.2 0-.1 0" stroke="#e1c76f" stroke-width="2.4"/><path d="M348.5 69.7l-.4-.4-.4-.4-.3-.3-.3-.2-.2-.2-.2 0-.1 0" stroke="#fdecb7" stroke-width="0.6"/><path d="M353.3 78.5l.6-1.1 .6-1 .5-1.1 .4-1.2 .4-1.2 .4-1.2 .2-1.3 .2-1.3" stroke="#5f542f" stroke-width="3.2"/><path d="M353.3 78.5l.6-1.1 .6-1 .5-1.1 .4-1.2 .4-1.2 .4-1.2 .2-1.3 .2-1.3" stroke="#d7be6a" stroke-width="2.4"/><path d="M353.3 78.5l.6-1.1 .6-1 .5-1.1 .4-1.2 .4-1.2 .4-1.2 .2-1.3 .2-1.3" stroke="#fdecb7" stroke-width="0.6"/><path d="M346.5 76.3l.4-.2 .5-.3 .5-.3 .6-.3 .6-.3 .7-.4 .7-.4 .8-.5" stroke="#5f542f" stroke-width="3.2"/><path d="M346.5 76.3l.4-.2 .5-.3 .5-.3 .6-.3 .6-.3 .7-.4 .7-.4 .8-.5" stroke="#c3ac60" stroke-width="2.4"/><path d="M346.5 76.3l.4-.2 .5-.3 .5-.3 .6-.3 .6-.3 .7-.4 .7-.4 .8-.5" stroke="#fdecb7" stroke-width="0.6"/><path d="M351.9 63.8l-.6-.6-.6-.5-.7-.3-.5-.2-.6 0-.4 .1-.3 .2-.2 .3" stroke="#5f4f24" stroke-width="3.2"/><path d="M351.9 63.8l-.6-.6-.6-.5-.7-.3-.5-.2-.6 0-.4 .1-.3 .2-.2 .3" stroke="#b39544" stroke-width="2.4"/><path d="M351.9 63.8l-.6-.6-.6-.5-.7-.3-.5-.2-.6 0-.4 .1-.3 .2-.2 .3" stroke="#fce5a7" stroke-width="0.6"/><path d="M356.6 69.1l.1-1.3-.1-1.3-.1-1.3-.3-1.2-.4-1.2-.5-1-.6-1-.6-.8" stroke="#5f4f24" stroke-width="3.2"/><path d="M356.6 69.1l.1-1.3-.1-1.3-.1-1.3-.3-1.2-.4-1.2-.5-1-.6-1-.6-.8" stroke="#d6b251" stroke-width="2.4"/><path d="M356.6 69.1l.1-1.3-.1-1.3-.1-1.3-.3-1.2-.4-1.2-.5-1-.6-1-.6-.8" stroke="#fce5a7" stroke-width="0.6"/><path d="M346.6 68.2l.2 .2 .2 .1 .4 .2 .5 .1 .6 .2 .7 0 .8 0 1-.1" stroke="#5f4f24" stroke-width="3.2"/><path d="M346.6 68.2l.2 .2 .2 .1 .4 .2 .5 .1 .6 .2 .7 0 .8 0 1-.1" stroke="#e0ba55" stroke-width="2.4"/><path d="M346.6 68.2l.2 .2 .2 .1 .4 .2 .5 .1 .6 .2 .7 0 .8 0 1-.1" stroke="#fce5a7" stroke-width="0.6"/><path d="M351.3 73.6l.9-.6 .8-.7 .8-.8 .8-.9 .8-1 .6-1.1 .6-1.1 .5-1.3" stroke="#5f4f24" stroke-width="3.2"/><path d="M351.3 73.6l.9-.6 .8-.7 .8-.8 .8-.9 .8-1 .6-1.1 .6-1.1 .5-1.3" stroke="#c2a249" stroke-width="2.4"/><path d="M351.3 73.6l.9-.6 .8-.7 .8-.8 .8-.9 .8-1 .6-1.1 .6-1.1 .5-1.3" stroke="#fce5a7" stroke-width="0.6"/><path d="M354.1 60l-.7-.7-.8-.4-.7-.3-.7-.1-.6 0-.5 .2-.3 .4-.2 .4" stroke="#5e491a" stroke-width="3.2"/><path d="M354.1 60l-.7-.7-.8-.4-.7-.3-.7-.1-.6 0-.5 .2-.3 .4-.2 .4" stroke="#d5a63b" stroke-width="2.4"/><path d="M354.1 60l-.7-.7-.8-.4-.7-.3-.7-.1-.6 0-.5 .2-.3 .4-.2 .4" stroke="#fbdd98" stroke-width="0.6"/><path d="M357.1 66.1l.3-1.3 .2-1.3 0-1.3-.2-1.3-.3-1.1-.4-1.1-.5-.8-.6-.8" stroke="#5e491a" stroke-width="3.2"/><path d="M357.1 66.1l.3-1.3 .2-1.3 0-1.3-.2-1.3-.3-1.1-.4-1.1-.5-.8-.6-.8" stroke="#c19635" stroke-width="2.4"/><path d="M357.1 66.1l.3-1.3 .2-1.3 0-1.3-.2-1.3-.3-1.1-.4-1.1-.5-.8-.6-.8" stroke="#fbdd98" stroke-width="0.6"/><path d="M348 62.8l0 .4 .1 .4 .3 .5 .5 .5 .6 .4 .8 .3 .9 .2 1 0" stroke="#5e491a" stroke-width="3.2"/><path d="M348 62.8l0 .4 .1 .4 .3 .5 .5 .5 .6 .4 .8 .3 .9 .2 1 0" stroke="#b28b31" stroke-width="2.4"/><path d="M348 62.8l0 .4 .1 .4 .3 .5 .5 .5 .6 .4 .8 .3 .9 .2 1 0" stroke="#fbdd98" stroke-width="0.6"/><path d="M351 68.9l1-.3 1-.3 1.1-.6 1-.7 .9-.8 .9-.9 .7-1.1 .6-1.1" stroke="#5e491a" stroke-width="3.2"/><path d="M351 68.9l1-.3 1-.3 1.1-.6 1-.7 .9-.8 .9-.9 .7-1.1 .6-1.1" stroke="#dfae3e" stroke-width="2.4"/><path d="M351 68.9l1-.3 1-.3 1.1-.6 1-.7 .9-.8 .9-.9 .7-1.1 .6-1.1" stroke="#fbdd98" stroke-width="0.6"/><path d="M358.2 63.1l.4-1.1 .3-1.1 .1-1.1 0-1-.1-1-.2-.8-.3-.7-.3-.5" stroke="#5d4114" stroke-width="3.2"/><path d="M358.2 63.1l.4-1.1 .3-1.1 .1-1.1 0-1-.1-1-.2-.8-.3-.7-.3-.5" stroke="#dd9a30" stroke-width="2.4"/><path d="M358.2 63.1l.4-1.1 .3-1.1 .1-1.1 0-1-.1-1-.2-.8-.3-.7-.3-.5" stroke="#fad190" stroke-width="0.6"/><path d="M355.6 57.1l-.6-.5-.6-.4-.6-.2-.4 0-.4 .1-.2 .3-.2 .3 .1 .4" stroke="#5d4114" stroke-width="3.2"/><path d="M355.6 57.1l-.6-.5-.6-.4-.6-.2-.4 0-.4 .1-.2 .3-.2 .3 .1 .4" stroke="#c0862a" stroke-width="2.4"/><path d="M355.6 57.1l-.6-.5-.6-.4-.6-.2-.4 0-.4 .1-.2 .3-.2 .3 .1 .4" stroke="#fad190" stroke-width="0.6"/><path d="M352.2 65.5l1.1-.1 1-.2 1.1-.4 1-.5 .9-.7 .9-.7 .7-.8 .7-.9" stroke="#5d4114" stroke-width="3.2"/><path d="M352.2 65.5l1.1-.1 1-.2 1.1-.4 1-.5 .9-.7 .9-.7 .7-.8 .7-.9" stroke="#b17b27" stroke-width="2.4"/><path d="M352.2 65.5l1.1-.1 1-.2 1.1-.4 1-.5 .9-.7 .9-.7 .7-.8 .7-.9" stroke="#fad190" stroke-width="0.6"/><path d="M349.6 59.5l.1 .5 .1 .5 .4 .5 .6 .5 .7 .4 .8 .3 .9 .2 .9 .1" stroke="#5d4114" stroke-width="3.2"/><path d="M349.6 59.5l.1 .5 .1 .5 .4 .5 .6 .5 .7 .4 .8 .3 .9 .2 .9 .1" stroke="#d3932e" stroke-width="2.4"/><path d="M349.6 59.5l.1 .5 .1 .5 .4 .5 .6 .5 .7 .4 .8 .3 .9 .2 .9 .1" stroke="#fad190" stroke-width="0.6"/><path d="M359.6 61.2l.5-.8 .5-.9 .3-.8 .3-.8 .2-.7 .2-.6 .1-.6 .1-.6" stroke="#5c3a14" stroke-width="3.2"/><path d="M359.6 61.2l.5-.8 .5-.9 .3-.8 .3-.8 .2-.7 .2-.6 .1-.6 .1-.6" stroke="#af6e26" stroke-width="2.4"/><path d="M359.6 61.2l.5-.8 .5-.9 .3-.8 .3-.8 .2-.7 .2-.6 .1-.6 .1-.6" stroke="#f8c690" stroke-width="0.6"/><path d="M358.1 55.8l-.3-.5-.2-.3-.3-.2-.2-.1-.1 0 0 .1 .1 .2 .1 .2" stroke="#5c3a14" stroke-width="3.2"/><path d="M358.1 55.8l-.3-.5-.2-.3-.3-.2-.2-.1-.1 0 0 .1 .1 .2 .1 .2" stroke="#da892f" stroke-width="2.4"/><path d="M358.1 55.8l-.3-.5-.2-.3-.3-.2-.2-.1-.1 0 0 .1 .1 .2 .1 .2" stroke="#f8c690" stroke-width="0.6"/><path d="M354.1 62.5l1 0 1-.1 1-.2 1-.3 1-.4 .9-.4 .8-.5 .8-.6" stroke="#5c3a14" stroke-width="3.2"/><path d="M354.1 62.5l1 0 1-.1 1-.2 1-.3 1-.4 .9-.4 .8-.5 .8-.6" stroke="#d1832d" stroke-width="2.4"/><path d="M354.1 62.5l1 0 1-.1 1-.2 1-.3 1-.4 .9-.4 .8-.5 .8-.6" stroke="#f8c690" stroke-width="0.6"/><path d="M352.7 57.1l.1 .4 .3 .4 .4 .4 .6 .4 .6 .3 .7 .3 .8 .3 .9 .1" stroke="#5c3a14" stroke-width="3.2"/><path d="M352.7 57.1l.1 .4 .3 .4 .4 .4 .6 .4 .6 .3 .7 .3 .8 .3 .9 .1" stroke="#bd7729" stroke-width="2.4"/><path d="M352.7 57.1l.1 .4 .3 .4 .4 .4 .6 .4 .6 .3 .7 .3 .8 .3 .9 .1" stroke="#f8c690" stroke-width="0.6"/><path d="M361.6 60l.8-.6 .7-.6 .6-.6 .7-.5 .6-.6 .6-.6 .5-.5 .5-.6" stroke="#5b3217" stroke-width="3.2"/><path d="M361.6 60l.8-.6 .7-.6 .6-.6 .7-.5 .6-.6 .6-.6 .5-.5 .5-.6" stroke="#cd7134" stroke-width="2.4"/><path d="M361.6 60l.8-.6 .7-.6 .6-.6 .7-.5 .6-.6 .6-.6 .5-.5 .5-.6" stroke="#f6bb94" stroke-width="0.6"/><path d="M361.8 55.4l0-.4 .1-.3 .1-.3 .2-.3 .1-.2 .2-.2 .2-.1 .3 0" stroke="#5b3217" stroke-width="3.2"/><path d="M361.8 55.4l0-.4 .1-.3 .1-.3 .2-.3 .1-.2 .2-.2 .2-.1 .3 0" stroke="#ac5e2c" stroke-width="2.4"/><path d="M361.8 55.4l0-.4 .1-.3 .1-.3 .2-.3 .1-.2 .2-.2 .2-.1 .3 0" stroke="#f6bb94" stroke-width="0.6"/><path d="M357.1 59.7l.9 .1 1 .1 .9-.1 1 0 1-.1 1-.2 1-.2 1-.3" stroke="#5b3217" stroke-width="3.2"/><path d="M357.1 59.7l.9 .1 1 .1 .9-.1 1 0 1-.1 1-.2 1-.2 1-.3" stroke="#ba662f" stroke-width="2.4"/><path d="M357.1 59.7l.9 .1 1 .1 .9-.1 1 0 1-.1 1-.2 1-.2 1-.3" stroke="#f6bb94" stroke-width="0.6"/><path d="M357.2 55.2l.3 .2 .3 .3 .5 .3 .4 .2 .5 .3 .6 .2 .7 .3 .8 .2" stroke="#5b3217" stroke-width="3.2"/><path d="M357.2 55.2l.3 .2 .3 .3 .5 .3 .4 .2 .5 .3 .6 .2 .7 .3 .8 .2" stroke="#d77636" stroke-width="2.4"/><path d="M357.2 55.2l.3 .2 .3 .3 .5 .3 .4 .2 .5 .3 .6 .2 .7 .3 .8 .2" stroke="#f6bb94" stroke-width="0.6"/><path d="M364.9 59l1-.3 1.2 0 1.2-.1 1.2-.1 1.2-.3 1.2-.3 1.1-.3 1.2-.4" stroke="#572720" stroke-width="3.2"/><path d="M364.9 59l1-.3 1.2 0 1.2-.1 1.2-.1 1.2-.3 1.2-.3 1.1-.3 1.2-.4" stroke="#b24f41" stroke-width="2.4"/><path d="M364.9 59l1-.3 1.2 0 1.2-.1 1.2-.1 1.2-.3 1.2-.3 1.1-.3 1.2-.4" stroke="#f0aba0" stroke-width="0.6"/><path d="M366.6 55.4l.5-.5 .5-.2 .6-.2 .5 0 .5 0 .6 0 .6 .1 .7 .1" stroke="#572720" stroke-width="3.2"/><path d="M366.6 55.4l.5-.5 .5-.2 .6-.2 .5 0 .5 0 .6 0 .6 .1 .7 .1" stroke="#c45747" stroke-width="2.4"/><path d="M366.6 55.4l.5-.5 .5-.2 .6-.2 .5 0 .5 0 .6 0 .6 .1 .7 .1" stroke="#f0aba0" stroke-width="0.6"/><path d="M361.3 57.2l.8 .2 1 .7 1.2 .6 1.3 .5 1.4 .5 1.6 .3 1.5 .2 1.7 .1" stroke="#572720" stroke-width="3.2"/><path d="M361.3 57.2l.8 .2 1 .7 1.2 .6 1.3 .5 1.4 .5 1.6 .3 1.5 .2 1.7 .1" stroke="#ce5b4b" stroke-width="2.4"/><path d="M361.3 57.2l.8 .2 1 .7 1.2 .6 1.3 .5 1.4 .5 1.6 .3 1.5 .2 1.7 .1" stroke="#f0aba0" stroke-width="0.6"/><path d="M363 53.6l.3-.1 .4 .5 .5 .6 .6 .7 .8 .6 .9 .7 1.1 .6 1.2 .6" stroke="#572720" stroke-width="3.2"/><path d="M363 53.6l.3-.1 .4 .5 .5 .6 .6 .7 .8 .6 .9 .7 1.1 .6 1.2 .6" stroke="#a4493c" stroke-width="2.4"/><path d="M363 53.6l.3-.1 .4 .5 .5 .6 .6 .7 .8 .6 .9 .7 1.1 .6 1.2 .6" stroke="#f0aba0" stroke-width="0.6"/><path d="M374.2 57.2l1.1-.4 1-.4 1.1-.5 1-.4 1.1-.5 1-.5 1-.4 1-.4" stroke="#461a33" stroke-width="3.2"/><path d="M374.2 57.2l1.1-.4 1-.4 1.1-.5 1-.4 1.1-.5 1-.5 1-.4 1-.4" stroke="#8f3568" stroke-width="2.4"/><path d="M374.2 57.2l1.1-.4 1-.4 1.1-.5 1-.4 1.1-.5 1-.5 1-.4 1-.4" stroke="#d798bc" stroke-width="0.6"/><path d="M371.8 60.3l1.7 0 1.7-.2 1.7-.3 1.7-.4 1.6-.5 1.7-.6 1.5-.7 1.6-.8" stroke="#461a33" stroke-width="3.2"/><path d="M371.8 60.3l1.7 0 1.7-.2 1.7-.3 1.7-.4 1.6-.5 1.7-.6 1.5-.7 1.6-.8" stroke="#a53d78" stroke-width="2.4"/><path d="M371.8 60.3l1.7 0 1.7-.2 1.7-.3 1.7-.4 1.6-.5 1.7-.6 1.5-.7 1.6-.8" stroke="#d798bc" stroke-width="0.6"/><path d="M371.1 54.7l.8 .1 .8 .2 1 .2 1 .2 1.1 .2 1.2 .2 1.4 .2 1.4 .1" stroke="#461a33" stroke-width="3.2"/><path d="M371.1 54.7l.8 .1 .8 .2 1 .2 1 .2 1.1 .2 1.2 .2 1.4 .2 1.4 .1" stroke="#9e3a73" stroke-width="2.4"/><path d="M371.1 54.7l.8 .1 .8 .2 1 .2 1 .2 1.1 .2 1.2 .2 1.4 .2 1.4 .1" stroke="#d798bc" stroke-width="0.6"/><path d="M368.8 57.8l1.3 .5 1.5 .5 1.5 .4 1.7 .2 1.8 .2 1.8 0 1.9-.2 1.9-.2" stroke="#461a33" stroke-width="3.2"/><path d="M368.8 57.8l1.3 .5 1.5 .5 1.5 .4 1.7 .2 1.8 .2 1.8 0 1.9-.2 1.9-.2" stroke="#843160" stroke-width="2.4"/><path d="M368.8 57.8l1.3 .5 1.5 .5 1.5 .4 1.7 .2 1.8 .2 1.8 0 1.9-.2 1.9-.2" stroke="#d798bc" stroke-width="0.6"/><path d="M385 56.8l1.4-.9 1.4-1 1.4-1 1.3-1 1.2-1.1 1.1-1.1 1.1-1.1 1.1-1.1" stroke="#30143e" stroke-width="3.2"/><path d="M385 56.8l1.4-.9 1.4-1 1.4-1 1.3-1 1.2-1.1 1.1-1.1 1.1-1.1 1.1-1.1" stroke="#722f93" stroke-width="2.4"/><path d="M385 56.8l1.4-.9 1.4-1 1.4-1 1.3-1 1.2-1.1 1.1-1.1 1.1-1.1 1.1-1.1" stroke="#b990cc" stroke-width="0.6"/><path d="M382.2 59.2l2-.5 1.9-.5 1.9-.7 1.9-.9 1.8-1 1.8-1.1 1.6-1.2 1.6-1.3" stroke="#30143e" stroke-width="3.2"/><path d="M382.2 59.2l2-.5 1.9-.5 1.9-.7 1.9-.9 1.8-1 1.8-1.1 1.6-1.2 1.6-1.3" stroke="#5c2675" stroke-width="2.4"/><path d="M382.2 59.2l2-.5 1.9-.5 1.9-.7 1.9-.9 1.8-1 1.8-1.1 1.6-1.2 1.6-1.3" stroke="#b990cc" stroke-width="0.6"/><path d="M382.5 53.7l1.1-.5 1-.4 1.1-.4 1.2-.5 1.2-.4 1.2-.5 1.2-.5 1.3-.5" stroke="#30143e" stroke-width="3.2"/><path d="M382.5 53.7l1.1-.5 1-.4 1.1-.4 1.2-.5 1.2-.4 1.2-.5 1.2-.5 1.3-.5" stroke="#63297f" stroke-width="2.4"/><path d="M382.5 53.7l1.1-.5 1-.4 1.1-.4 1.2-.5 1.2-.4 1.2-.5 1.2-.5 1.3-.5" stroke="#b990cc" stroke-width="0.6"/><path d="M379.8 56.1l1.5 0 1.6-.1 1.7-.1 1.7-.3 1.8-.3 1.8-.5 1.8-.6 1.9-.8" stroke="#30143e" stroke-width="3.2"/><path d="M379.8 56.1l1.5 0 1.6-.1 1.7-.1 1.7-.3 1.8-.3 1.8-.5 1.8-.6 1.9-.8" stroke="#6d2d8c" stroke-width="2.4"/><path d="M379.8 56.1l1.5 0 1.6-.1 1.7-.1 1.7-.3 1.8-.3 1.8-.5 1.8-.6 1.9-.8" stroke="#b990cc" stroke-width="0.6"/><path d="M396.7 52l1.5-1.4 1.4-1.5 1.3-1.5 1.2-1.6 1.1-1.6 1-1.7 .8-1.6" stroke="#27133e" stroke-width="3.2"/><path d="M396.7 52l1.5-1.4 1.4-1.5 1.3-1.5 1.2-1.6 1.1-1.6 1-1.7 .8-1.6" stroke="#492375" stroke-width="2.4"/><path d="M396.7 52l1.5-1.4 1.4-1.5 1.3-1.5 1.2-1.6 1.1-1.6 1-1.7 .8-1.6" stroke="#ab8ecc" stroke-width="0.6"/><path d="M395 48.5l1-1.1 .9-1.1 1-1.1 .9-1.1 .9-1.1 .8-1.1 .9-1" stroke="#27133e" stroke-width="3.2"/><path d="M395 48.5l1-1.1 .9-1.1 1-1.1 .9-1.1 .9-1.1 .8-1.1 .9-1" stroke="#5c2c92" stroke-width="2.4"/><path d="M395 48.5l1-1.1 .9-1.1 1-1.1 .9-1.1 .9-1.1 .8-1.1 .9-1" stroke="#ab8ecc" stroke-width="0.6"/><path d="M393.6 53.4l1.8-.9 1.8-1 1.8-1.1 1.7-1.3 1.6-1.4 1.5-1.5 1.5-1.6" stroke="#27133e" stroke-width="3.2"/><path d="M393.6 53.4l1.8-.9 1.8-1 1.8-1.1 1.7-1.3 1.6-1.4 1.5-1.5 1.5-1.6" stroke="#582a8b" stroke-width="2.4"/><path d="M393.6 53.4l1.8-.9 1.8-1 1.8-1.1 1.7-1.3 1.6-1.4 1.5-1.5 1.5-1.6" stroke="#ab8ecc" stroke-width="0.6"/><path d="M391.8 50l1.4-.6 1.3-.7 1.4-.7 1.4-.8 1.5-.8 1.4-1 1.4-1" stroke="#27133e" stroke-width="3.2"/><path d="M391.8 50l1.4-.6 1.3-.7 1.4-.7 1.4-.8 1.5-.8 1.4-1 1.4-1" stroke="#50267f" stroke-width="2.4"/><path d="M391.8 50l1.4-.6 1.3-.7 1.4-.7 1.4-.8 1.5-.8 1.4-1 1.4-1" stroke="#ab8ecc" stroke-width="0.6"/><use href="#w2" opacity="0.30"/><path d="M508.4 208.8l136.4-158.7M469.7 174.4l141.8-153.9M508.4 208.8l1.4-1.7 1.2-1.7 1-1.9 .9-2 .6-2.1 .5-2.1 .3-2.1 .1-2.2-.1-2.2-.2-2.2-.5-2.2-.7-2.1-.8-2.1-1-2-1.2-1.9-1.3-1.8-1.5-1.7-1.6-1.6-1.8-1.4-1.9-1.3-1.9-1.1-2.1-1-2.1-.7-2.1-.6-2.2-.4-2.2-.2-2.2-.1-2.2 .2-2.2 .4-2.1 .5-2 .7-2 .9-1.9 1.1-1.7 1.3-1.7 1.3-1.5 1.6-1.3 1.7-1.2 1.7-1 1.9-.9 2-.6 2.1-.5 2.1-.3 2.1-.1 2.2 .1 2.2 .2 2.2 .5 2.2 .7 2.1 .8 2.1 1 2 1.2 1.9 1.3 1.8 1.5 1.7 1.6 1.6 1.8 1.4 1.9 1.3 1.9 1.1 2 1 2.2 .7 2.1 .6 2.2 .4 2.2 .2 2.2 .1 2.2-.2 2.2-.4 2.1-.5 2-.7 2-.9 1.9-1.1 1.7-1.3 1.6-1.3zM506.1 206.7l1.2-1.4 1.1-1.6 .9-1.7 .7-1.7 .6-1.8 .4-1.9 .3-1.9 .1-1.9-.1-1.9-.2-2-.4-1.9-.6-1.8-.8-1.9-.9-1.7-1-1.7-1.2-1.6-1.3-1.5-1.4-1.4-1.5-1.2-1.7-1.2-1.7-.9-1.8-.9-1.9-.7-1.9-.5-1.9-.3-1.9-.2-2-.1-1.9 .2-1.9 .3-1.9 .5-1.8 .6-1.7 .8-1.6 1-1.6 1.1-1.4 1.2-1.3 1.3-1.2 1.5-1.1 1.6-.9 1.7-.7 1.7-.6 1.8-.4 1.9-.3 1.9-.1 1.9 .1 1.9 .2 2 .4 1.9 .6 1.8 .8 1.9 .9 1.7 1 1.7 1.2 1.6 1.3 1.5 1.4 1.4 1.5 1.2 1.7 1.2 1.7 .9 1.8 .9 1.9 .7 1.8 .5 2 .3 1.9 .2 2 0 1.9-.1 1.9-.3 1.8-.5 1.8-.6 1.8-.8 1.6-1 1.6-1.1 1.4-1.2zM644.8 50.1l1.2-1.5 1-1.5 .9-1.6 .7-1.7 .6-1.8 .4-1.8 .3-1.9 .1-1.8-.1-1.9-.2-1.9-.4-1.9-.6-1.8-.7-1.8-.9-1.7-1-1.7-1.2-1.5-1.2-1.5-1.4-1.3-1.5-1.3-1.6-1.1-1.7-.9-1.8-.8-1.8-.7-1.9-.5-1.8-.4-1.9-.2-1.9 0-1.9 .2-1.9 .3-1.8 .4-1.7 .7-1.7 .8-1.6 .9-1.6 1-1.4 1.2-1.3 1.4-1.1 1.4-1 1.5-.9 1.7-.8 1.7-.5 1.7-.5 1.9-.2 1.8-.1 1.9 .1 1.9 .2 1.9 .4 1.8 .6 1.9 .7 1.7 .9 1.8 1 1.6 1.1 1.6 1.3 1.4 1.4 1.4 1.5 1.2 1.6 1.1 1.7 1 1.8 .8 1.8 .7 1.8 .5 1.9 .3 1.9 .2 1.9 0 1.9-.1 1.9-.3 1.8-.5 1.7-.6 1.7-.8 1.6-.9 1.5-1.1 1.4-1.2z" stroke="#3a3a3a" stroke-width="0.55"/><path id="w3" d="M484.2 175.6l.3-1.1 .4-1 .3-1 .4-.9 .4-.9 .5-.8 .5-.9 .5-.7 .5-.8 .6-.7 .6-.7 .6-.6 .7-.6 .7-.6 .8-.6 .8-.4 .8-.5 .9-.4 .9-.4 1-.4 1-.4 1.1-.4 1.1-.3 1.2-.4 1.3-.4 1.3-.4 1.4-.3 1.4-.4 1.5-.5 1.5-.4 1.5-.5 1.6-.6 1.6-.6 1.7-.6 1.7-.6 1.7-.6 1.7-.7 1.8-.7 1.8-.8 1.9-.8 1.8-.8 1.9-.8 1.9-.9 1.9-.9 2-1 1.9-1 1.9-1.1 1.9-1 1.9-1.2 2-1.1 1.9-1.3 2-1.2 1.9-1.3 2-1.3 1.9-1.4 1.9-1.4 2-1.4 1.9-1.5 1.9-1.5 2-1.5 2-1.7 2.1-1.7 2-1.8 2-1.8 1.9-1.9 2-2 1.8-2 1.8-2 1.8-2.1 1.7-2.1 1.6-2.1 1.6-2.2 1.6-2.2 1.4-2.2 1.5-2.5 1.4-2.7 1.2-2.7 1.1-2.7 1-2.8 .9-2.7 .8-2.6 .6-2.7 .5-2.6 .3-2.5 .3-2.4 .2-2.4 .1-2.3 0-2.1-.1-2.1 .2-1.9 .2-1.7 .2-1.6 .2-1.6 .2-1.5 .2-1.4 .2-1.4 .1-1.3 .2-1.3 .2-1.1 .2-1.1 .2-1.1 .3-1 .3-.9 .3-.9 .5-.9 .6-.9 .6-.9 .7-.8 .6-.9 .7-.8 .7-.7 .8-.8 .7-.7 .9-.7 .8-.7 .9-.7 .9-.6 .9-.7 1-.6M497.9 177.8l.4-1.7 .4-1.8 .4-1.7 .3-1.6 .3-1.6 .3-1.6 .3-1.5 .3-1.5 .3-1.4 .3-1.4 .3-1.3 .3-1.3 .3-1.3 .3-1.2 .4-1.1 .2-1.1 .3-1 .3-1 .3-.9 .3-.9 .4-.8 .4-.8 .5-.8 .4-.7 .6-.6 .5-.6 .6-.6 .7-.6 .7-.5 .7-.5 .9-.6 .9-.5 .9-.5 .9-.5 1.1-.5 1-.5 1.1-.5 1.1-.5 1.2-.5 1.3-.5 1.2-.4 1.4-.5 1.3-.5 1.4-.5 1.4-.6 1.5-.5 1.5-.6 1.5-.6 1.6-.7 1.6-.6 1.6-.7 1.7-.7 1.7-.7 1.7-.7 1.8-.8 1.7-.8 1.8-.8 1.8-.9 1.9-.9 1.9-.8 2.1-.9 2.1-.9 2.1-1 2.2-1 2.1-1.1 2.2-1.2 2.2-1.2 2.1-1.3 2.2-1.3 2.1-1.4 2.2-1.5 2.1-1.5 2.1-1.6 2-1.7 2.4-1.9 2.4-2 2.3-2.2 2.2-2.2 2.1-2.3 2-2.4 1.9-2.5 1.7-2.6 1.7-2.6 1.5-2.7 1.4-2.6 1.2-2.8 1.2-2.7 1-2.7 .8-2.7 .8-2.3 .8-2.2 .8-2.3 .7-2.2 .6-2.1 .5-2.2 .6-2.1 .4-2 .4-2 .4-2 .4-1.9 .3-1.8 .3-1.8 .2-1.7 .2-1.7 .5-1.5 .4-1.5 .5-1.5 .4-1.4 .4-1.4 .5-1.3 .4-1.3 .5-1.3 .4-1.3 .5-1.2 .4-1.1 .5-1.2 .5-1.1 .5-1 .5-1.1M467.2 187.7l1-.2 1.2-.1 1.2-.2 1.2-.1 1.4-.2 1.3-.2 1.5-.1 1.5-.2 1.5-.2 1.7-.3 1.6-.2 1.8-.3 1.7-.3 1.9-.4 1.9-.3 2-.3 2-.4 2.1-.4 2.2-.5 2.2-.5 2.2-.6 2.3-.7 2.3-.7 2.3-.8 2.4-.8 2.4-1 2.4-1 2.4-1 2.4-1.2 2.4-1.2 2.3-1.2 2.2-1.4 2.3-1.4 2.3-1.4 2.3-1.6 2.2-1.5 2.2-1.7 2.2-1.6 2.2-1.8 2.1-1.8 2.1-1.8 2.1-1.9 2.1-1.9 2-2 1.9-2 1.9-2 1.9-2.1 1.8-2.1 1.7-2.1 1.8-2.2 1.6-2.2 1.7-2.2 1.5-2.2 1.6-2.2 1.5-2.3 1.4-2.3 1.4-2.3 1.3-2.3 1.3-2.3 1.3-2.5 1.1-2.6 1.1-2.6 1-2.7 1-2.6 .8-2.6 .8-2.6 .6-2.5 .6-2.5 .6-2.5 .4-2.5 .4-2.4 .3-2.3 .3-2.3 .2-2.2-.1-2.4-.5-2.5-.5-2.2-.5-2.2-.7-1.9-.7-1.8-.7-1.6-.7-1.5-.7-1.2-.6-1.1-.7-1-.6-.7-.5-.6-.4-.4-.3-.3 0-.4 .3-.4 .3-.4 .4-.3 .4-.2 .6-.2 .6-.1 .7-.2 .8 0 .8-.1 1 0 1-.1 1.2 0 1.2 0 1.3 0 1.3-.3 1.4-.4 1.4-.4 1.5-.3 1.5-.4 1.6-.5 1.6-.4 1.7-.5 1.6-.5 1.8-.5 1.7-.5 1.8-.6 1.9-.6 1.9-.6 1.9-.7M473 195.7l1.5-.5 1.5-.5 1.6-.5 1.6-.5 1.6-.5 1.7-.6 1.7-.6 1.7-.6 1.8-.7 1.8-.7 1.8-.7 1.9-.8 1.9-.8 1.9-.8 2-.8 2-.9 2.1-.9 2-1 2.1-1 2.1-1.1 2.1-1.2 2.2-1.1 2.1-1.3 2.1-1.3 2.1-1.3 2.1-1.5 2.1-1.4 2.1-1.5 2.1-1.6 2-1.6 1.9-1.7 1.9-1.7 1.9-1.7 1.9-1.7 1.8-1.8 1.8-1.8 1.8-1.9 1.8-1.9 1.7-1.9 1.7-2 1.6-1.9 1.6-2 1.6-2.1 1.5-2 1.5-2.1 1.4-2 1.4-2.1 1.3-2 1.4-2.1 1.2-2.1 1.3-2 1.2-2.1 1.1-2.1 1.2-2.1 1-2.1 1.1-2.1 1-2 1-2.1 .9-2 .8-2.2 .8-2.2 .7-2.2 .7-2.2 .6-2.2 .5-2.1 .5-2.1 .5-2 .4-2 .3-1.9 .4-1.9 .3-1.8 .3-1.8 .2-1.8 .2-1.6 0-1.6-.3-1.6-.2-1.5-.3-1.4-.2-1.2-.2-1.1-.2-.9-.2-.8 0-.8 0-.5 0-.5 .2-.4 .3-.3 .3-.2 .5-.1 .7-.4 .9-.4 .9-.4 .9-.3 1-.3 1.1-.4 1.2-.3 1.2-.3 1.3-.3 1.4-.4 1.4-.3 1.5-.4 1.5-.4 1.6-.4 1.7-.4 1.6-.7 1.6-.7 1.7-.8 1.6-.7 1.7-.8 1.7-.8 1.8-.8 1.7-.9 1.8-.9 1.8-.9 1.8-1 1.9-1 1.8-1 1.8-1 1.9-1.1M480.8 190.1l1.2-.9 1.1-.8 1.2-.9 1.2-.9 1.2-.9 1.3-.8 1.3-.9 1.2-.9 1.4-.9 1.3-.9 1.4-.9 1.3-1 1.4-.9 1.5-.9 1.4-1 1.5-.9 1.5-1 1.5-1 1.5-1 1.6-1 1.6-1 1.6-1.1 1.6-1.1 1.6-1.1 1.6-1.1 1.6-1.2 1.6-1.2 1.7-1.2 1.6-1.3 1.6-1.2 1.6-1.3 1.6-1.4 1.6-1.3 1.6-1.4 1.6-1.4 1.5-1.4 1.6-1.4 1.6-1.5 1.5-1.4 1.6-1.5 1.5-1.5 1.5-1.6 1.5-1.5 1.5-1.6 1.4-1.6 1.5-1.5 1.4-1.6 1.4-1.6 1.4-1.7 1.4-1.6 1.3-1.6 1.4-1.7 1.3-1.6 1.3-1.7 1.3-1.7 1.3-1.7 1.2-1.6 1.3-1.7 1.2-1.7 1.2-1.8 1.1-1.8 1.2-1.8 1.1-1.8 1.1-1.8 1-1.8 1-1.8 1-1.8 1-1.7 .9-1.8 .9-1.7 .9-1.8 .8-1.7 .8-1.6 .8-1.7 .7-1.7 .6-1.8 .5-1.6 .5-1.7 .5-1.5 .5-1.5 .5-1.4 .4-1.4 .5-1.3 .5-1.2 .4-1.2 .6-1.1 .5-1 .6-1 .6-.9 .7-1 .8-1 .9-.9 .9-1 .9-.9 .9-.9 1-.8 .9-.9 1.1-.9 1-.8 1.1-.8 1.1-.9 1.2-.8 1.2-.8 1.2-.8 1.2-1 1.3-.9 1.2-1 1.3-.9 1.3-1 1.3-1 1.4-1 1.3-1 1.4-1 1.4-1 1.4-1 1.4-1 1.4-1.1 1.4-1 1.5-1.1M475 182.1l.7-.6 .8-.5 .8-.5 .9-.5 .9-.5 1-.5 1-.5 1-.4 1.1-.5 1.2-.4 1.2-.5 1.2-.4 1.3-.5 1.3-.4 1.4-.5 1.4-.4 1.5-.4 1.6-.4 1.6-.4 1.6-.5 1.7-.5 1.8-.5 1.8-.6 1.8-.6 1.9-.6 1.9-.7 1.9-.7 1.9-.8 2-.8 2-.9 2-.9 1.9-1 2-1 2-1.1 2-1.1 2-1.2 2-1.2 2-1.2 2-1.3 2-1.3 2-1.4 2-1.4 2-1.5 2-1.5 1.9-1.5 1.9-1.6 1.9-1.6 1.8-1.6 1.9-1.7 1.8-1.7 1.8-1.8 1.8-1.7 1.7-1.8 1.7-1.9 1.7-1.8 1.7-1.9 1.6-1.9 1.6-1.9 1.6-2 1.6-2.1 1.6-2.2 1.5-2.2 1.5-2.3 1.4-2.2 1.3-2.3 1.3-2.3 1.2-2.3 1.1-2.3 1.1-2.3 1-2.3 1-2.3 .9-2.2 .8-2.3 .8-2.2 .6-2.6 .4-2.5 .3-2.5 .2-2.4 .1-2.3 0-2.2-.1-2.1-.1-1.9-.1-1.9-.2-1.7-.3-1.6-.2-1.5-.3-1.3-.2-1.2-.2-1.1 .1-1 .3-1 .2-1 .3-.8 .4-.8 .3-.8 .4-.7 .5-.6 .5-.7 .6-.5 .6-.5 .7-.5 .7-.5 .8-.4 .9-.4 .9-.6 1-.6 1.1-.6 1.1-.6 1.1-.6 1.2-.6 1.2-.5 1.3-.6 1.2-.6 1.3-.6 1.4-.6 1.4-.7 1.4-.6 1.4-.6 1.5-.7M479.4 193.7l.8-1.1 .6-1.2 .2-1.4 .1-1.3-.3-1.4-.5-1.3-.8-1.2-.9-1-1.2-.9-1.2-.6-1.4-.4-1.4-.1-1.4 .2-1.3 .5-1.1 .7-1 .9-.8 1.1-.6 1.2-.3 1.3 0 1.4 .3 1.4 .5 1.3 .7 1.2 1 1 1.2 .9 1.2 .6 1.4 .4 1.4 0 1.4-.1 1.2-.5 1.2-.7zM477.6 192.1l.5-.8 .3-.8 .2-.8 0-1-.1-.9-.4-.8-.5-.8-.6-.7-.7-.5-.9-.4-.9-.3-.9 0-.9 .1-.8 .3-.8 .4-.7 .6-.5 .8-.3 .8-.2 .8 0 .9 .1 .9 .4 .9 .4 .8 .7 .7 .7 .5 .9 .4 .9 .3 .9 0 .9-.1 .8-.3 .8-.4zM624.4 48.9l.7-.9 .5-1.1 .2-1.1 0-1.2-.2-1.2-.4-1.1-.7-1-.8-.9-1-.7-1.1-.6-1.2-.3-1.1-.1-1.2 .2-1.1 .4-1 .6-.9 .8-.7 .9-.4 1.1-.3 1.1 0 1.2 .2 1.2 .4 1.1 .7 1 .8 .9 1 .8 1.1 .5 1.2 .3 1.2 .1 1.1-.2 1.2-.4 1-.6zM622.8 47.5l.5-.6 .3-.7 .1-.7 .1-.8-.2-.8-.3-.7-.4-.7-.5-.6-.7-.5-.7-.3-.8-.2-.8-.1-.7 .1-.8 .3-.6 .4-.6 .5-.4 .6-.4 .7-.1 .8 0 .7 .1 .8 .3 .7 .4 .7 .6 .6 .6 .5 .7 .3 .8 .2 .8 .1 .8-.1 .7-.3 .7-.4zM486.3 213.2l2.3-1.1 2.3-1.3 2.4-1.2 2.3-1.4 2.3-1.4 2.3-1.5 2.3-1.5 2.3-1.6 2.3-1.6 2.2-1.7 2.2-1.8 2.2-1.8 2.2-1.9 2.1-1.9 2.1-2 2.1-2.1 2.1-2.1 2-2.2 2-2.3 1.9-2.3 1.8-2.3 1.8-2.4 1.7-2.4 1.6-2.5 1.6-2.4 1.5-2.5 1.4-2.5 1.4-2.6 1.3-2.5 1.2-2.5 1.1-2.5 1.1-2.4 1.1-2.4 .9-2.4 .9-2.4 .9-2.4 .8-2.4 .7-2.4 .7-2.3 .7-2.3 .6-2.3 .5-2.3 .5-2.2 .4-2.2 .5-2.1 .4-2 .4-2.1 .3-2 .3-1.9 .3-1.9 .3-1.9 .3-1.8 .2-1.8 .2-1.7 .2-1.7 .2-1.6 .1-1.6 .2-1.5 .1-1.5 0-1.4-.1-1.4-.2-1.3-.1-1.2-.1-1.2-.2-1 0-1-.1-.9 0-.8 0-.7 .1-.7 .1-.6 .2-.5 .2-.5 .3-.4 .1 0 .1 .2 .3 .3 .5 .3 .6 .5 .8 .5 .9 .5 1.2 .6 1.3 .5 1.5 .6 1.6 .5 1.8 .4 2 .4 2.2 .3 2.2 .3 2.2-.2 2.1-.4 2.2-.4 2.2-.4 2.3-.6 2.3-.6 2.4-.7 2.4-.8 2.4-.9 2.5-.9 2.5-1.1 2.4-1.1 2.5-1.2 2.5-1.3 2.5-1.4 2.1-1.4 2.1-1.5 2.1-1.5 2.1-1.6 2.1-1.6 2-1.7 2.1-1.7 2-1.7 2-1.8 1.9-1.8 1.9-1.9 1.9-1.9 1.9-2 1.8-1.9 1.8-2M493.9 207.8l2-1.6 2-1.6 1.9-1.6 2-1.7 1.9-1.8 1.9-1.7 1.8-1.9 1.9-1.8 1.8-1.9 1.7-1.9 1.8-2 1.7-1.9 1.6-2 1.6-2.1 1.6-2 1.6-2.2 1.5-2.2 1.4-2.2 1.5-2.2 1.3-2.2 1.3-2.3 1.3-2.2 1.1-2.3 1.2-2.2 1.1-2.3 1-2.2 .9-2.3 1-2.2 .8-2.2 .9-2.2 .8-2.1 .7-2.1 .7-2 .7-2.1 .7-2 .6-2 .6-1.9 .6-1.9 .5-1.9 .5-1.9 .5-1.8 .4-1.8 .5-1.7 .4-1.7 .4-1.7 .4-1.6 .4-1.6 .4-1.5 .4-1.5 .4-1.4 .4-1.5 .4-1.4 .4-1.3 .4-1.3 .4-1.3 .4-1.2 .4-1.2 .4-1.2 .5-1.1 .3-1 .3-.9 .2-.9 .4-.9 .3-.8 .4-.7 .4-.7 .5-.6 .5-.6 .6-.6 .6-.5 .7-.5 .8-.4 .8-.5 .8-.4 .9-.1 .9 .1 1.1 .1 1.2 .1 1.3 .1 1.5 .1 1.6 .1 1.7 0 1.9-.1 1.9-.1 2.1-.2 2.2-.2 2.2-.4 2.3-.5 2.4-.5 2.3-.9 2.1-.9 2.1-1 2.2-1 2.1-1.1 2.2-1.2 2.1-1.3 2.2-1.3 2.2-1.4 2.1-1.4 2.1-1.6 2.1-1.5 2.1-1.7 2.1-1.7 2-1.8 1.9-1.7 1.7-1.7 1.7-1.8 1.7-1.7 1.7-1.9 1.7-1.8 1.6-1.8 1.6-1.9 1.6-1.9 1.5-1.9 1.5-2 1.4-1.9 1.5-2 1.4-2 1.3-2M488 199.8l1.6-1.3 1.6-1.3 1.7-1.3 1.6-1.3 1.6-1.4 1.6-1.3 1.6-1.4 1.6-1.4 1.5-1.5 1.6-1.4 1.6-1.5 1.5-1.5 1.6-1.6 1.5-1.5 1.5-1.6 1.5-1.6 1.5-1.6 1.5-1.6 1.5-1.7 1.4-1.7 1.5-1.7 1.4-1.7 1.3-1.7 1.4-1.8 1.3-1.7 1.3-1.8 1.3-1.8 1.2-1.7 1.2-1.8 1.2-1.8 1.2-1.7 1.1-1.7 1.1-1.8 1.1-1.7 1.1-1.7 1-1.8 1.1-1.7 1-1.7 1-1.7 .9-1.7 1-1.6 .9-1.7 .9-1.7 .9-1.6 .9-1.6 .9-1.6 .9-1.6 .8-1.6 .9-1.5 .8-1.6 .9-1.5 .8-1.5 .8-1.5 .8-1.4 .8-1.5 .8-1.4 .8-1.4 .8-1.4 .8-1.4 .7-1.4 .7-1.3 .6-1.3 .7-1.3 .7-1.3 .7-1.2 .7-1.2 .7-1.1 .7-1.1 .7-1.1 .8-1.1 .8-1 .7-1.1 .9-.9 .8-1 .8-.9 .8-.7 .8-.7 .9-.7 .9-.6 1.1-.7 1.1-.6 1.1-.6 1.2-.6 1.3-.6 1.4-.6 1.4-.7 1.5-.7 1.5-.7 1.6-.7 1.5-.9 1.6-.9 1.5-1 1.6-1 1.6-1 1.6-1.1 1.6-1.1 1.6-1.1 1.7-1.1 1.6-1.2 1.7-1.2 1.6-1.2 1.7-1.3 1.7-1.3 1.6-1.4 1.6-1.3 1.5-1.4 1.5-1.4 1.5-1.4 1.5-1.4 1.5-1.5 1.5-1.4 1.5-1.5 1.5-1.5 1.4-1.5 1.5-1.5 1.4-1.6 1.5-1.5 1.4-1.6 1.4-1.6M480.4 205.2l2-.9 1.9-.9 2-.9 2-1 2-1 2-1.1 2.1-1.1 2-1.1 2.1-1.2 2-1.3 2-1.3 2.1-1.3 2-1.4 2-1.4 2.1-1.5 2.1-1.5 2-1.6 2.1-1.7 2-1.7 2-1.7 2-1.8 1.9-1.9 1.9-1.9 1.8-1.9 1.9-2 1.7-2 1.8-2 1.6-2.1 1.7-2.1 1.5-2.1 1.5-2.1 1.5-2.1 1.4-2.1 1.4-2.1 1.3-2.1 1.3-2.1 1.2-2.2 1.2-2.1 1.2-2.2 1.1-2.1 1.1-2.2 1-2.1 1-2.1 .9-2.2 .9-2 .9-2.1 .8-2 .8-2 .8-2 .7-2 .7-2 .7-1.9 .7-1.9 .6-1.9 .6-1.9 .5-1.8 .6-1.8 .5-1.8 .5-1.7 .4-1.8 .3-1.8 .2-1.7 .2-1.7 .2-1.6 .2-1.5 .2-1.5 .2-1.4 .1-1.3 .2-1.3 .2-1.2 .2-1.2 .2-1 .3-1.1 .2-.9 .1-.9 0-.6 0-.5 .2-.4 .2-.3 .3-.2 .5-.1 .5-.1 .7 0 .8 0 1 .1 1.1 .1 1.2 .1 1.3 0 1.5 .1 1.5-.2 1.5-.4 1.6-.4 1.7-.4 1.7-.5 1.7-.5 1.9-.5 1.8-.6 2-.6 1.9-.7 2-.7 2-.8 2.1-.8 2.1-.9 2.1-1 1.8-1 1.9-1.2 1.9-1.1 1.9-1.2 1.9-1.3 1.9-1.3 1.9-1.3 1.9-1.3 1.9-1.4 1.9-1.4 1.8-1.5 1.9-1.5 1.8-1.5 1.9-1.6 1.8-1.5M492.6 211.3l.8-1.1 .5-1.2 .3-1.4 0-1.3-.2-1.4-.5-1.3-.8-1.2-1-1.1-1.1-.8-1.3-.6-1.4-.4-1.3-.1-1.4 .2-1.3 .5-1.2 .7-1 .9-.8 1.1-.5 1.2-.3 1.3 0 1.4 .2 1.4 .5 1.3 .8 1.2 1 1 1.1 .9 1.3 .6 1.3 .4 1.4 0 1.4-.1 1.3-.5 1.2-.7zM490.7 209.7l.5-.8 .4-.8 .2-.9 0-.9-.2-.9-.3-.8-.5-.8-.6-.7-.8-.5-.8-.4-.9-.3-.9 0-.9 .1-.9 .3-.8 .4-.6 .6-.5 .7-.4 .9-.2 .8 0 .9 .2 .9 .3 .9 .5 .8 .6 .7 .8 .5 .8 .4 .9 .3 .9 0 .9-.1 .9-.3 .8-.4zM642.9 48.3l.7-1 .4-1 .3-1.2 0-1.2-.2-1.1-.5-1.2-.6-1-.8-.9-1-.7-1.1-.5-1.2-.3-1.2-.1-1.2 .1-1.1 .4-1 .6-.8 .8-.7 .9-.5 1.1-.2 1.2-.1 1.1 .3 1.2 .4 1.1 .6 1.1 .9 .9 1 .7 1.1 .5 1.1 .3 1.2 .1 1.2-.1 1.1-.4 1-.6zM641.3 46.9l.4-.6 .3-.7 .2-.8 0-.8-.1-.8-.3-.7-.4-.7-.6-.6-.6-.4-.8-.4-.7-.2-.8 0-.8 .1-.7 .2-.7 .4-.5 .5-.5 .6-.3 .7-.2 .8 0 .8 .2 .8 .3 .7 .4 .7 .5 .6 .7 .4 .7 .4 .8 .2 .8 0 .7-.1 .8-.2 .6-.4zM511 195.5l1.3-2.4 1.2-2.5 1.1-2.5 1.1-2.5 1-2.4 1-2.5 .9-2.4 .8-2.5 .8-2.4 .7-2.4 .7-2.4 .6-2.3 .5-2.3 .6-2.3 .4-2.3 .3-2.3 .3-2.3 .2-2.2 .2-2.1 .2-2.1 .1-2 0-2 .1-1.9 0-1.9 0-1.7-.1-1.7 0-1.7-.1-1.5-.1-1.5 0-1.5 0-1.3 .1-1.3 0-1.2 .1-1.2 .1-1.1 .1-1.1 .1-1 .1-.9 .2-.9 .2-.8 .2-.8 .2-.8 .3-.7 .4-.6 .4-.6 .4-.6 .5-.6 .5-.5 .6-.5 .6-.5 .7-.4 .7-.5 .8-.4 .8-.3 .8-.4 .9-.3 1-.4 1-.3 1-.3 1.1-.2 1.2 0 1.2 0 1.3 0 1.5 0 1.5 0 1.5 0 1.7-.1 1.7-.1 1.8-.2 1.9-.2 2-.2 2-.3 2.1-.3 2.1-.4 2.5-.2 2.7-.2 2.9-.4 2.9-.5 2.9-.6 3.1-.9 3-1 3.1-1.2 3-1.3 3-1.6 3-1.7 2.9-1.8 2.9-2.1 2.7-2.2 2.7-2.3 2.2-2.3 2.1-2.2 2.1-2.2 1.9-2.4 1.9-2.4 1.8-2.4 1.7-2.5 1.7-2.5 1.5-2.5 1.5-2.6 1.4-2.6 1.3-2.6 1.2-2.6 1.1-2.6 1-2.6 1-2.3 1-2.3 .9-2.3 .9-2.2 .8-2.2 .7-2.2 .8-2.2 .7-2.2 .6-2.1 .6-2.1 .6-2.1 .5-2.1 .5-2 .5-2 .4-2M505 187.7l.9-2.2 .8-2.1 .8-2.1 .7-2.1 .7-2.1 .7-2.1 .6-2 .6-2 .6-2 .5-1.9 .5-1.9 .5-1.9 .4-1.8 .4-1.8 .4-1.8 .3-1.7 .3-1.7 .3-1.7 .2-1.6 .2-1.5 .3-1.5 .2-1.5 .2-1.3 .2-1.4 .2-1.2 .3-1.2 .2-1.2 .3-1.1 .3-1.1 .3-1 .4-1 .4-.9 .4-.9 .5-.9 .5-.9 .6-.8 .5-.7 .6-.8 .6-.7 .7-.6 .7-.7 .7-.6 .8-.6 .8-.6 .9-.6 .9-.6 .9-.6 1-.5 1-.6 1.1-.5 1.1-.6 1.1-.5 1.2-.6 1.2-.5 1.3-.6 1.3-.5 1.3-.6 1.4-.5 1.4-.6 1.4-.5 1.6-.3 1.6-.5 1.7-.4 1.8-.5 1.7-.5 1.9-.5 1.9-.6 1.9-.7 2-.6 2-.8 2-.8 2-.8 2.1-.9 2.1-1 2.4-.9 2.5-1 2.6-1.2 2.6-1.2 2.6-1.5 2.6-1.5 2.5-1.7 2.5-1.8 2.4-1.9 2.3-2 2.3-2.2 2.2-2.2 2-2.4 2-2.4 1.8-2.5 1.7-2.3 1.5-2.3 1.5-2.2 1.4-2.3 1.3-2.3 1.2-2.3 1.2-2.3 1.1-2.3 1.1-2.3 1-2.3 .9-2.3 .8-2.2 .8-2.3 .7-2.2 .7-2.2 .8-2 .7-1.9 .7-1.9 .7-1.9 .6-1.8 .6-1.8 .6-1.8 .6-1.8 .6-1.7 .5-1.7 .5-1.7 .6-1.6 .5-1.7 .4-1.5 .5-1.6M497.4 193.1l1.2-1.8 1.2-1.7 1.1-1.8 1.1-1.7 1.2-1.8 1-1.7 1.1-1.8 1-1.7 1.1-1.7 1-1.8 .9-1.7 1-1.7 .9-1.7 1-1.6 .9-1.7 .8-1.7 .9-1.7 .8-1.6 .8-1.6 .7-1.7 .8-1.5 .8-1.6 .7-1.5 .7-1.6 .8-1.4 .7-1.5 .7-1.4 .7-1.4 .7-1.4 .7-1.4 .7-1.3 .8-1.3 .7-1.3 .8-1.3 .7-1.2 .8-1.2 .8-1.2 .8-1.2 .8-1.1 .8-1.2 .8-1.1 .8-1.1 .8-1.1 .9-1 .9-1.1 .9-1 .9-1 .9-1.1 .9-1 1-1 1-1 1-.9 1-1 1-1 1.1-.9 1-1 1.1-.9 1.1-1 1.2-.9 1.1-.9 1.2-.8 1.2-.8 1.2-.8 1.2-.8 1.3-.9 1.4-.8 1.3-.9 1.4-.8 1.4-.9 1.4-.9 1.5-.9 1.5-.9 1.5-.9 1.5-1 1.7-.9 1.8-.9 1.8-1 1.8-1 1.8-1 1.9-1.2 1.9-1.2 1.9-1.2 1.8-1.4 1.9-1.4 1.8-1.4 1.9-1.6 1.8-1.5 1.7-1.7 1.8-1.7 1.6-1.6 1.5-1.7 1.5-1.7 1.4-1.7 1.5-1.7 1.4-1.7 1.4-1.8 1.3-1.7 1.3-1.8 1.3-1.8 1.3-1.8 1.2-1.8 1.2-1.8 1.1-1.8 1.1-1.8 1.1-1.7 1.1-1.7 1.1-1.6 1-1.7 1.1-1.7 1-1.6 1-1.7 1-1.6 1-1.6 .9-1.6 1-1.6 .9-1.6 .9-1.6 .9-1.6 .9-1.5M503.4 200.9l1.6-2 1.6-2.1 1.5-2.1 1.4-2.2 1.4-2.1 1.4-2.1 1.4-2.2 1.2-2.2 1.3-2.2 1.2-2.1 1.1-2.2 1.1-2.2 1.1-2.2 1-2.1 .9-2.2 .9-2.3 .9-2.2 .8-2.2 .7-2.2 .7-2.1 .6-2.2 .6-2.1 .6-2 .5-2.1 .5-1.9 .4-2 .4-1.9 .4-1.9 .3-1.8 .4-1.7 .4-1.7 .3-1.7 .4-1.6 .3-1.5 .4-1.5 .3-1.5 .3-1.4 .4-1.4 .3-1.4 .3-1.3 .4-1.2 .3-1.2 .4-1.2 .3-1.1 .4-1.1 .5-1 .4-1.1 .5-1 .5-.9 .5-.9 .6-.9 .5-.9 .6-.8 .7-.8 .6-.8 .7-.7 .7-.7 .7-.7 .8-.7 .8-.6 .7-.4 .8-.4 .9-.4 .9-.3 1-.4 1.1-.3 1.1-.4 1.2-.3 1.3-.3 1.3-.4 1.4-.3 1.4-.4 1.5-.3 1.6-.4 1.8-.2 2-.1 2-.2 2.1-.2 2.3-.3 2.3-.4 2.4-.6 2.5-.6 2.5-.8 2.5-.9 2.6-1 2.5-1.2 2.6-1.3 2.6-1.4 2.5-1.5 2.2-1.6 2.1-1.6 2-1.7 2.1-1.8 2-1.8 2-1.8 1.9-2 1.8-1.9 1.9-2.1 1.7-2 1.8-2.1 1.6-2.2 1.6-2.2 1.6-2.2 1.4-2.2 1.4-2 1.3-2 1.3-2 1.2-2.1 1.2-2 1.2-2 1.1-2.1 1.1-2 1.1-2 1-2.1 1-2 .9-2 1-2 .9-2 .8-1.9M509.6 199.1l.8-1.1 .6-1.2 .2-1.4 .1-1.3-.3-1.4-.5-1.3-.8-1.2-.9-1-1.2-.9-1.2-.6-1.4-.4-1.4 0-1.4 .1-1.3 .5-1.1 .7-1 .9-.8 1.1-.6 1.2-.2 1.4-.1 1.3 .3 1.4 .5 1.3 .8 1.2 .9 1 1.2 .9 1.2 .6 1.4 .4 1.4 0 1.4-.1 1.3-.5 1.1-.7zM507.8 197.5l.5-.8 .3-.8 .2-.8 0-1-.1-.9-.4-.8-.5-.8-.6-.7-.7-.5-.9-.4-.9-.3-.9 0-.9 .1-.8 .3-.8 .4-.7 .6-.5 .8-.3 .8-.2 .8 0 1 .1 .9 .4 .8 .5 .8 .6 .7 .7 .5 .9 .4 .9 .3 .9 0 .9-.1 .8-.3 .8-.4zM641.3 29.9l.7-1 .4-1 .3-1.2 0-1.2-.2-1.1-.5-1.2-.6-1-.8-.9-1-.7-1.1-.5-1.2-.3-1.2-.1-1.2 .1-1.1 .4-1 .6-.8 .8-.7 .9-.5 1.1-.2 1.2-.1 1.1 .3 1.2 .4 1.1 .6 1.1 .9 .9 1 .7 1.1 .5 1.1 .3 1.2 .1 1.2-.1 1.1-.4 1-.6zM639.7 28.5l.4-.6 .3-.8 .2-.7 0-.8-.1-.8-.3-.7-.4-.7-.6-.6-.6-.4-.8-.4-.7-.2-.8 0-.8 .1-.7 .2-.7 .4-.5 .5-.5 .6-.3 .7-.2 .8 0 .8 .2 .8 .3 .7 .4 .7 .5 .6 .7 .4 .7 .4 .8 .2 .7 0 .8-.1 .8-.2 .6-.4z" stroke="#000" stroke-width="0.55"/><path d="M495.9 177.5l.2-1.6 0-1.6-.1-1.5-.3-1.5-.3-1.3-.6-1.3-.6-1.1-.6-.9" stroke="#2e143e" stroke-width="3.2"/><path d="M495.9 177.5l.2-1.6 0-1.6-.1-1.5-.3-1.5-.3-1.3-.6-1.3-.6-1.1-.6-.9" stroke="#582576" stroke-width="2.4"/><path d="M495.9 177.5l.2-1.6 0-1.6-.1-1.5-.3-1.5-.3-1.3-.6-1.3-.6-1.1-.6-.9" stroke="#b68fcd" stroke-width="0.6"/><path d="M491.7 172l-.7-.8-.7-.6-.7-.4-.6-.3-.5-.1-.4 0-.2 .1-.1 .2" stroke="#2e143e" stroke-width="3.2"/><path d="M491.7 172l-.7-.8-.7-.6-.7-.4-.6-.3-.5-.1-.4 0-.2 .1-.1 .2" stroke="#6e2e93" stroke-width="2.4"/><path d="M491.7 172l-.7-.8-.7-.6-.7-.4-.6-.3-.5-.1-.4 0-.2 .1-.1 .2" stroke="#b68fcd" stroke-width="0.6"/><path d="M490.4 181.4l1.1-.6 1.1-.8 1-1 .9-1.1 .9-1.2 .7-1.3 .6-1.4 .5-1.4" stroke="#2e143e" stroke-width="3.2"/><path d="M490.4 181.4l1.1-.6 1.1-.8 1-1 .9-1.1 .9-1.2 .7-1.3 .6-1.4 .5-1.4" stroke="#692c8d" stroke-width="2.4"/><path d="M490.4 181.4l1.1-.6 1.1-.8 1-1 .9-1.1 .9-1.2 .7-1.3 .6-1.4 .5-1.4" stroke="#b68fcd" stroke-width="0.6"/><path d="M486.2 175.9l.2 .2 .3 .2 .5 .1 .6 .1 .8 0 .8-.1 1-.2 1-.3" stroke="#2e143e" stroke-width="3.2"/><path d="M486.2 175.9l.2 .2 .3 .2 .5 .1 .6 .1 .8 0 .8-.1 1-.2 1-.3" stroke="#5f2880" stroke-width="2.4"/><path d="M486.2 175.9l.2 .2 .3 .2 .5 .1 .6 .1 .8 0 .8-.1 1-.2 1-.3" stroke="#b68fcd" stroke-width="0.6"/><path d="M497.2 172.6l.3-1.5 .1-1.5 0-1.5-.1-1.4-.3-1.3-.5-1.2-.5-1.1-.6-1" stroke="#38153c" stroke-width="3.2"/><path d="M497.2 172.6l.3-1.5 .1-1.5 0-1.5-.1-1.4-.3-1.3-.5-1.2-.5-1.1-.6-1" stroke="#7f3189" stroke-width="2.4"/><path d="M497.2 172.6l.3-1.5 .1-1.5 0-1.5-.1-1.4-.3-1.3-.5-1.2-.5-1.1-.6-1" stroke="#c492ca" stroke-width="0.6"/><path d="M493.6 166.7l-.7-.8-.7-.6-.7-.4-.6-.3-.5-.1-.5 0-.3 .2-.1 .2" stroke="#38153c" stroke-width="3.2"/><path d="M493.6 166.7l-.7-.8-.7-.6-.7-.4-.6-.3-.5-.1-.5 0-.3 .2-.1 .2" stroke="#6a2972" stroke-width="2.4"/><path d="M493.6 166.7l-.7-.8-.7-.6-.7-.4-.6-.3-.5-.1-.5 0-.3 .2-.1 .2" stroke="#c492ca" stroke-width="0.6"/><path d="M491.4 175.9l1.1-.5 1.1-.6 1-.8 1-.9 .9-1.1 .8-1.1 .7-1.3 .6-1.3" stroke="#38153c" stroke-width="3.2"/><path d="M491.4 175.9l1.1-.5 1.1-.6 1-.8 1-.9 .9-1.1 .8-1.1 .7-1.3 .6-1.3" stroke="#732c7c" stroke-width="2.4"/><path d="M491.4 175.9l1.1-.5 1.1-.6 1-.8 1-.9 .9-1.1 .8-1.1 .7-1.3 .6-1.3" stroke="#c492ca" stroke-width="0.6"/><path d="M487.8 170.1l.1 .2 .2 .3 .4 .2 .5 .2 .7 .2 .9 0 .9 0 1-.2" stroke="#38153c" stroke-width="3.2"/><path d="M487.8 170.1l.1 .2 .2 .3 .4 .2 .5 .2 .7 .2 .9 0 .9 0 1-.2" stroke="#85338f" stroke-width="2.4"/><path d="M487.8 170.1l.1 .2 .2 .3 .4 .2 .5 .2 .7 .2 .9 0 .9 0 1-.2" stroke="#c492ca" stroke-width="0.6"/><path d="M498.6 168.3l.4-1.4 .3-1.4 0-1.4 0-1.4-.2-1.3-.4-1.1-.4-1.1-.5-1" stroke="#411836" stroke-width="3.2"/><path d="M498.6 168.3l.4-1.4 .3-1.4 0-1.4 0-1.4-.2-1.3-.4-1.1-.4-1.1-.5-1" stroke="#86316f" stroke-width="2.4"/><path d="M498.6 168.3l.4-1.4 .3-1.4 0-1.4 0-1.4-.2-1.3-.4-1.1-.4-1.1-.5-1" stroke="#d195c1" stroke-width="0.6"/><path d="M495.6 162.1l-.7-.7-.6-.7-.7-.4-.6-.3-.6-.1-.4 0-.4 .2-.1 .3" stroke="#411836" stroke-width="3.2"/><path d="M495.6 162.1l-.7-.7-.6-.7-.7-.4-.6-.3-.6-.1-.4 0-.4 .2-.1 .3" stroke="#94367b" stroke-width="2.4"/><path d="M495.6 162.1l-.7-.7-.6-.7-.7-.4-.6-.3-.6-.1-.4 0-.4 .2-.1 .3" stroke="#d195c1" stroke-width="0.6"/><path d="M492.5 171l1.1-.3 1.1-.5 1-.6 1.1-.7 1-.9 .9-1 .8-1.2 .7-1.2" stroke="#411836" stroke-width="3.2"/><path d="M492.5 171l1.1-.3 1.1-.5 1-.6 1.1-.7 1-.9 .9-1 .8-1.2 .7-1.2" stroke="#9b3980" stroke-width="2.4"/><path d="M492.5 171l1.1-.3 1.1-.5 1-.6 1.1-.7 1-.9 .9-1 .8-1.2 .7-1.2" stroke="#d195c1" stroke-width="0.6"/><path d="M489.5 164.9l0 .3 .2 .3 .3 .4 .5 .3 .6 .3 .8 .2 .9 .1 1-.1" stroke="#411836" stroke-width="3.2"/><path d="M489.5 164.9l0 .3 .2 .3 .3 .4 .5 .3 .6 .3 .8 .2 .9 .1 1-.1" stroke="#7c2d67" stroke-width="2.4"/><path d="M489.5 164.9l0 .3 .2 .3 .3 .4 .5 .3 .6 .3 .8 .2 .9 .1 1-.1" stroke="#d195c1" stroke-width="0.6"/><path d="M500.2 164.6l.5-1.3 .4-1.3 .2-1.3 .1-1.3-.1-1.3-.2-1.1-.4-1-.4-.9" stroke="#4a1c2f" stroke-width="3.2"/><path d="M500.2 164.6l.5-1.3 .4-1.3 .2-1.3 .1-1.3-.1-1.3-.2-1.1-.4-1-.4-.9" stroke="#ae4270" stroke-width="2.4"/><path d="M500.2 164.6l.5-1.3 .4-1.3 .2-1.3 .1-1.3-.1-1.3-.2-1.1-.4-1-.4-.9" stroke="#dd9bb7" stroke-width="0.6"/><path d="M497.8 158.2l-.6-.7-.6-.7-.6-.4-.6-.3-.6-.1-.4 0-.4 .2-.2 .2" stroke="#4a1c2f" stroke-width="3.2"/><path d="M497.8 158.2l-.6-.7-.6-.7-.6-.4-.6-.3-.6-.1-.4 0-.4 .2-.2 .2" stroke="#973961" stroke-width="2.4"/><path d="M497.8 158.2l-.6-.7-.6-.7-.6-.4-.6-.3-.6-.1-.4 0-.4 .2-.2 .2" stroke="#dd9bb7" stroke-width="0.6"/><path d="M493.8 166.7l1.1-.1 1.1-.3 1.1-.5 1.2-.6 1-.7 1-.9 .9-.9 .7-1.1" stroke="#4a1c2f" stroke-width="3.2"/><path d="M493.8 166.7l1.1-.1 1.1-.3 1.1-.5 1.2-.6 1-.7 1-.9 .9-.9 .7-1.1" stroke="#8b355a" stroke-width="2.4"/><path d="M493.8 166.7l1.1-.1 1.1-.3 1.1-.5 1.2-.6 1-.7 1-.9 .9-.9 .7-1.1" stroke="#dd9bb7" stroke-width="0.6"/><path d="M491.5 160.4l-.1 .3 .1 .4 .3 .4 .5 .4 .6 .4 .7 .3 .9 .3 .9 .1" stroke="#4a1c2f" stroke-width="3.2"/><path d="M491.5 160.4l-.1 .3 .1 .4 .3 .4 .5 .4 .6 .4 .7 .3 .9 .3 .9 .1" stroke="#a63f6b" stroke-width="2.4"/><path d="M491.5 160.4l-.1 .3 .1 .4 .3 .4 .5 .4 .6 .4 .7 .3 .9 .3 .9 .1" stroke="#dd9bb7" stroke-width="0.6"/><path d="M500.3 155.1l-.5-.8-.4-.6-.5-.5-.5-.3-.4-.3-.4-.1-.3 0-.2 0" stroke="#4f1f2b" stroke-width="3.2"/><path d="M500.3 155.1l-.5-.8-.4-.6-.5-.5-.5-.3-.4-.3-.4-.1-.3 0-.2 0" stroke="#ba4965" stroke-width="2.4"/><path d="M500.3 155.1l-.5-.8-.4-.6-.5-.5-.5-.3-.4-.3-.4-.1-.3 0-.2 0" stroke="#e4a0b1" stroke-width="0.6"/><path d="M501.9 161.6l.6-1.1 .5-1.1 .4-1.1 .3-1.1 .2-1 .1-1.1 0-.9-.1-.9" stroke="#4f1f2b" stroke-width="3.2"/><path d="M501.9 161.6l.6-1.1 .5-1.1 .4-1.1 .3-1.1 .2-1 .1-1.1 0-.9-.1-.9" stroke="#953b51" stroke-width="2.4"/><path d="M501.9 161.6l.6-1.1 .5-1.1 .4-1.1 .3-1.1 .2-1 .1-1.1 0-.9-.1-.9" stroke="#e4a0b1" stroke-width="0.6"/><path d="M493.8 156.4l-.1 .4 0 .4 .2 .4 .4 .4 .4 .4 .5 .3 .7 .3 .7 .3" stroke="#4f1f2b" stroke-width="3.2"/><path d="M493.8 156.4l-.1 .4 0 .4 .2 .4 .4 .4 .4 .4 .5 .3 .7 .3 .7 .3" stroke="#a13f58" stroke-width="2.4"/><path d="M493.8 156.4l-.1 .4 0 .4 .2 .4 .4 .4 .4 .4 .5 .3 .7 .3 .7 .3" stroke="#e4a0b1" stroke-width="0.6"/><path d="M495.4 163l1 0 1-.1 1.1-.3 1-.3 1-.4 1-.6 1-.6 .9-.7" stroke="#4f1f2b" stroke-width="3.2"/><path d="M495.4 163l1 0 1-.1 1.1-.3 1-.3 1-.4 1-.6 1-.6 .9-.7" stroke="#b24661" stroke-width="2.4"/><path d="M495.4 163l1 0 1-.1 1.1-.3 1-.3 1-.4 1-.6 1-.6 .9-.7" stroke="#e4a0b1" stroke-width="0.6"/><path d="M503.9 153.3l-.1-.8-.2-.7-.1-.7-.2-.5-.2-.5-.1-.4-.2-.3-.1-.3" stroke="#522226" stroke-width="3.2"/><path d="M503.9 153.3l-.1-.8-.2-.7-.1-.7-.2-.5-.2-.5-.1-.4-.2-.3-.1-.3" stroke="#9c4048" stroke-width="2.4"/><path d="M503.9 153.3l-.1-.8-.2-.7-.1-.7-.2-.5-.2-.5-.1-.4-.2-.3-.1-.3" stroke="#eaa4aa" stroke-width="0.6"/><path d="M503.4 160l.8-.7 .8-.8 .7-.8 .6-.8 .6-.9 .5-.8 .4-.8 .4-.8" stroke="#522226" stroke-width="3.2"/><path d="M503.4 160l.8-.7 .8-.8 .7-.8 .6-.8 .6-.9 .5-.8 .4-.8 .4-.8" stroke="#bb4d56" stroke-width="2.4"/><path d="M503.4 160l.8-.7 .8-.8 .7-.8 .6-.8 .6-.9 .5-.8 .4-.8 .4-.8" stroke="#eaa4aa" stroke-width="0.6"/><path d="M497.1 152.5l-.1 .2-.1 .1 0 .3 .2 .2 .2 .3 .3 .3 .3 .3 .5 .3" stroke="#522226" stroke-width="3.2"/><path d="M497.1 152.5l-.1 .2-.1 .1 0 .3 .2 .2 .2 .3 .3 .3 .3 .3 .5 .3" stroke="#c3505a" stroke-width="2.4"/><path d="M497.1 152.5l-.1 .2-.1 .1 0 .3 .2 .2 .2 .3 .3 .3 .3 .3 .5 .3" stroke="#eaa4aa" stroke-width="0.6"/><path d="M496.6 159.3l.8 .2 .8 .1 .9 .1 1-.1 .9 0 1-.2 1-.2 .9-.3" stroke="#522226" stroke-width="3.2"/><path d="M496.6 159.3l.8 .2 .8 .1 .9 .1 1-.1 .9 0 1-.2 1-.2 .9-.3" stroke="#a9454e" stroke-width="2.4"/><path d="M496.6 159.3l.8 .2 .8 .1 .9 .1 1-.1 .9 0 1-.2 1-.2 .9-.3" stroke="#eaa4aa" stroke-width="0.6"/><path d="M508.2 153.6l.4-.8 .3-.8 .3-.8 .2-.7 .2-.7 .1-.7 .1-.6 .1-.6" stroke="#562422" stroke-width="3.2"/><path d="M508.2 153.6l.4-.8 .3-.8 .3-.8 .2-.7 .2-.7 .1-.7 .1-.6 .1-.6" stroke="#c2524c" stroke-width="2.4"/><path d="M508.2 153.6l.4-.8 .3-.8 .3-.8 .2-.7 .2-.7 .1-.7 .1-.6 .1-.6" stroke="#efa7a4" stroke-width="0.6"/><path d="M503.9 158.9l1-.3 .9-.3 1-.5 1-.4 .9-.6 .9-.5 .9-.6 .9-.7" stroke="#562422" stroke-width="3.2"/><path d="M503.9 158.9l1-.3 .9-.3 1-.5 1-.4 .9-.6 .9-.5 .9-.6 .9-.7" stroke="#b04b45" stroke-width="2.4"/><path d="M503.9 158.9l1-.3 .9-.3 1-.5 1-.4 .9-.6 .9-.5 .9-.6 .9-.7" stroke="#efa7a4" stroke-width="0.6"/><path d="M502.7 149.1l-.1-.2-.1-.2 0-.1 0 .1 .1 .1 .1 .1 .2 .2" stroke="#562422" stroke-width="3.2"/><path d="M502.7 149.1l-.1-.2-.1-.2 0-.1 0 .1 .1 .1 .1 .1 .2 .2" stroke="#a24540" stroke-width="2.4"/><path d="M502.7 149.1l-.1-.2-.1-.2 0-.1 0 .1 .1 .1 .1 .1 .2 .2" stroke="#efa7a4" stroke-width="0.6"/><path d="M498.4 154.5l.5 .2 .6 .3 .6 .2 .8 .3 .7 .2 .9 .2 .9 .2 .9 .1" stroke="#562422" stroke-width="3.2"/><path d="M498.4 154.5l.5 .2 .6 .3 .6 .2 .8 .3 .7 .2 .9 .2 .9 .2 .9 .1" stroke="#cb5650" stroke-width="2.4"/><path d="M498.4 154.5l.5 .2 .6 .3 .6 .2 .8 .3 .7 .2 .9 .2 .9 .2 .9 .1" stroke="#efa7a4" stroke-width="0.6"/><path d="M511.4 155l.8-.7 .8-.7 .7-.7 .7-.8 .7-.8 .6-.8 .5-.9 .5-.8" stroke="#58281e" stroke-width="3.2"/><path d="M511.4 155l.8-.7 .8-.7 .7-.7 .7-.8 .7-.8 .6-.8 .5-.9 .5-.8" stroke="#b4533d" stroke-width="2.4"/><path d="M511.4 155l.8-.7 .8-.7 .7-.7 .7-.8 .7-.8 .6-.8 .5-.9 .5-.8" stroke="#f2ad9e" stroke-width="0.6"/><path d="M509.9 147.9l.1-.5 0-.5 .1-.5 0-.4 .1-.3 0-.3 .1-.3 .1-.2" stroke="#58281e" stroke-width="3.2"/><path d="M509.9 147.9l.1-.5 0-.5 .1-.5 0-.4 .1-.3 0-.3 .1-.3 .1-.2" stroke="#c65c43" stroke-width="2.4"/><path d="M509.9 147.9l.1-.5 0-.5 .1-.5 0-.4 .1-.3 0-.3 .1-.3 .1-.2" stroke="#f2ad9e" stroke-width="0.6"/><path d="M504.3 156.2l1 .1 1.1 0 1 0 1.1-.1 1.2-.2 1.1-.2 1.1-.3 1.2-.4" stroke="#58281e" stroke-width="3.2"/><path d="M504.3 156.2l1 .1 1.1 0 1 0 1.1-.1 1.2-.2 1.1-.2 1.1-.3 1.2-.4" stroke="#d06047" stroke-width="2.4"/><path d="M504.3 156.2l1 .1 1.1 0 1 0 1.1-.1 1.2-.2 1.1-.2 1.1-.3 1.2-.4" stroke="#f2ad9e" stroke-width="0.6"/><path d="M502.9 149.1l.2 .2 .3 .3 .4 .2 .5 .3 .5 .3 .5 .3 .7 .2 .7 .3" stroke="#58281e" stroke-width="3.2"/><path d="M502.9 149.1l.2 .2 .3 .3 .4 .2 .5 .3 .5 .3 .5 .3 .7 .2 .7 .3" stroke="#a64d38" stroke-width="2.4"/><path d="M502.9 149.1l.2 .2 .3 .3 .4 .2 .5 .3 .5 .3 .5 .3 .7 .2 .7 .3" stroke="#f2ad9e" stroke-width="0.6"/><path d="M516.7 148.8l.5-.8 .4-.8 .4-.7 .3-.8 .3-.7 .3-.7 .2-.6 .3-.6" stroke="#5a2d1a" stroke-width="3.2"/><path d="M516.7 148.8l.5-.8 .4-.8 .4-.7 .3-.8 .3-.7 .3-.7 .2-.6 .3-.6" stroke="#b85c35" stroke-width="2.4"/><path d="M516.7 148.8l.5-.8 .4-.8 .4-.7 .3-.8 .3-.7 .3-.7 .2-.6 .3-.6" stroke="#f4b498" stroke-width="0.6"/><path d="M513.1 155.1l1.1-.4 1.2-.5 1.1-.5 1.1-.6 1.1-.6 1-.6 1.1-.8 .9-.7" stroke="#5a2d1a" stroke-width="3.2"/><path d="M513.1 155.1l1.1-.4 1.2-.5 1.1-.5 1.1-.6 1.1-.6 1-.6 1.1-.8 .9-.7" stroke="#d46a3d" stroke-width="2.4"/><path d="M513.1 155.1l1.1-.4 1.2-.5 1.1-.5 1.1-.6 1.1-.6 1-.6 1.1-.8 .9-.7" stroke="#f4b498" stroke-width="0.6"/><path d="M510.4 144.9l0-.1 .2-.1 .1 0 .2 0 .3 .1 .3 .1 .3 .1 .4 .2" stroke="#5a2d1a" stroke-width="3.2"/><path d="M510.4 144.9l0-.1 .2-.1 .1 0 .2 0 .3 .1 .3 .1 .3 .1 .4 .2" stroke="#cb653b" stroke-width="2.4"/><path d="M510.4 144.9l0-.1 .2-.1 .1 0 .2 0 .3 .1 .3 .1 .3 .1 .4 .2" stroke="#f4b498" stroke-width="0.6"/><path d="M506.7 151.2l.8 .3 .8 .2 .9 .2 1 .2 1 .2 1.1 .1 1.1 .1 1.2 0" stroke="#5a2d1a" stroke-width="3.2"/><path d="M506.7 151.2l.8 .3 .8 .2 .9 .2 1 .2 1 .2 1.1 .1 1.1 .1 1.2 0" stroke="#aa5531" stroke-width="2.4"/><path d="M506.7 151.2l.8 .3 .8 .2 .9 .2 1 .2 1 .2 1.1 .1 1.1 .1 1.2 0" stroke="#f4b498" stroke-width="0.6"/><path d="M521.7 150.4l1-.8 .8-.8 .9-.9 .7-.8 .8-.9 .6-.8 .7-.9 .6-.8" stroke="#5b3117" stroke-width="3.2"/><path d="M521.7 150.4l1-.8 .8-.8 .9-.9 .7-.8 .8-.9 .6-.8 .7-.9 .6-.8" stroke="#d77537" stroke-width="2.4"/><path d="M521.7 150.4l1-.8 .8-.8 .9-.9 .7-.8 .8-.9 .6-.8 .7-.9 .6-.8" stroke="#f6ba94" stroke-width="0.6"/><path d="M519.4 143.1l.1-.5 .2-.5 .2-.4 .2-.4 .2-.3 .1-.3 .3-.2 .2-.1" stroke="#5b3117" stroke-width="3.2"/><path d="M519.4 143.1l.1-.5 .2-.5 .2-.4 .2-.4 .2-.3 .1-.3 .3-.2 .2-.1" stroke="#ba6530" stroke-width="2.4"/><path d="M519.4 143.1l.1-.5 .2-.5 .2-.4 .2-.4 .2-.3 .1-.3 .3-.2 .2-.1" stroke="#f6ba94" stroke-width="0.6"/><path d="M514.6 152.5l1.2-.1 1.3-.1 1.2-.1 1.3-.2 1.3-.3 1.3-.4 1.3-.4 1.3-.5" stroke="#5b3117" stroke-width="3.2"/><path d="M514.6 152.5l1.2-.1 1.3-.1 1.2-.1 1.3-.2 1.3-.3 1.3-.4 1.3-.4 1.3-.5" stroke="#ac5d2c" stroke-width="2.4"/><path d="M514.6 152.5l1.2-.1 1.3-.1 1.2-.1 1.3-.2 1.3-.3 1.3-.4 1.3-.4 1.3-.5" stroke="#f6ba94" stroke-width="0.6"/><path d="M512.2 145.2l.5 .2 .6 .3 .6 .2 .6 .3 .8 .2 .8 .3 .9 .2 .9 .3" stroke="#5b3117" stroke-width="3.2"/><path d="M512.2 145.2l.5 .2 .6 .3 .6 .2 .6 .3 .8 .2 .8 .3 .9 .2 .9 .3" stroke="#cd7035" stroke-width="2.4"/><path d="M512.2 145.2l.5 .2 .6 .3 .6 .2 .6 .3 .8 .2 .8 .3 .9 .2 .9 .3" stroke="#f6ba94" stroke-width="0.6"/><path d="M527.8 143.7l.5-.9 .5-.8 .4-.8 .5-.7 .3-.8 .4-.6 .3-.7 .4-.6" stroke="#5c3814" stroke-width="3.2"/><path d="M527.8 143.7l.5-.9 .5-.8 .4-.8 .5-.7 .3-.8 .4-.6 .3-.7 .4-.6" stroke="#da8430" stroke-width="2.4"/><path d="M527.8 143.7l.5-.9 .5-.8 .4-.8 .5-.7 .3-.8 .4-.6 .3-.7 .4-.6" stroke="#f8c490" stroke-width="0.6"/><path d="M524.8 150.4l1.3-.5 1.2-.6 1.3-.6 1.2-.7 1.1-.8 1.1-.8 1.1-.8 1.1-.8" stroke="#5c3814" stroke-width="3.2"/><path d="M524.8 150.4l1.3-.5 1.2-.6 1.3-.6 1.2-.7 1.1-.8 1.1-.8 1.1-.8 1.1-.8" stroke="#ae6a26" stroke-width="2.4"/><path d="M524.8 150.4l1.3-.5 1.2-.6 1.3-.6 1.2-.7 1.1-.8 1.1-.8 1.1-.8 1.1-.8" stroke="#f8c490" stroke-width="0.6"/><path d="M520.9 140.4l.3-.1 .3-.1 .3 0 .4 0 .5 .1 .5 .1 .5 .1 .6 .2" stroke="#5c3814" stroke-width="3.2"/><path d="M520.9 140.4l.3-.1 .3-.1 .3 0 .4 0 .5 .1 .5 .1 .5 .1 .6 .2" stroke="#bd7329" stroke-width="2.4"/><path d="M520.9 140.4l.3-.1 .3-.1 .3 0 .4 0 .5 .1 .5 .1 .5 .1 .6 .2" stroke="#f8c490" stroke-width="0.6"/><path d="M517.9 147.2l1.1 .2 1 .1 1.1 .2 1.2 0 1.2 .1 1.3 0 1.3-.1 1.4-.1" stroke="#5c3814" stroke-width="3.2"/><path d="M517.9 147.2l1.1 .2 1 .1 1.1 .2 1.2 0 1.2 .1 1.3 0 1.3-.1 1.4-.1" stroke="#d07f2e" stroke-width="2.4"/><path d="M517.9 147.2l1.1 .2 1 .1 1.1 .2 1.2 0 1.2 .1 1.3 0 1.3-.1 1.4-.1" stroke="#f8c490" stroke-width="0.6"/><path d="M534.2 144.8l1-.9 .9-.9 .9-1 .8-.9 .8-1 .7-.9 .7-1 .6-.9" stroke="#5d4013" stroke-width="3.2"/><path d="M534.2 144.8l1-.9 .9-.9 .9-1 .8-.9 .8-1 .7-.9 .7-1 .6-.9" stroke="#b17925" stroke-width="2.4"/><path d="M534.2 144.8l1-.9 .9-.9 .9-1 .8-.9 .8-1 .7-.9 .7-1 .6-.9" stroke="#facf8f" stroke-width="0.6"/><path d="M531.1 137.8l.3-.5 .3-.5 .3-.5 .3-.4 .3-.4 .3-.3 .3-.2 .4-.3" stroke="#5d4013" stroke-width="3.2"/><path d="M531.1 137.8l.3-.5 .3-.5 .3-.5 .3-.4 .3-.4 .3-.3 .3-.2 .4-.3" stroke="#dd972e" stroke-width="2.4"/><path d="M531.1 137.8l.3-.5 .3-.5 .3-.5 .3-.4 .3-.4 .3-.3 .3-.2 .4-.3" stroke="#facf8f" stroke-width="0.6"/><path d="M527.5 147.6l1.3-.2 1.4-.2 1.4-.3 1.4-.4 1.3-.5 1.4-.5 1.4-.6 1.3-.6" stroke="#5d4013" stroke-width="3.2"/><path d="M527.5 147.6l1.3-.2 1.4-.2 1.4-.3 1.4-.4 1.3-.5 1.4-.5 1.4-.6 1.3-.6" stroke="#d3902c" stroke-width="2.4"/><path d="M527.5 147.6l1.3-.2 1.4-.2 1.4-.3 1.4-.4 1.3-.5 1.4-.5 1.4-.6 1.3-.6" stroke="#facf8f" stroke-width="0.6"/><path d="M524.3 140.7l.7 .1 .8 .2 .7 .1 .9 .2 .9 .1 1 .1 1 .2 1.1 0" stroke="#5d4013" stroke-width="3.2"/><path d="M524.3 140.7l.7 .1 .8 .2 .7 .1 .9 .2 .9 .1 1 .1 1 .2 1.1 0" stroke="#bf8328" stroke-width="2.4"/><path d="M524.3 140.7l.7 .1 .8 .2 .7 .1 .9 .2 .9 .1 1 .1 1 .2 1.1 0" stroke="#facf8f" stroke-width="0.6"/><path d="M540.6 137.3l.6-.9 .6-.9 .5-.8 .5-.9 .4-.8 .4-.7 .4-.7 .4-.7" stroke="#5e491a" stroke-width="3.2"/><path d="M540.6 137.3l.6-.9 .6-.9 .5-.8 .5-.9 .4-.8 .4-.7 .4-.7 .4-.7" stroke="#b28b31" stroke-width="2.4"/><path d="M540.6 137.3l.6-.9 .6-.9 .5-.8 .5-.9 .4-.8 .4-.7 .4-.7 .4-.7" stroke="#fbdd98" stroke-width="0.6"/><path d="M538.4 144.3l1.4-.7 1.3-.7 1.2-.8 1.3-.9 1.2-.8 1.1-1 1.1-.9 1.1-1" stroke="#5e491a" stroke-width="3.2"/><path d="M538.4 144.3l1.4-.7 1.3-.7 1.2-.8 1.3-.9 1.2-.8 1.1-1 1.1-.9 1.1-1" stroke="#d5a63b" stroke-width="2.4"/><path d="M538.4 144.3l1.4-.7 1.3-.7 1.2-.8 1.3-.9 1.2-.8 1.1-1 1.1-.9 1.1-1" stroke="#fbdd98" stroke-width="0.6"/><path d="M533.6 134.7l.4-.1 .5-.2 .4-.1 .6 0 .6-.1 .6 0 .7 0 .7 .1" stroke="#5e491a" stroke-width="3.2"/><path d="M533.6 134.7l.4-.1 .5-.2 .4-.1 .6 0 .6-.1 .6 0 .7 0 .7 .1" stroke="#dfad3d" stroke-width="2.4"/><path d="M533.6 134.7l.4-.1 .5-.2 .4-.1 .6 0 .6-.1 .6 0 .7 0 .7 .1" stroke="#fbdd98" stroke-width="0.6"/><path d="M531.4 141.7l1.2 .1 1.2 0 1.2 0 1.3-.1 1.3-.1 1.4-.2 1.4-.2 1.4-.3" stroke="#5e491a" stroke-width="3.2"/><path d="M531.4 141.7l1.2 .1 1.2 0 1.2 0 1.3-.1 1.3-.1 1.4-.2 1.4-.2 1.4-.3" stroke="#c19635" stroke-width="2.4"/><path d="M531.4 141.7l1.2 .1 1.2 0 1.2 0 1.3-.1 1.3-.1 1.4-.2 1.4-.2 1.4-.3" stroke="#fbdd98" stroke-width="0.6"/><path d="M548.1 137.5l1-1 1-1.1 .9-1 .8-1.1 .8-1 .8-1.1 .7-1 .6-1" stroke="#5f5026" stroke-width="3.2"/><path d="M548.1 137.5l1-1 1-1.1 .9-1 .8-1.1 .8-1 .8-1.1 .7-1 .6-1" stroke="#d7b557" stroke-width="2.4"/><path d="M548.1 137.5l1-1 1-1.1 .9-1 .8-1.1 .8-1 .8-1.1 .7-1 .6-1" stroke="#fce7aa" stroke-width="0.6"/><path d="M544.4 130.9l.4-.6 .4-.6 .3-.5 .4-.5 .4-.5 .4-.3 .5-.4 .4-.3" stroke="#5f5026" stroke-width="3.2"/><path d="M544.4 130.9l.4-.6 .4-.6 .3-.5 .4-.5 .4-.5 .4-.3 .5-.4 .4-.3" stroke="#b49849" stroke-width="2.4"/><path d="M544.4 130.9l.4-.6 .4-.6 .3-.5 .4-.5 .4-.5 .4-.3 .5-.4 .4-.3" stroke="#fce7aa" stroke-width="0.6"/><path d="M541.8 140.9l1.4-.4 1.4-.4 1.5-.5 1.4-.5 1.5-.6 1.4-.7 1.4-.7 1.4-.8" stroke="#5f5026" stroke-width="3.2"/><path d="M541.8 140.9l1.4-.4 1.4-.4 1.5-.5 1.4-.5 1.5-.6 1.4-.7 1.4-.7 1.4-.8" stroke="#c3a44f" stroke-width="2.4"/><path d="M541.8 140.9l1.4-.4 1.4-.4 1.5-.5 1.4-.5 1.5-.6 1.4-.7 1.4-.7 1.4-.8" stroke="#fce7aa" stroke-width="0.6"/><path d="M538.1 134.3l.8 0 .9 0 .9 .1 .9 0 1.1 0 1.1 0 1.1 0 1.2-.1" stroke="#5f5026" stroke-width="3.2"/><path d="M538.1 134.3l.8 0 .9 0 .9 .1 .9 0 1.1 0 1.1 0 1.1 0 1.2-.1" stroke="#e1be5b" stroke-width="2.4"/><path d="M538.1 134.3l.8 0 .9 0 .9 .1 .9 0 1.1 0 1.1 0 1.1 0 1.2-.1" stroke="#fce7aa" stroke-width="0.6"/><path d="M554.7 129.2l.6-1 .6-1 .5-1 .5-.9 .5-.9 .4-.8 .5-.8 .4-.8" stroke="#5f5533" stroke-width="3.2"/><path d="M554.7 129.2l.6-1 .6-1 .5-1 .5-.9 .5-.9 .4-.8 .5-.8 .4-.8" stroke="#d8c172" stroke-width="2.4"/><path d="M554.7 129.2l.6-1 .6-1 .5-1 .5-.9 .5-.9 .4-.8 .5-.8 .4-.8" stroke="#fdeebc" stroke-width="0.6"/><path d="M553.2 136.3l1.3-.9 1.4-.9 1.2-.9 1.3-1 1.2-1.1 1.1-1 1.1-1.1 1.1-1.2" stroke="#5f5533" stroke-width="3.2"/><path d="M553.2 136.3l1.3-.9 1.4-.9 1.2-.9 1.3-1 1.2-1.1 1.1-1 1.1-1.1 1.1-1.2" stroke="#c4af68" stroke-width="2.4"/><path d="M553.2 136.3l1.3-.9 1.4-.9 1.2-.9 1.3-1 1.2-1.1 1.1-1 1.1-1.1 1.1-1.2" stroke="#fdeebc" stroke-width="0.6"/><path d="M547.6 127.2l.5-.3 .5-.2 .6-.2 .6-.1 .7-.2 .7-.1 .8-.1 .9-.1" stroke="#5f5533" stroke-width="3.2"/><path d="M547.6 127.2l.5-.3 .5-.2 .6-.2 .6-.1 .7-.2 .7-.1 .8-.1 .9-.1" stroke="#b5a260" stroke-width="2.4"/><path d="M547.6 127.2l.5-.3 .5-.2 .6-.2 .6-.1 .7-.2 .7-.1 .8-.1 .9-.1" stroke="#fdeebc" stroke-width="0.6"/><path d="M546.1 134.3l1.2-.1 1.3-.2 1.3-.1 1.4-.3 1.4-.3 1.4-.3 1.4-.4 1.5-.5" stroke="#5f5533" stroke-width="3.2"/><path d="M546.1 134.3l1.2-.1 1.3-.2 1.3-.1 1.4-.3 1.4-.3 1.4-.3 1.4-.4 1.5-.5" stroke="#e2ca78" stroke-width="2.4"/><path d="M546.1 134.3l1.2-.1 1.3-.2 1.3-.1 1.4-.3 1.4-.3 1.4-.3 1.4-.4 1.5-.5" stroke="#fdeebc" stroke-width="0.6"/><path d="M562.9 128.2l1.1-1.1 1-1.2 1-1.2 .9-1.3 .8-1.2 .8-1.2 .7-1.2 .7-1.2" stroke="#605a3f" stroke-width="3.2"/><path d="M562.9 128.2l1.1-1.1 1-1.2 1-1.2 .9-1.3 .8-1.2 .8-1.2 .7-1.2 .7-1.2" stroke="#c5b980" stroke-width="2.4"/><path d="M562.9 128.2l1.1-1.1 1-1.2 1-1.2 .9-1.3 .8-1.2 .8-1.2 .7-1.2 .7-1.2" stroke="#fdf5cd" stroke-width="0.6"/><path d="M558.7 122l.5-.7 .4-.6 .5-.6 .5-.6 .5-.5 .5-.5 .6-.4 .6-.4" stroke="#605a3f" stroke-width="3.2"/><path d="M558.7 122l.5-.7 .4-.6 .5-.6 .5-.6 .5-.5 .5-.5 .6-.4 .6-.4" stroke="#d9cb8e" stroke-width="2.4"/><path d="M558.7 122l.5-.7 .4-.6 .5-.6 .5-.6 .5-.5 .5-.5 .6-.4 .6-.4" stroke="#fdf5cd" stroke-width="0.6"/><path d="M557 132.1l1.6-.5 1.7-.6 1.5-.7 1.6-.7 1.6-.9 1.5-.9 1.5-1 1.5-1" stroke="#605a3f" stroke-width="3.2"/><path d="M557 132.1l1.6-.5 1.7-.6 1.5-.7 1.6-.7 1.6-.9 1.5-.9 1.5-1 1.5-1" stroke="#e3d594" stroke-width="2.4"/><path d="M557 132.1l1.6-.5 1.7-.6 1.5-.7 1.6-.7 1.6-.9 1.5-.9 1.5-1 1.5-1" stroke="#fdf5cd" stroke-width="0.6"/><path d="M552.9 125.9l.9-.1 1.1 0 1.1-.1 1.2-.1 1.2-.1 1.3-.2 1.3-.2 1.4-.2" stroke="#605a3f" stroke-width="3.2"/><path d="M552.9 125.9l.9-.1 1.1 0 1.1-.1 1.2-.1 1.2-.1 1.3-.2 1.3-.2 1.4-.2" stroke="#b6aa77" stroke-width="2.4"/><path d="M552.9 125.9l.9-.1 1.1 0 1.1-.1 1.2-.1 1.2-.1 1.3-.2 1.3-.2 1.4-.2" stroke="#fdf5cd" stroke-width="0.6"/><path d="M569.9 118.6l.6-1.1 .6-1.1 .5-1.1 .5-1.1 .5-1 .5-.9 .4-1 .4-.8" stroke="#605b45" stroke-width="3.2"/><path d="M569.9 118.6l.6-1.1 .6-1.1 .5-1.1 .5-1.1 .5-1 .5-.9 .4-1 .4-.8" stroke="#c5bc8e" stroke-width="2.4"/><path d="M569.9 118.6l.6-1.1 .6-1.1 .5-1.1 .5-1.1 .5-1 .5-.9 .4-1 .4-.8" stroke="#fef7d7" stroke-width="0.6"/><path d="M569.5 125.8l1.4-1.1 1.4-1.2 1.3-1.2 1.3-1.2 1.2-1.3 1.1-1.4 1-1.3 1-1.4" stroke="#605b45" stroke-width="3.2"/><path d="M569.5 125.8l1.4-1.1 1.4-1.2 1.3-1.2 1.3-1.2 1.2-1.3 1.1-1.4 1-1.3 1-1.4" stroke="#e4d9a4" stroke-width="2.4"/><path d="M569.5 125.8l1.4-1.1 1.4-1.2 1.3-1.2 1.3-1.2 1.2-1.3 1.1-1.4 1-1.3 1-1.4" stroke="#fef7d7" stroke-width="0.6"/><path d="M562.8 117.7l.6-.3 .7-.4 .7-.3 .8-.2 .8-.3 .9-.3 .9-.2 1-.3" stroke="#605b45" stroke-width="3.2"/><path d="M562.8 117.7l.6-.3 .7-.4 .7-.3 .8-.2 .8-.3 .9-.3 .9-.2 1-.3" stroke="#dacf9d" stroke-width="2.4"/><path d="M562.8 117.7l.6-.3 .7-.4 .7-.3 .8-.2 .8-.3 .9-.3 .9-.2 1-.3" stroke="#fef7d7" stroke-width="0.6"/><path d="M562.4 124.9l1.4-.3 1.5-.4 1.5-.4 1.5-.5 1.5-.6 1.6-.6 1.5-.7 1.6-.8" stroke="#605b45" stroke-width="3.2"/><path d="M562.4 124.9l1.4-.3 1.5-.4 1.5-.4 1.5-.5 1.5-.6 1.6-.6 1.5-.7 1.6-.8" stroke="#b6ad83" stroke-width="2.4"/><path d="M562.4 124.9l1.4-.3 1.5-.4 1.5-.4 1.5-.5 1.5-.6 1.6-.6 1.5-.7 1.6-.8" stroke="#fef7d7" stroke-width="0.6"/><path d="M579.2 115.7l1-1.4 .8-1.4 .8-1.4 .7-1.4 .7-1.4 .6-1.4 .5-1.3 .5-1.3" stroke="#615d4c" stroke-width="3.2"/><path d="M579.2 115.7l1-1.4 .8-1.4 .8-1.4 .7-1.4 .7-1.4 .6-1.4 .5-1.3 .5-1.3" stroke="#e5dcb5" stroke-width="2.4"/><path d="M579.2 115.7l1-1.4 .8-1.4 .8-1.4 .7-1.4 .7-1.4 .6-1.4 .5-1.3 .5-1.3" stroke="#fef9e1" stroke-width="0.6"/><path d="M573.9 110.5l.5-.8 .4-.8 .4-.7 .5-.7 .5-.6 .5-.6 .5-.6 .6-.5" stroke="#615d4c" stroke-width="3.2"/><path d="M573.9 110.5l.5-.8 .4-.8 .4-.7 .5-.7 .5-.6 .5-.6 .5-.6 .6-.5" stroke="#c6bf9d" stroke-width="2.4"/><path d="M573.9 110.5l.5-.8 .4-.8 .4-.7 .5-.7 .5-.6 .5-.6 .5-.6 .6-.5" stroke="#fef9e1" stroke-width="0.6"/><path d="M574.5 120.6l1.5-.9 1.5-.9 1.5-1 1.5-1.1 1.4-1.1 1.4-1.3 1.3-1.2 1.3-1.4" stroke="#615d4c" stroke-width="3.2"/><path d="M574.5 120.6l1.5-.9 1.5-.9 1.5-1 1.5-1.1 1.4-1.1 1.4-1.3 1.3-1.2 1.3-1.4" stroke="#b7b090" stroke-width="2.4"/><path d="M574.5 120.6l1.5-.9 1.5-.9 1.5-1 1.5-1.1 1.4-1.1 1.4-1.3 1.3-1.2 1.3-1.4" stroke="#fef9e1" stroke-width="0.6"/><path d="M569.2 115.4l1-.3 1.1-.3 1.2-.3 1.2-.3 1.2-.4 1.3-.5 1.3-.5 1.4-.5" stroke="#615d4c" stroke-width="3.2"/><path d="M569.2 115.4l1-.3 1.1-.3 1.2-.3 1.2-.3 1.2-.4 1.3-.5 1.3-.5 1.4-.5" stroke="#dbd3ad" stroke-width="2.4"/><path d="M569.2 115.4l1-.3 1.1-.3 1.2-.3 1.2-.3 1.2-.4 1.3-.5 1.3-.5 1.4-.5" stroke="#fef9e1" stroke-width="0.6"/><path d="M584.8 104.7l.4-1.3 .4-1.2 .4-1.2 .3-1.1 .4-1.1 .3-1.1 .3-1.1 .3-1.1" stroke="#615f53" stroke-width="3.2"/><path d="M584.8 104.7l.4-1.3 .4-1.2 .4-1.2 .3-1.1 .4-1.1 .3-1.1 .3-1.1 .3-1.1" stroke="#e5e0c4" stroke-width="2.4"/><path d="M584.8 104.7l.4-1.3 .4-1.2 .4-1.2 .3-1.1 .4-1.1 .3-1.1 .3-1.1 .3-1.1" stroke="#fffcea" stroke-width="0.6"/><path d="M585.9 111.7l1.2-1.3 1.2-1.5 1.1-1.4 1-1.5 .9-1.5 .9-1.7 .9-1.8 .8-1.7" stroke="#615f53" stroke-width="3.2"/><path d="M585.9 111.7l1.2-1.3 1.2-1.5 1.1-1.4 1-1.5 .9-1.5 .9-1.7 .9-1.8 .8-1.7" stroke="#b8b39c" stroke-width="2.4"/><path d="M585.9 111.7l1.2-1.3 1.2-1.5 1.1-1.4 1-1.5 .9-1.5 .9-1.7 .9-1.8 .8-1.7" stroke="#fffcea" stroke-width="0.6"/><path d="M577.8 105.2l.6-.5 .6-.4 .7-.5 .8-.4 .8-.4 1-.6 1-.5 1.1-.6" stroke="#615f53" stroke-width="3.2"/><path d="M577.8 105.2l.6-.5 .6-.4 .7-.5 .8-.4 .8-.4 1-.6 1-.5 1.1-.6" stroke="#c7c2aa" stroke-width="2.4"/><path d="M577.8 105.2l.6-.5 .6-.4 .7-.5 .8-.4 .8-.4 1-.6 1-.5 1.1-.6" stroke="#fffcea" stroke-width="0.6"/><path d="M578.9 112.3l1.4-.6 1.4-.7 1.4-.7 1.4-.8 1.5-.9 1.6-1.1 1.6-1.1 1.5-1.3" stroke="#615f53" stroke-width="3.2"/><path d="M578.9 112.3l1.4-.6 1.4-.7 1.4-.7 1.4-.8 1.5-.9 1.6-1.1 1.6-1.1 1.5-1.3" stroke="#dbd6bb" stroke-width="2.4"/><path d="M578.9 112.3l1.4-.6 1.4-.7 1.4-.7 1.4-.8 1.5-.9 1.6-1.1 1.6-1.1 1.5-1.3" stroke="#fffcea" stroke-width="0.6"/><path d="M593.9 99.3l.7-1.8 .6-1.8 .5-1.8 .4-1.7 .3-1.6 .3-1.7 .2-1.5 .1-1.6" stroke="#615d4c" stroke-width="3.2"/><path d="M593.9 99.3l.7-1.8 .6-1.8 .5-1.8 .4-1.7 .3-1.6 .3-1.7 .2-1.5 .1-1.6" stroke="#b7b08f" stroke-width="2.4"/><path d="M593.9 99.3l.7-1.8 .6-1.8 .5-1.8 .4-1.7 .3-1.6 .3-1.7 .2-1.5 .1-1.6" stroke="#fef9e0" stroke-width="0.6"/><path d="M587.6 95.5l.4-1 .3-.9 .3-.9 .4-.9 .4-.8 .5-.8 .4-.7 .6-.7" stroke="#615d4c" stroke-width="3.2"/><path d="M587.6 95.5l.4-1 .3-.9 .3-.9 .4-.9 .4-.8 .5-.8 .4-.7 .6-.7" stroke="#e5dcb3" stroke-width="2.4"/><path d="M587.6 95.5l.4-1 .3-.9 .3-.9 .4-.9 .4-.8 .5-.8 .4-.7 .6-.7" stroke="#fef9e0" stroke-width="0.6"/><path d="M590.7 105.1l1.5-1.4 1.5-1.4 1.3-1.6 1.3-1.6 1.2-1.7 1.2-1.7 1-1.8 .9-1.9" stroke="#615d4c" stroke-width="3.2"/><path d="M590.7 105.1l1.5-1.4 1.5-1.4 1.3-1.6 1.3-1.6 1.2-1.7 1.2-1.7 1-1.8 .9-1.9" stroke="#dad2ab" stroke-width="2.4"/><path d="M590.7 105.1l1.5-1.4 1.5-1.4 1.3-1.6 1.3-1.6 1.2-1.7 1.2-1.7 1-1.8 .9-1.9" stroke="#fef9e0" stroke-width="0.6"/><path d="M584.4 101.3l1.2-.6 1.1-.6 1.3-.7 1.2-.7 1.3-.8 1.3-.9 1.4-1 1.3-1" stroke="#615d4c" stroke-width="3.2"/><path d="M584.4 101.3l1.2-.6 1.1-.6 1.3-.7 1.2-.7 1.3-.8 1.3-.9 1.4-1 1.3-1" stroke="#c6bf9b" stroke-width="2.4"/><path d="M584.4 101.3l1.2-.6 1.1-.6 1.3-.7 1.2-.7 1.3-.8 1.3-.9 1.4-1 1.3-1" stroke="#fef9e0" stroke-width="0.6"/><path d="M597 85.8l.1-1.4 0-1.4 0-1.3 0-1.2-.1-1.1 0-1.1 0-1 0-.9" stroke="#605b41" stroke-width="3.2"/><path d="M597 85.8l.1-1.4 0-1.4 0-1.3 0-1.2-.1-1.1 0-1.1 0-1 0-.9" stroke="#b6ac7c" stroke-width="2.4"/><path d="M597 85.8l.1-1.4 0-1.4 0-1.3 0-1.2-.1-1.1 0-1.1 0-1 0-.9" stroke="#fef6d1" stroke-width="0.6"/><path d="M600.6 92l.8-1.9 .7-1.9 .6-1.9 .5-1.9 .4-1.9 .2-1.8 .2-1.9 .1-1.7" stroke="#605b41" stroke-width="3.2"/><path d="M600.6 92l.8-1.9 .7-1.9 .6-1.9 .5-1.9 .4-1.9 .2-1.8 .2-1.9 .1-1.7" stroke="#d9cd94" stroke-width="2.4"/><path d="M600.6 92l.8-1.9 .7-1.9 .6-1.9 .5-1.9 .4-1.9 .2-1.8 .2-1.9 .1-1.7" stroke="#fef6d1" stroke-width="0.6"/><path d="M590.9 88.8l.5-.7 .6-.7 .7-.6 .7-.7 .8-.7 .8-.7 .8-.8 .9-.8" stroke="#605b41" stroke-width="3.2"/><path d="M590.9 88.8l.5-.7 .6-.7 .7-.6 .7-.7 .8-.7 .8-.7 .8-.8 .9-.8" stroke="#e3d69b" stroke-width="2.4"/><path d="M590.9 88.8l.5-.7 .6-.7 .7-.6 .7-.7 .8-.7 .8-.7 .8-.8 .9-.8" stroke="#fef6d1" stroke-width="0.6"/><path d="M594.5 95l1.3-1.2 1.3-1.2 1.2-1.2 1.2-1.4 1.2-1.4 1.1-1.6 1.1-1.5 .9-1.7" stroke="#605b41" stroke-width="3.2"/><path d="M594.5 95l1.3-1.2 1.3-1.2 1.2-1.2 1.2-1.4 1.2-1.4 1.1-1.6 1.1-1.5 .9-1.7" stroke="#c5ba86" stroke-width="2.4"/><path d="M594.5 95l1.3-1.2 1.3-1.2 1.2-1.2 1.2-1.4 1.2-1.4 1.1-1.6 1.1-1.5 .9-1.7" stroke="#fef6d1" stroke-width="0.6"/><path d="M604.1 77.1l0-1.8-.1-1.6-.2-1.7-.2-1.5-.2-1.4-.4-1.4-.3-1.2-.4-1.2" stroke="#5f532d" stroke-width="3.2"/><path d="M604.1 77.1l0-1.8-.1-1.6-.2-1.7-.2-1.5-.2-1.4-.4-1.4-.3-1.2-.4-1.2" stroke="#d7bc65" stroke-width="2.4"/><path d="M604.1 77.1l0-1.8-.1-1.6-.2-1.7-.2-1.5-.2-1.4-.4-1.4-.3-1.2-.4-1.2" stroke="#fcebb3" stroke-width="0.6"/><path d="M597 76.4l0-.9 0-.8 .1-.8 .1-.7 .2-.7 .2-.6 .3-.6 .3-.6" stroke="#5f532d" stroke-width="3.2"/><path d="M597 76.4l0-.9 0-.8 .1-.8 .1-.7 .2-.7 .2-.6 .3-.6 .3-.6" stroke="#b49d55" stroke-width="2.4"/><path d="M597 76.4l0-.9 0-.8 .1-.8 .1-.7 .2-.7 .2-.6 .3-.6 .3-.6" stroke="#fcebb3" stroke-width="0.6"/><path d="M603.8 83.8l.9-1.7 .8-1.7 .7-1.8 .6-1.8 .5-1.9 .4-1.8 .3-1.9 .2-1.8" stroke="#5f532d" stroke-width="3.2"/><path d="M603.8 83.8l.9-1.7 .8-1.7 .7-1.8 .6-1.8 .5-1.9 .4-1.8 .3-1.9 .2-1.8" stroke="#c3aa5c" stroke-width="2.4"/><path d="M603.8 83.8l.9-1.7 .8-1.7 .7-1.8 .6-1.8 .5-1.9 .4-1.8 .3-1.9 .2-1.8" stroke="#fcebb3" stroke-width="0.6"/><path d="M596.7 83.1l.9-.8 .9-.9 1-1 .9-1 1-1 .9-1.1 .9-1.2 .9-1.3" stroke="#5f532d" stroke-width="3.2"/><path d="M596.7 83.1l.9-.8 .9-.9 1-1 .9-1 1-1 .9-1.1 .9-1.2 .9-1.3" stroke="#e1c46a" stroke-width="2.4"/><path d="M596.7 83.1l.9-.8 .9-.9 1-1 .9-1 1-1 .9-1.1 .9-1.2 .9-1.3" stroke="#fcebb3" stroke-width="0.6"/><path d="M608.2 69.4l0-1.8 0-1.8-.1-1.7-.1-1.5-.1-1.4-.1-1.4-.2-1.3-.3-1.3" stroke="#5e491a" stroke-width="3.2"/><path d="M608.2 69.4l0-1.8 0-1.8-.1-1.7-.1-1.5-.1-1.4-.1-1.4-.2-1.3-.3-1.3" stroke="#c19635" stroke-width="2.4"/><path d="M608.2 69.4l0-1.8 0-1.8-.1-1.7-.1-1.5-.1-1.4-.1-1.4-.2-1.3-.3-1.3" stroke="#fbdd98" stroke-width="0.6"/><path d="M602.3 65.3l-.4-1.1-.3-1-.4-.9-.2-.8-.2-.7-.1-.6-.1-.5 0-.5" stroke="#5e491a" stroke-width="3.2"/><path d="M602.3 65.3l-.4-1.1-.3-1-.4-.9-.2-.8-.2-.7-.1-.6-.1-.5 0-.5" stroke="#d5a63b" stroke-width="2.4"/><path d="M602.3 65.3l-.4-1.1-.3-1-.4-.9-.2-.8-.2-.7-.1-.6-.1-.5 0-.5" stroke="#fbdd98" stroke-width="0.6"/><path d="M604.1 74.8l.8-1.3 .8-1.4 .8-1.4 .7-1.3 .7-1.3 .6-1.4 .6-1.4 .5-1.5" stroke="#5e491a" stroke-width="3.2"/><path d="M604.1 74.8l.8-1.3 .8-1.4 .8-1.4 .7-1.3 .7-1.3 .6-1.4 .6-1.4 .5-1.5" stroke="#dfae3e" stroke-width="2.4"/><path d="M604.1 74.8l.8-1.3 .8-1.4 .8-1.4 .7-1.3 .7-1.3 .6-1.4 .6-1.4 .5-1.5" stroke="#fbdd98" stroke-width="0.6"/><path d="M598.2 70.7l.4-.6 .5-.6 .4-.7 .6-.5 .7-.6 .6-.6 .7-.6 .8-.7" stroke="#5e491a" stroke-width="3.2"/><path d="M598.2 70.7l.4-.6 .5-.6 .4-.7 .6-.5 .7-.6 .6-.6 .7-.6 .8-.7" stroke="#b28b31" stroke-width="2.4"/><path d="M598.2 70.7l.4-.6 .5-.6 .4-.7 .6-.5 .7-.6 .6-.6 .7-.6 .8-.7" stroke="#fbdd98" stroke-width="0.6"/><path d="M607.3 57.2l-.3-1.2-.3-1.1-.4-1-.3-1-.4-.9-.3-.8-.4-.8-.3-.7" stroke="#5d3c13" stroke-width="3.2"/><path d="M607.3 57.2l-.3-1.2-.3-1.1-.4-1-.3-1-.4-.9-.3-.8-.4-.8-.3-.7" stroke="#be7c28" stroke-width="2.4"/><path d="M607.3 57.2l-.3-1.2-.3-1.1-.4-1-.3-1-.4-.9-.3-.8-.4-.8-.3-.7" stroke="#f9ca8f" stroke-width="0.6"/><path d="M609.6 63.8l.4-1.4 .4-1.5 .3-1.4 .2-1.5 .2-1.5 .1-1.4 0-1.4 0-1.4" stroke="#5d3c13" stroke-width="3.2"/><path d="M609.6 63.8l.4-1.4 .4-1.5 .3-1.4 .2-1.5 .2-1.5 .1-1.4 0-1.4 0-1.4" stroke="#db8f2e" stroke-width="2.4"/><path d="M609.6 63.8l.4-1.4 .4-1.5 .3-1.4 .2-1.5 .2-1.5 .1-1.4 0-1.4 0-1.4" stroke="#f9ca8f" stroke-width="0.6"/><path d="M600.6 59.2l0-.5 .1-.4 .1-.4 .1-.4 .3-.3 .2-.4 .4-.3 .4-.4" stroke="#5d3c13" stroke-width="3.2"/><path d="M600.6 59.2l0-.5 .1-.4 .1-.4 .1-.4 .3-.3 .2-.4 .4-.3 .4-.4" stroke="#d2882c" stroke-width="2.4"/><path d="M600.6 59.2l0-.5 .1-.4 .1-.4 .1-.4 .3-.3 .2-.4 .4-.3 .4-.4" stroke="#f9ca8f" stroke-width="0.6"/><path d="M602.9 65.8l.7-.7 .8-.8 .7-.8 .8-.9 .7-.9 .8-1 .7-1 .7-1" stroke="#5d3c13" stroke-width="3.2"/><path d="M602.9 65.8l.7-.7 .8-.8 .7-.8 .8-.9 .7-.9 .8-1 .7-1 .7-1" stroke="#b07225" stroke-width="2.4"/><path d="M602.9 65.8l.7-.7 .8-.8 .7-.8 .8-.9 .7-.9 .8-1 .7-1 .7-1" stroke="#f9ca8f" stroke-width="0.6"/><path d="M611.2 52.3l-.1-1.3-.2-1.3-.2-1.3-.3-1.2-.3-1.1-.3-1-.4-1-.4-.9" stroke="#5a3018" stroke-width="3.2"/><path d="M611.2 52.3l-.1-1.3-.2-1.3-.2-1.3-.3-1.2-.3-1.1-.3-1-.4-1-.4-.9" stroke="#d67238" stroke-width="2.4"/><path d="M611.2 52.3l-.1-1.3-.2-1.3-.2-1.3-.3-1.2-.3-1.1-.3-1-.4-1-.4-.9" stroke="#f6b995" stroke-width="0.6"/><path d="M604.6 49.7l-.4-.6-.3-.5-.2-.5-.2-.4-.2-.4-.1-.3-.1-.3 0-.2" stroke="#5a3018" stroke-width="3.2"/><path d="M604.6 49.7l-.4-.6-.3-.5-.2-.5-.2-.4-.2-.4-.1-.3-.1-.3 0-.2" stroke="#ba6331" stroke-width="2.4"/><path d="M604.6 49.7l-.4-.6-.3-.5-.2-.5-.2-.4-.2-.4-.1-.3-.1-.3 0-.2" stroke="#f6b995" stroke-width="0.6"/><path d="M608.8 58.7l.6-1.1 .6-1.2 .6-1.1 .5-1.3 .5-1.2 .4-1.2 .3-1.3 .3-1.3" stroke="#5a3018" stroke-width="3.2"/><path d="M608.8 58.7l.6-1.1 .6-1.2 .6-1.1 .5-1.3 .5-1.2 .4-1.2 .3-1.3 .3-1.3" stroke="#ab5b2d" stroke-width="2.4"/><path d="M608.8 58.7l.6-1.1 .6-1.2 .6-1.1 .5-1.3 .5-1.2 .4-1.2 .3-1.3 .3-1.3" stroke="#f6b995" stroke-width="0.6"/><path d="M602.2 56.1l.4-.4 .5-.3 .5-.5 .6-.4 .6-.5 .6-.5 .7-.5 .6-.6" stroke="#5a3018" stroke-width="3.2"/><path d="M602.2 56.1l.4-.4 .5-.3 .5-.5 .6-.4 .6-.5 .6-.5 .7-.5 .6-.6" stroke="#cd6d36" stroke-width="2.4"/><path d="M602.2 56.1l.4-.4 .5-.3 .5-.5 .6-.4 .6-.5 .6-.5 .7-.5 .6-.6" stroke="#f6b995" stroke-width="0.6"/><path d="M609 43.2l-.4-.9-.4-.8-.4-.7-.4-.6-.5-.5-.4-.4-.5-.3-.4-.2" stroke="#552422" stroke-width="3.2"/><path d="M609 43.2l-.4-.9-.4-.8-.4-.7-.4-.6-.5-.5-.4-.4-.5-.3-.4-.2" stroke="#c95552" stroke-width="2.4"/><path d="M609 43.2l-.4-.9-.4-.8-.4-.7-.4-.6-.5-.5-.4-.4-.5-.3-.4-.2" stroke="#eea7a5" stroke-width="0.6"/><path d="M612.6 49l.2-1.2 .2-1.3 .1-1.2 0-1.3 0-1.2-.1-1.3-.3-1.2-.3-1.2" stroke="#552422" stroke-width="3.2"/><path d="M612.6 49l.2-1.2 .2-1.3 .1-1.2 0-1.3 0-1.2-.1-1.3-.3-1.2-.3-1.2" stroke="#a14441" stroke-width="2.4"/><path d="M612.6 49l.2-1.2 .2-1.3 .1-1.2 0-1.3 0-1.2-.1-1.3-.3-1.2-.3-1.2" stroke="#eea7a5" stroke-width="0.6"/><path d="M603.1 46.5l.1-.2 .1-.2 .2-.2 .2-.1 .3-.1 .4-.1 .5-.1 .6-.1" stroke="#552422" stroke-width="3.2"/><path d="M603.1 46.5l.1-.2 .1-.2 .2-.2 .2-.1 .3-.1 .4-.1 .5-.1 .6-.1" stroke="#af4a47" stroke-width="2.4"/><path d="M603.1 46.5l.1-.2 .1-.2 .2-.2 .2-.1 .3-.1 .4-.1 .5-.1 .6-.1" stroke="#eea7a5" stroke-width="0.6"/><path d="M606.7 52.4l.7-.7 .7-.6 .7-.8 .6-.7 .8-.9 .7-.9 .7-1 .7-1" stroke="#552422" stroke-width="3.2"/><path d="M606.7 52.4l.7-.7 .7-.6 .7-.8 .6-.7 .8-.9 .7-.9 .7-1 .7-1" stroke="#c1514e" stroke-width="2.4"/><path d="M606.7 52.4l.7-.7 .7-.6 .7-.8 .6-.7 .8-.9 .7-.9 .7-1 .7-1" stroke="#eea7a5" stroke-width="0.6"/><path d="M612.4 39.1l-.4-1.1-.4-1-.5-1-.6-.8-.6-.6-.7-.5-.6-.3-.5-.1" stroke="#4b1d2e" stroke-width="3.2"/><path d="M612.4 39.1l-.4-1.1-.4-1-.5-1-.6-.8-.6-.6-.7-.5-.6-.3-.5-.1" stroke="#8f3757" stroke-width="2.4"/><path d="M612.4 39.1l-.4-1.1-.4-1-.5-1-.6-.8-.6-.6-.7-.5-.6-.3-.5-.1" stroke="#e09db5" stroke-width="0.6"/><path d="M612.3 45.8l.6-1.2 .6-1.2 .6-1.4 .4-1.4 .3-1.4 .1-1.5 0-1.5-.3-1.4" stroke="#4b1d2e" stroke-width="3.2"/><path d="M612.3 45.8l.6-1.2 .6-1.2 .6-1.4 .4-1.4 .3-1.4 .1-1.5 0-1.5-.3-1.4" stroke="#aa4168" stroke-width="2.4"/><path d="M612.3 45.8l.6-1.2 .6-1.2 .6-1.4 .4-1.4 .3-1.4 .1-1.5 0-1.5-.3-1.4" stroke="#e09db5" stroke-width="0.6"/><path d="M605.6 38.8l-.3-.1-.2 0 0 .1 .1 .2 .2 .3 .4 .3 .6 .3 .8 .3" stroke="#4b1d2e" stroke-width="3.2"/><path d="M605.6 38.8l-.3-.1-.2 0 0 .1 .1 .2 .2 .3 .4 .3 .6 .3 .8 .3" stroke="#b2456d" stroke-width="2.4"/><path d="M605.6 38.8l-.3-.1-.2 0 0 .1 .1 .2 .2 .3 .4 .3 .6 .3 .8 .3" stroke="#e09db5" stroke-width="0.6"/><path d="M605.5 45.4l.7-.1 .9-.2 1-.3 1.1-.4 1.1-.5 1.2-.7 1.1-.9 1.1-1" stroke="#4b1d2e" stroke-width="3.2"/><path d="M605.5 45.4l.7-.1 .9-.2 1-.3 1.1-.4 1.1-.5 1.2-.7 1.1-.9 1.1-1" stroke="#9a3b5e" stroke-width="2.4"/><path d="M605.5 45.4l.7-.1 .9-.2 1-.3 1.1-.4 1.1-.5 1.2-.7 1.1-.9 1.1-1" stroke="#e09db5" stroke-width="0.6"/><path d="M614.6 34.8l-.4-1.2-.5-1.2-.6-.9-.7-.7-.7-.6-.6-.3-.6-.1-.5 0" stroke="#3e1738" stroke-width="3.2"/><path d="M614.6 34.8l-.4-1.2-.5-1.2-.6-.9-.7-.7-.7-.6-.6-.3-.6-.1-.5 0" stroke="#8d347f" stroke-width="2.4"/><path d="M614.6 34.8l-.4-1.2-.5-1.2-.6-.9-.7-.7-.7-.6-.6-.3-.6-.1-.5 0" stroke="#cd94c4" stroke-width="0.6"/><path d="M613.7 41.3l1-1.2 .8-1.4 .6-1.4 .5-1.4 .2-1.5 .1-1.5-.1-1.4-.3-1.2" stroke="#3e1738" stroke-width="3.2"/><path d="M613.7 41.3l1-1.2 .8-1.4 .6-1.4 .5-1.4 .2-1.5 .1-1.5-.1-1.4-.3-1.2" stroke="#802f73" stroke-width="2.4"/><path d="M613.7 41.3l1-1.2 .8-1.4 .6-1.4 .5-1.4 .2-1.5 .1-1.5-.1-1.4-.3-1.2" stroke="#cd94c4" stroke-width="0.6"/><path d="M608.1 33.7l-.5 .1-.2 .2-.1 .4 .1 .4 .3 .4 .5 .4 .7 .3 .9 .3" stroke="#3e1738" stroke-width="3.2"/><path d="M608.1 33.7l-.5 .1-.2 .2-.1 .4 .1 .4 .3 .4 .5 .4 .7 .3 .9 .3" stroke="#762c6a" stroke-width="2.4"/><path d="M608.1 33.7l-.5 .1-.2 .2-.1 .4 .1 .4 .3 .4 .5 .4 .7 .3 .9 .3" stroke="#cd94c4" stroke-width="0.6"/><path d="M607.2 40.2l.9 .1 1.1 0 1.2-.1 1.2-.3 1.2-.6 1.3-.7 1.1-.9 1.1-1" stroke="#3e1738" stroke-width="3.2"/><path d="M607.2 40.2l.9 .1 1.1 0 1.2-.1 1.2-.3 1.2-.6 1.3-.7 1.1-.9 1.1-1" stroke="#943785" stroke-width="2.4"/><path d="M607.2 40.2l.9 .1 1.1 0 1.2-.1 1.2-.3 1.2-.6 1.3-.7 1.1-.9 1.1-1" stroke="#cd94c4" stroke-width="0.6"/><path d="M616.5 30.3l-.4-1.2-.6-1-.6-.7-.6-.6-.6-.4-.6-.2-.5 0-.3 .2" stroke="#32143e" stroke-width="3.2"/><path d="M616.5 30.3l-.4-1.2-.6-1-.6-.7-.6-.6-.6-.4-.6-.2-.5 0-.3 .2" stroke="#66297f" stroke-width="2.4"/><path d="M616.5 30.3l-.4-1.2-.6-1-.6-.7-.6-.6-.6-.4-.6-.2-.5 0-.3 .2" stroke="#bb90cc" stroke-width="0.6"/><path d="M616.3 36.7l.9-1.2 .7-1.3 .6-1.4 .4-1.4 .2-1.4 0-1.4-.2-1.3-.3-1.1" stroke="#32143e" stroke-width="3.2"/><path d="M616.3 36.7l.9-1.2 .7-1.3 .6-1.4 .4-1.4 .2-1.4 0-1.4-.2-1.3-.3-1.1" stroke="#763092" stroke-width="2.4"/><path d="M616.3 36.7l.9-1.2 .7-1.3 .6-1.4 .4-1.4 .2-1.4 0-1.4-.2-1.3-.3-1.1" stroke="#bb90cc" stroke-width="0.6"/><path d="M610 29.8l-.3 .2-.1 .3 0 .4 .2 .5 .5 .4 .6 .5 .8 .3 1 .2" stroke="#32143e" stroke-width="3.2"/><path d="M610 29.8l-.3 .2-.1 .3 0 .4 .2 .5 .5 .4 .6 .5 .8 .3 1 .2" stroke="#712e8c" stroke-width="2.4"/><path d="M610 29.8l-.3 .2-.1 .3 0 .4 .2 .5 .5 .4 .6 .5 .8 .3 1 .2" stroke="#bb90cc" stroke-width="0.6"/><path d="M609.8 36.2l1 .1 1.1 0 1.3-.2 1.2-.3 1.3-.6 1.2-.7 1.1-1 1-1" stroke="#32143e" stroke-width="3.2"/><path d="M609.8 36.2l1 .1 1.1 0 1.3-.2 1.2-.3 1.3-.6 1.2-.7 1.1-1 1-1" stroke="#5e2675" stroke-width="2.4"/><path d="M609.8 36.2l1 .1 1.1 0 1.3-.2 1.2-.3 1.3-.6 1.2-.7 1.1-1 1-1" stroke="#bb90cc" stroke-width="0.6"/><path d="M618.6 26.2l-.4-1-.5-.9-.6-.6-.5-.4-.6-.3-.4 0-.4 .1" stroke="#28133e" stroke-width="3.2"/><path d="M618.6 26.2l-.4-1-.5-.9-.6-.6-.5-.4-.6-.3-.4 0-.4 .1" stroke="#602d93" stroke-width="2.4"/><path d="M618.6 26.2l-.4-1-.5-.9-.6-.6-.5-.4-.6-.3-.4 0-.4 .1" stroke="#ad8ecd" stroke-width="0.6"/><path d="M619 32.5l.9-1.2 .7-1.3 .5-1.3 .4-1.4 .1-1.3 0-1.3-.2-1.1" stroke="#28133e" stroke-width="3.2"/><path d="M619 32.5l.9-1.2 .7-1.3 .5-1.3 .4-1.4 .1-1.3 0-1.3-.2-1.1" stroke="#4c2475" stroke-width="2.4"/><path d="M619 32.5l.9-1.2 .7-1.3 .5-1.3 .4-1.4 .1-1.3 0-1.3-.2-1.1" stroke="#ad8ecd" stroke-width="0.6"/><path d="M612.3 26.4l-.2 .2 0 .4 .2 .5 .4 .5 .5 .5 .8 .4 .9 .3" stroke="#28133e" stroke-width="3.2"/><path d="M612.3 26.4l-.2 .2 0 .4 .2 .5 .4 .5 .5 .5 .8 .4 .9 .3" stroke="#53277f" stroke-width="2.4"/><path d="M612.3 26.4l-.2 .2 0 .4 .2 .5 .4 .5 .5 .5 .8 .4 .9 .3" stroke="#ad8ecd" stroke-width="0.6"/><path d="M612.7 32.6l1.1 .2 1.2-.1 1.3-.2 1.2-.5 1.3-.6 1.2-.7 1.1-1" stroke="#28133e" stroke-width="3.2"/><path d="M612.7 32.6l1.1 .2 1.2-.1 1.3-.2 1.2-.5 1.3-.6 1.2-.7 1.1-1" stroke="#5b2b8c" stroke-width="2.4"/><path d="M612.7 32.6l1.1 .2 1.2-.1 1.3-.2 1.2-.5 1.3-.6 1.2-.7 1.1-1" stroke="#ad8ecd" stroke-width="0.6"/><use href="#w3" opacity="0.30"/>
<defs><linearGradient id="ga" x1="0" y1="1" x2="0" y2="0"><stop offset="0.000" stop-color="#3e2c8e"/><stop offset="0.120" stop-color="#54309e"/><stop offset="0.240" stop-color="#7232a5"/><stop offset="0.330" stop-color="#9238a0"/><stop offset="0.410" stop-color="#b0408c"/><stop offset="0.490" stop-color="#cd5073"/><stop offset="0.570" stop-color="#e26058"/><stop offset="0.630" stop-color="#ec7644"/><stop offset="0.690" stop-color="#f18e36"/><stop offset="0.750" stop-color="#f5a632"/><stop offset="0.810" stop-color="#f8c346"/><stop offset="0.870" stop-color="#fad870"/><stop offset="0.930" stop-color="#fceca2"/><stop offset="1.000" stop-color="#fff9da"/></linearGradient></defs><rect x="206.2" y="31.1" width="7.8" height="183.4" fill="url(#ga)" stroke="#5a5550" stroke-width="0.9"/><text x="217.8" y="50.1" class="tk" style="font-size:6.4px">82</text><text x="217.8" y="69.2" class="tk" style="font-size:6.4px">80</text><text x="217.8" y="88.3" class="tk" style="font-size:6.4px">78</text><text x="217.8" y="107.4" class="tk" style="font-size:6.4px">76</text><text x="217.8" y="126.5" class="tk" style="font-size:6.4px">74</text><text x="217.8" y="145.6" class="tk" style="font-size:6.4px">72</text><text x="217.8" y="164.7" class="tk" style="font-size:6.4px">70</text><text x="217.8" y="183.8" class="tk" style="font-size:6.4px">68</text><text x="217.8" y="202.9" class="tk" style="font-size:6.4px">66</text><path d="M206.2 47.3h1.3M214.0 47.3h-1.3M206.2 66.4h1.3M214.0 66.4h-1.3M206.2 85.5h1.3M214.0 85.5h-1.3M206.2 104.7h1.3M214.0 104.7h-1.3M206.2 123.8h1.3M214.0 123.8h-1.3M206.2 142.9h1.3M214.0 142.9h-1.3M206.2 162.0h1.3M214.0 162.0h-1.3M206.2 181.1h1.3M214.0 181.1h-1.3M206.2 200.2h1.3M214.0 200.2h-1.3" stroke="#333" stroke-width="0.8" style="stroke-linecap:butt"/><defs><linearGradient id="gb" x1="0" y1="1" x2="0" y2="0"><stop offset="0.000" stop-color="#3e2c8e"/><stop offset="0.120" stop-color="#54309e"/><stop offset="0.240" stop-color="#7232a5"/><stop offset="0.330" stop-color="#9238a0"/><stop offset="0.410" stop-color="#b0408c"/><stop offset="0.490" stop-color="#cd5073"/><stop offset="0.570" stop-color="#e26058"/><stop offset="0.630" stop-color="#ec7644"/><stop offset="0.690" stop-color="#f18e36"/><stop offset="0.750" stop-color="#f5a632"/><stop offset="0.810" stop-color="#f8c346"/><stop offset="0.870" stop-color="#fad870"/><stop offset="0.930" stop-color="#fceca2"/><stop offset="1.000" stop-color="#fff9da"/></linearGradient></defs><rect x="429.6" y="32.2" width="7.8" height="185.8" fill="url(#gb)" stroke="#5a5550" stroke-width="0.9"/><text x="441.2" y="50.1" class="tk" style="font-size:6.4px">80</text><text x="441.2" y="70.3" class="tk" style="font-size:6.4px">78</text><text x="441.2" y="90.5" class="tk" style="font-size:6.4px">76</text><text x="441.2" y="110.7" class="tk" style="font-size:6.4px">74</text><text x="441.2" y="130.9" class="tk" style="font-size:6.4px">72</text><text x="441.2" y="151.1" class="tk" style="font-size:6.4px">70</text><text x="441.2" y="171.3" class="tk" style="font-size:6.4px">68</text><text x="441.2" y="191.5" class="tk" style="font-size:6.4px">66</text><text x="441.2" y="211.7" class="tk" style="font-size:6.4px">64</text><path d="M429.6 47.3h1.3M437.4 47.3h-1.3M429.6 67.5h1.3M437.4 67.5h-1.3M429.6 87.7h1.3M437.4 87.7h-1.3M429.6 107.9h1.3M437.4 107.9h-1.3M429.6 128.1h1.3M437.4 128.1h-1.3M429.6 148.3h1.3M437.4 148.3h-1.3M429.6 168.5h1.3M437.4 168.5h-1.3M429.6 188.7h1.3M437.4 188.7h-1.3M429.6 208.9h1.3M437.4 208.9h-1.3" stroke="#333" stroke-width="0.8" style="stroke-linecap:butt"/><defs><linearGradient id="gc" x1="0" y1="1" x2="0" y2="0"><stop offset="0.000" stop-color="#3e2c8e"/><stop offset="0.120" stop-color="#54309e"/><stop offset="0.240" stop-color="#7232a5"/><stop offset="0.330" stop-color="#9238a0"/><stop offset="0.410" stop-color="#b0408c"/><stop offset="0.490" stop-color="#cd5073"/><stop offset="0.570" stop-color="#e26058"/><stop offset="0.630" stop-color="#ec7644"/><stop offset="0.690" stop-color="#f18e36"/><stop offset="0.750" stop-color="#f5a632"/><stop offset="0.810" stop-color="#f8c346"/><stop offset="0.870" stop-color="#fad870"/><stop offset="0.930" stop-color="#fceca2"/><stop offset="1.000" stop-color="#fff9da"/></linearGradient></defs><rect x="660.0" y="29.0" width="7.8" height="197.6" fill="url(#gc)" stroke="#5a5550" stroke-width="0.9"/><text x="671.6" y="40.4" class="tk" style="font-size:6.6px">78</text><text x="671.6" y="65.3" class="tk" style="font-size:6.6px">76</text><text x="671.6" y="90.2" class="tk" style="font-size:6.6px">74</text><text x="671.6" y="115.0" class="tk" style="font-size:6.6px">72</text><text x="671.6" y="139.9" class="tk" style="font-size:6.6px">70</text><text x="671.6" y="164.7" class="tk" style="font-size:6.6px">68</text><text x="671.6" y="189.6" class="tk" style="font-size:6.6px">66</text><text x="671.6" y="214.4" class="tk" style="font-size:6.6px">64</text><path d="M660.0 37.7h1.3M667.8 37.7h-1.3M660.0 62.6h1.3M667.8 62.6h-1.3M660.0 87.4h1.3M667.8 87.4h-1.3M660.0 112.3h1.3M667.8 112.3h-1.3M660.0 137.1h1.3M667.8 137.1h-1.3M660.0 162.0h1.3M667.8 162.0h-1.3M660.0 186.8h1.3M667.8 186.8h-1.3M660.0 211.7h1.3M667.8 211.7h-1.3" stroke="#333" stroke-width="0.8" style="stroke-linecap:butt"/>
<text x="213.6" y="9.1" class="tk" style="font-size:6.4px">degC</text><path class="f" d="M200.3 18.6L202.7 14.6L205.1 18.6Z"/><text x="207.8" y="19.0" class="tk" style="font-size:6.4px">83.7</text><path class="f" d="M200.3 221.0L202.7 224.8L205.1 221.0Z"/><text x="207.8" y="225.1" class="tk" style="font-size:6.4px">64.5</text><text x="438.1" y="8.4" class="tk" style="font-size:6.4px">degC</text><path class="f" d="M423.4 18.4L426.0 14.3L428.7 18.4Z"/><text x="431.4" y="18.8" class="tk" style="font-size:6.4px">81.5</text><path class="f" d="M423.4 224.4L426.0 228.6L428.7 224.4Z"/><text x="431.4" y="228.9" class="tk" style="font-size:6.4px">63.1</text><text x="668.8" y="5.2" class="tk" style="font-size:6.6px">degC</text><path class="f" d="M654.0 15.1L656.4 11.0L658.7 15.1Z"/><text x="662.0" y="15.8" class="tk" style="font-size:6.6px">78.7</text><path class="f" d="M653.6 233.4L656.2 237.9L658.7 233.4Z"/><text x="661.6" y="237.9" class="tk" style="font-size:6.6px">62.8</text>
<text x="81.4" y="247.8" class="lab" textLength="28.8" lengthAdjust="spacingAndGlyphs">4mm</text><text x="110.6" y="241.6" class="lab" style="font-size:8.6px">2</text><text x="316.3" y="251.5" class="lab" textLength="28.3" lengthAdjust="spacingAndGlyphs">6mm</text><text x="345.0" y="244.9" class="lab" style="font-size:8.6px">2</text><text x="547.7" y="252.8" class="lab" textLength="34.0" lengthAdjust="spacingAndGlyphs">10mm</text><text x="582.1" y="246.4" class="lab" style="font-size:8.2px">2</text>
</svg>
</body></html>
